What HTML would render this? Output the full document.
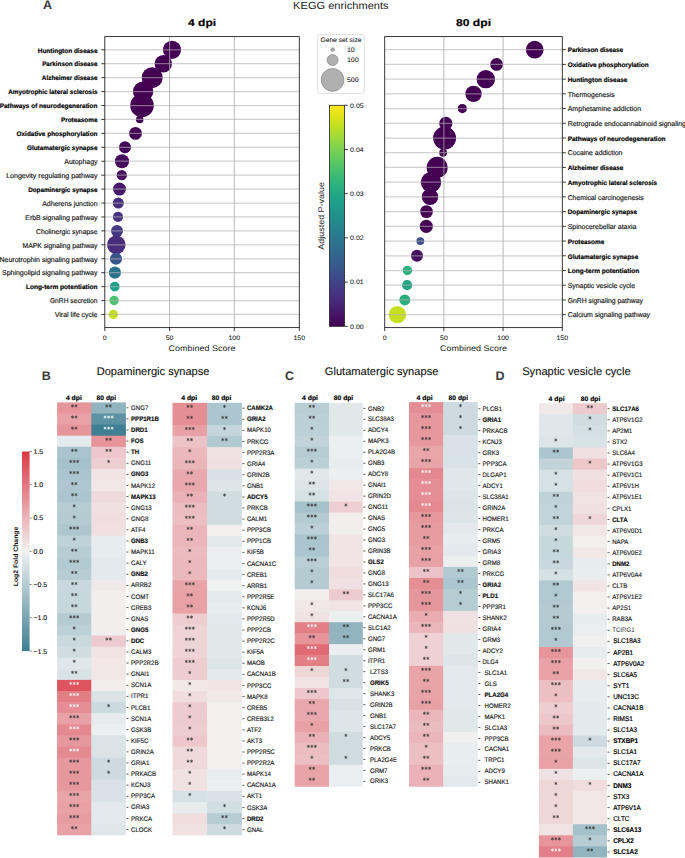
<!DOCTYPE html>
<html><head><meta charset="utf-8"><style>
html,body{margin:0;padding:0;background:#fff;}
svg{display:block;font-family:'Liberation Sans',sans-serif;}
text{font-family:'Liberation Sans',sans-serif;text-rendering:geometricPrecision;}
</style></head><body>
<svg width="685" height="858" viewBox="0 0 685 858">
<rect width="685" height="858" fill="#fff"/>
<text x="43.00" y="8.90" font-size="12.5" font-weight="bold" fill="#3a3a3a">A</text>
<text x="340.85" y="8.80" font-size="10.3" text-anchor="middle" textLength="95.50" lengthAdjust="spacingAndGlyphs" fill="#1a1a1a">KEGG enrichments</text>
<text x="202.05" y="25.50" font-size="10" text-anchor="middle" font-weight="bold" textLength="28.10" lengthAdjust="spacingAndGlyphs" fill="#000" stroke="#000" stroke-width="0.18">4 dpi</text>
<rect x="104.8" y="36.6" width="194.50" height="291.00" fill="#fff"/>
<circle cx="172.0" cy="49.80" r="9.1" fill="#440154"/>
<circle cx="163.3" cy="63.73" r="8.7" fill="#440154"/>
<circle cx="152.2" cy="77.66" r="10.5" fill="#440154"/>
<circle cx="143.1" cy="91.59" r="10.2" fill="#440154"/>
<circle cx="142.0" cy="105.52" r="11.8" fill="#440154"/>
<circle cx="139.7" cy="119.45" r="3.8" fill="#440154"/>
<circle cx="135.5" cy="133.38" r="6.4" fill="#440154"/>
<circle cx="125.0" cy="147.31" r="6.0" fill="#450559"/>
<circle cx="122.0" cy="161.24" r="7.1" fill="#46085c"/>
<circle cx="121.8" cy="175.17" r="5.2" fill="#470e61"/>
<circle cx="119.5" cy="189.10" r="6.5" fill="#48186a"/>
<circle cx="118.3" cy="203.03" r="5.5" fill="#472e7c"/>
<circle cx="118.0" cy="216.96" r="5.1" fill="#46327e"/>
<circle cx="117.0" cy="230.89" r="6.0" fill="#443983"/>
<circle cx="116.3" cy="244.82" r="9.3" fill="#472d7b"/>
<circle cx="116.0" cy="258.75" r="6.1" fill="#3a548c"/>
<circle cx="114.9" cy="272.68" r="6.1" fill="#2c738e"/>
<circle cx="114.8" cy="286.61" r="4.9" fill="#1fa088"/>
<circle cx="114.1" cy="300.54" r="4.7" fill="#4ac16d"/>
<circle cx="113.3" cy="314.47" r="4.6" fill="#c2df23"/>
<line x1="169.6" y1="36.6" x2="169.6" y2="327.6" stroke="#a8a8a8" stroke-opacity="0.85" stroke-width="0.95"/>
<line x1="234.3" y1="36.6" x2="234.3" y2="327.6" stroke="#a8a8a8" stroke-opacity="0.85" stroke-width="0.95"/>
<line x1="104.8" y1="49.80" x2="299.3" y2="49.80" stroke="#b0b0b0" stroke-opacity="0.6" stroke-width="1.25"/>
<line x1="104.8" y1="63.73" x2="299.3" y2="63.73" stroke="#b0b0b0" stroke-opacity="0.6" stroke-width="1.25"/>
<line x1="104.8" y1="77.66" x2="299.3" y2="77.66" stroke="#b0b0b0" stroke-opacity="0.6" stroke-width="1.25"/>
<line x1="104.8" y1="91.59" x2="299.3" y2="91.59" stroke="#b0b0b0" stroke-opacity="0.6" stroke-width="1.25"/>
<line x1="104.8" y1="105.52" x2="299.3" y2="105.52" stroke="#b0b0b0" stroke-opacity="0.6" stroke-width="1.25"/>
<line x1="104.8" y1="119.45" x2="299.3" y2="119.45" stroke="#b0b0b0" stroke-opacity="0.6" stroke-width="1.25"/>
<line x1="104.8" y1="133.38" x2="299.3" y2="133.38" stroke="#b0b0b0" stroke-opacity="0.6" stroke-width="1.25"/>
<line x1="104.8" y1="147.31" x2="299.3" y2="147.31" stroke="#b0b0b0" stroke-opacity="0.6" stroke-width="1.25"/>
<line x1="104.8" y1="161.24" x2="299.3" y2="161.24" stroke="#b0b0b0" stroke-opacity="0.6" stroke-width="1.25"/>
<line x1="104.8" y1="175.17" x2="299.3" y2="175.17" stroke="#b0b0b0" stroke-opacity="0.6" stroke-width="1.25"/>
<line x1="104.8" y1="189.10" x2="299.3" y2="189.10" stroke="#b0b0b0" stroke-opacity="0.6" stroke-width="1.25"/>
<line x1="104.8" y1="203.03" x2="299.3" y2="203.03" stroke="#b0b0b0" stroke-opacity="0.6" stroke-width="1.25"/>
<line x1="104.8" y1="216.96" x2="299.3" y2="216.96" stroke="#b0b0b0" stroke-opacity="0.6" stroke-width="1.25"/>
<line x1="104.8" y1="230.89" x2="299.3" y2="230.89" stroke="#b0b0b0" stroke-opacity="0.6" stroke-width="1.25"/>
<line x1="104.8" y1="244.82" x2="299.3" y2="244.82" stroke="#b0b0b0" stroke-opacity="0.6" stroke-width="1.25"/>
<line x1="104.8" y1="258.75" x2="299.3" y2="258.75" stroke="#b0b0b0" stroke-opacity="0.6" stroke-width="1.25"/>
<line x1="104.8" y1="272.68" x2="299.3" y2="272.68" stroke="#b0b0b0" stroke-opacity="0.6" stroke-width="1.25"/>
<line x1="104.8" y1="286.61" x2="299.3" y2="286.61" stroke="#b0b0b0" stroke-opacity="0.6" stroke-width="1.25"/>
<line x1="104.8" y1="300.54" x2="299.3" y2="300.54" stroke="#b0b0b0" stroke-opacity="0.6" stroke-width="1.25"/>
<line x1="104.8" y1="314.47" x2="299.3" y2="314.47" stroke="#b0b0b0" stroke-opacity="0.6" stroke-width="1.25"/>
<rect x="104.8" y="36.6" width="194.50" height="291.00" fill="none" stroke="#222" stroke-width="0.9"/>
<line x1="101.3" y1="49.80" x2="104.8" y2="49.80" stroke="#222" stroke-width="0.9"/>
<text x="97.50" y="52.55" font-size="6.6" text-anchor="end" font-weight="bold" textLength="59.70" lengthAdjust="spacingAndGlyphs" fill="#000" stroke="#000" stroke-width="0.18">Huntington disease</text>
<line x1="101.3" y1="63.73" x2="104.8" y2="63.73" stroke="#222" stroke-width="0.9"/>
<text x="97.50" y="66.48" font-size="6.6" text-anchor="end" font-weight="bold" textLength="55.37" lengthAdjust="spacingAndGlyphs" fill="#000" stroke="#000" stroke-width="0.18">Parkinson disease</text>
<line x1="101.3" y1="77.66" x2="104.8" y2="77.66" stroke="#222" stroke-width="0.9"/>
<text x="97.50" y="80.41" font-size="6.6" text-anchor="end" font-weight="bold" textLength="55.68" lengthAdjust="spacingAndGlyphs" fill="#000" stroke="#000" stroke-width="0.18">Alzheimer disease</text>
<line x1="101.3" y1="91.59" x2="104.8" y2="91.59" stroke="#222" stroke-width="0.9"/>
<text x="97.50" y="94.34" font-size="6.6" text-anchor="end" font-weight="bold" textLength="89.32" lengthAdjust="spacingAndGlyphs" fill="#000" stroke="#000" stroke-width="0.18">Amyotrophic lateral sclerosis</text>
<line x1="101.3" y1="105.52" x2="104.8" y2="105.52" stroke="#222" stroke-width="0.9"/>
<text x="97.50" y="108.27" font-size="6.6" text-anchor="end" font-weight="bold" textLength="97.84" lengthAdjust="spacingAndGlyphs" fill="#000" stroke="#000" stroke-width="0.18">Pathways of neurodegeneration</text>
<line x1="101.3" y1="119.45" x2="104.8" y2="119.45" stroke="#222" stroke-width="0.9"/>
<text x="97.50" y="122.20" font-size="6.6" text-anchor="end" font-weight="bold" textLength="36.57" lengthAdjust="spacingAndGlyphs" fill="#000" stroke="#000" stroke-width="0.18">Proteasome</text>
<line x1="101.3" y1="133.38" x2="104.8" y2="133.38" stroke="#222" stroke-width="0.9"/>
<text x="97.50" y="136.13" font-size="6.6" text-anchor="end" font-weight="bold" textLength="80.95" lengthAdjust="spacingAndGlyphs" fill="#000" stroke="#000" stroke-width="0.18">Oxidative phosphorylation</text>
<line x1="101.3" y1="147.31" x2="104.8" y2="147.31" stroke="#222" stroke-width="0.9"/>
<text x="97.50" y="150.06" font-size="6.6" text-anchor="end" font-weight="bold" textLength="70.55" lengthAdjust="spacingAndGlyphs" fill="#000" stroke="#000" stroke-width="0.18">Glutamatergic synapse</text>
<line x1="101.3" y1="161.24" x2="104.8" y2="161.24" stroke="#222" stroke-width="0.9"/>
<text x="97.50" y="163.99" font-size="7.0" text-anchor="end" textLength="33.23" lengthAdjust="spacingAndGlyphs" fill="#1a1a1a" stroke="#1a1a1a" stroke-width="0.18">Autophagy</text>
<line x1="101.3" y1="175.17" x2="104.8" y2="175.17" stroke="#222" stroke-width="0.9"/>
<text x="97.50" y="177.92" font-size="7.0" text-anchor="end" textLength="91.33" lengthAdjust="spacingAndGlyphs" fill="#1a1a1a" stroke="#1a1a1a" stroke-width="0.18">Longevity regulating pathway</text>
<line x1="101.3" y1="189.10" x2="104.8" y2="189.10" stroke="#222" stroke-width="0.9"/>
<text x="97.50" y="191.85" font-size="6.6" text-anchor="end" font-weight="bold" textLength="69.37" lengthAdjust="spacingAndGlyphs" fill="#000" stroke="#000" stroke-width="0.18">Dopaminergic synapse</text>
<line x1="101.3" y1="203.03" x2="104.8" y2="203.03" stroke="#222" stroke-width="0.9"/>
<text x="97.50" y="205.78" font-size="7.0" text-anchor="end" textLength="55.31" lengthAdjust="spacingAndGlyphs" fill="#1a1a1a" stroke="#1a1a1a" stroke-width="0.18">Adherens junction</text>
<line x1="101.3" y1="216.96" x2="104.8" y2="216.96" stroke="#222" stroke-width="0.9"/>
<text x="97.50" y="219.71" font-size="7.0" text-anchor="end" textLength="72.22" lengthAdjust="spacingAndGlyphs" fill="#1a1a1a" stroke="#1a1a1a" stroke-width="0.18">ErbB signaling pathway</text>
<line x1="101.3" y1="230.89" x2="104.8" y2="230.89" stroke="#222" stroke-width="0.9"/>
<text x="97.50" y="233.64" font-size="7.0" text-anchor="end" textLength="61.52" lengthAdjust="spacingAndGlyphs" fill="#1a1a1a" stroke="#1a1a1a" stroke-width="0.18">Cholinergic synapse</text>
<line x1="101.3" y1="244.82" x2="104.8" y2="244.82" stroke="#222" stroke-width="0.9"/>
<text x="97.50" y="247.57" font-size="7.0" text-anchor="end" textLength="74.92" lengthAdjust="spacingAndGlyphs" fill="#1a1a1a" stroke="#1a1a1a" stroke-width="0.18">MAPK signaling pathway</text>
<line x1="101.3" y1="258.75" x2="104.8" y2="258.75" stroke="#222" stroke-width="0.9"/>
<text x="97.50" y="261.50" font-size="7.0" text-anchor="end" textLength="97.96" lengthAdjust="spacingAndGlyphs" fill="#1a1a1a" stroke="#1a1a1a" stroke-width="0.18">Neurotrophin signaling pathway</text>
<line x1="101.3" y1="272.68" x2="104.8" y2="272.68" stroke="#222" stroke-width="0.9"/>
<text x="97.50" y="275.43" font-size="7.0" text-anchor="end" textLength="95.48" lengthAdjust="spacingAndGlyphs" fill="#1a1a1a" stroke="#1a1a1a" stroke-width="0.18">Sphingolipid signaling pathway</text>
<line x1="101.3" y1="286.61" x2="104.8" y2="286.61" stroke="#222" stroke-width="0.9"/>
<text x="97.50" y="289.36" font-size="6.6" text-anchor="end" font-weight="bold" textLength="71.50" lengthAdjust="spacingAndGlyphs" fill="#000" stroke="#000" stroke-width="0.18">Long-term potentiation</text>
<line x1="101.3" y1="300.54" x2="104.8" y2="300.54" stroke="#222" stroke-width="0.9"/>
<text x="97.50" y="303.29" font-size="7.0" text-anchor="end" textLength="47.61" lengthAdjust="spacingAndGlyphs" fill="#1a1a1a" stroke="#1a1a1a" stroke-width="0.18">GnRH secretion</text>
<line x1="101.3" y1="314.47" x2="104.8" y2="314.47" stroke="#222" stroke-width="0.9"/>
<text x="97.50" y="317.22" font-size="7.0" text-anchor="end" textLength="42.75" lengthAdjust="spacingAndGlyphs" fill="#1a1a1a" stroke="#1a1a1a" stroke-width="0.18">Viral life cycle</text>
<line x1="104.8" y1="327.6" x2="104.8" y2="331.1" stroke="#222" stroke-width="0.9"/>
<text x="104.80" y="340.00" font-size="6.4" text-anchor="middle" textLength="3.89" lengthAdjust="spacingAndGlyphs" fill="#222" stroke="#222" stroke-width="0.06">0</text>
<line x1="169.6" y1="327.6" x2="169.6" y2="331.1" stroke="#222" stroke-width="0.9"/>
<text x="169.60" y="340.00" font-size="6.4" text-anchor="middle" textLength="7.79" lengthAdjust="spacingAndGlyphs" fill="#222" stroke="#222" stroke-width="0.06">50</text>
<line x1="234.3" y1="327.6" x2="234.3" y2="331.1" stroke="#222" stroke-width="0.9"/>
<text x="234.30" y="340.00" font-size="6.4" text-anchor="middle" textLength="11.68" lengthAdjust="spacingAndGlyphs" fill="#222" stroke="#222" stroke-width="0.06">100</text>
<line x1="299.3" y1="327.6" x2="299.3" y2="331.1" stroke="#222" stroke-width="0.9"/>
<text x="299.30" y="340.00" font-size="6.4" text-anchor="middle" textLength="11.68" lengthAdjust="spacingAndGlyphs" fill="#222" stroke="#222" stroke-width="0.06">150</text>
<text x="202.05" y="350.80" font-size="8.2" text-anchor="middle" textLength="66.90" lengthAdjust="spacingAndGlyphs" fill="#1a1a1a">Combined Score</text>
<text x="473.50" y="25.50" font-size="10" text-anchor="middle" font-weight="bold" textLength="35.04" lengthAdjust="spacingAndGlyphs" fill="#000" stroke="#000" stroke-width="0.18">80 dpi</text>
<rect x="384.7" y="36.6" width="177.60" height="291.00" fill="#fff"/>
<circle cx="534.7" cy="49.70" r="8.9" fill="#440154"/>
<circle cx="496.6" cy="64.42" r="6.4" fill="#440154"/>
<circle cx="485.8" cy="79.14" r="9.2" fill="#440154"/>
<circle cx="473.5" cy="93.86" r="8.2" fill="#440154"/>
<circle cx="462.3" cy="108.58" r="4.6" fill="#440154"/>
<circle cx="445.8" cy="123.30" r="6.6" fill="#440154"/>
<circle cx="444.6" cy="138.02" r="11.5" fill="#440154"/>
<circle cx="443.1" cy="152.74" r="3.9" fill="#440154"/>
<circle cx="437.2" cy="167.46" r="10.6" fill="#440154"/>
<circle cx="431.0" cy="182.18" r="10.2" fill="#440154"/>
<circle cx="430.0" cy="196.90" r="8.2" fill="#440154"/>
<circle cx="426.5" cy="211.62" r="6.4" fill="#440154"/>
<circle cx="426.3" cy="226.34" r="6.6" fill="#440154"/>
<circle cx="420.3" cy="241.06" r="3.9" fill="#3e4c8a"/>
<circle cx="417.0" cy="255.78" r="6.0" fill="#460f5f"/>
<circle cx="407.4" cy="270.50" r="4.7" fill="#2db27d"/>
<circle cx="407.1" cy="285.22" r="5.1" fill="#25a585"/>
<circle cx="404.8" cy="299.94" r="5.5" fill="#2aae80"/>
<circle cx="397.4" cy="314.66" r="8.7" fill="#c6e021"/>
<line x1="443.9" y1="36.6" x2="443.9" y2="327.6" stroke="#a8a8a8" stroke-opacity="0.85" stroke-width="0.95"/>
<line x1="503.1" y1="36.6" x2="503.1" y2="327.6" stroke="#a8a8a8" stroke-opacity="0.85" stroke-width="0.95"/>
<line x1="384.7" y1="49.70" x2="562.3" y2="49.70" stroke="#b0b0b0" stroke-opacity="0.6" stroke-width="1.25"/>
<line x1="384.7" y1="64.42" x2="562.3" y2="64.42" stroke="#b0b0b0" stroke-opacity="0.6" stroke-width="1.25"/>
<line x1="384.7" y1="79.14" x2="562.3" y2="79.14" stroke="#b0b0b0" stroke-opacity="0.6" stroke-width="1.25"/>
<line x1="384.7" y1="93.86" x2="562.3" y2="93.86" stroke="#b0b0b0" stroke-opacity="0.6" stroke-width="1.25"/>
<line x1="384.7" y1="108.58" x2="562.3" y2="108.58" stroke="#b0b0b0" stroke-opacity="0.6" stroke-width="1.25"/>
<line x1="384.7" y1="123.30" x2="562.3" y2="123.30" stroke="#b0b0b0" stroke-opacity="0.6" stroke-width="1.25"/>
<line x1="384.7" y1="138.02" x2="562.3" y2="138.02" stroke="#b0b0b0" stroke-opacity="0.6" stroke-width="1.25"/>
<line x1="384.7" y1="152.74" x2="562.3" y2="152.74" stroke="#b0b0b0" stroke-opacity="0.6" stroke-width="1.25"/>
<line x1="384.7" y1="167.46" x2="562.3" y2="167.46" stroke="#b0b0b0" stroke-opacity="0.6" stroke-width="1.25"/>
<line x1="384.7" y1="182.18" x2="562.3" y2="182.18" stroke="#b0b0b0" stroke-opacity="0.6" stroke-width="1.25"/>
<line x1="384.7" y1="196.90" x2="562.3" y2="196.90" stroke="#b0b0b0" stroke-opacity="0.6" stroke-width="1.25"/>
<line x1="384.7" y1="211.62" x2="562.3" y2="211.62" stroke="#b0b0b0" stroke-opacity="0.6" stroke-width="1.25"/>
<line x1="384.7" y1="226.34" x2="562.3" y2="226.34" stroke="#b0b0b0" stroke-opacity="0.6" stroke-width="1.25"/>
<line x1="384.7" y1="241.06" x2="562.3" y2="241.06" stroke="#b0b0b0" stroke-opacity="0.6" stroke-width="1.25"/>
<line x1="384.7" y1="255.78" x2="562.3" y2="255.78" stroke="#b0b0b0" stroke-opacity="0.6" stroke-width="1.25"/>
<line x1="384.7" y1="270.50" x2="562.3" y2="270.50" stroke="#b0b0b0" stroke-opacity="0.6" stroke-width="1.25"/>
<line x1="384.7" y1="285.22" x2="562.3" y2="285.22" stroke="#b0b0b0" stroke-opacity="0.6" stroke-width="1.25"/>
<line x1="384.7" y1="299.94" x2="562.3" y2="299.94" stroke="#b0b0b0" stroke-opacity="0.6" stroke-width="1.25"/>
<line x1="384.7" y1="314.66" x2="562.3" y2="314.66" stroke="#b0b0b0" stroke-opacity="0.6" stroke-width="1.25"/>
<rect x="384.7" y="36.6" width="177.60" height="291.00" fill="none" stroke="#222" stroke-width="0.9"/>
<line x1="562.3" y1="49.70" x2="565.8" y2="49.70" stroke="#222" stroke-width="0.9"/>
<text x="567.70" y="52.45" font-size="6.6" font-weight="bold" textLength="55.37" lengthAdjust="spacingAndGlyphs" fill="#000" stroke="#000" stroke-width="0.18">Parkinson disease</text>
<line x1="562.3" y1="64.42" x2="565.8" y2="64.42" stroke="#222" stroke-width="0.9"/>
<text x="567.70" y="67.17" font-size="6.6" font-weight="bold" textLength="80.95" lengthAdjust="spacingAndGlyphs" fill="#000" stroke="#000" stroke-width="0.18">Oxidative phosphorylation</text>
<line x1="562.3" y1="79.14" x2="565.8" y2="79.14" stroke="#222" stroke-width="0.9"/>
<text x="567.70" y="81.89" font-size="6.6" font-weight="bold" textLength="59.70" lengthAdjust="spacingAndGlyphs" fill="#000" stroke="#000" stroke-width="0.18">Huntington disease</text>
<line x1="562.3" y1="93.86" x2="565.8" y2="93.86" stroke="#222" stroke-width="0.9"/>
<text x="567.70" y="96.61" font-size="7.0" textLength="46.87" lengthAdjust="spacingAndGlyphs" fill="#1a1a1a" stroke="#1a1a1a" stroke-width="0.18">Thermogenesis</text>
<line x1="562.3" y1="108.58" x2="565.8" y2="108.58" stroke="#222" stroke-width="0.9"/>
<text x="567.70" y="111.33" font-size="7.0" textLength="73.39" lengthAdjust="spacingAndGlyphs" fill="#1a1a1a" stroke="#1a1a1a" stroke-width="0.18">Amphetamine addiction</text>
<line x1="562.3" y1="123.30" x2="565.8" y2="123.30" stroke="#222" stroke-width="0.9"/>
<text x="567.70" y="126.05" font-size="7.0" textLength="118.22" lengthAdjust="spacingAndGlyphs" fill="#1a1a1a" stroke="#1a1a1a" stroke-width="0.18">Retrograde endocannabinoid signaling</text>
<line x1="562.3" y1="138.02" x2="565.8" y2="138.02" stroke="#222" stroke-width="0.9"/>
<text x="567.70" y="140.77" font-size="6.6" font-weight="bold" textLength="97.84" lengthAdjust="spacingAndGlyphs" fill="#000" stroke="#000" stroke-width="0.18">Pathways of neurodegeneration</text>
<line x1="562.3" y1="152.74" x2="565.8" y2="152.74" stroke="#222" stroke-width="0.9"/>
<text x="567.70" y="155.49" font-size="7.0" textLength="54.73" lengthAdjust="spacingAndGlyphs" fill="#1a1a1a" stroke="#1a1a1a" stroke-width="0.18">Cocaine addiction</text>
<line x1="562.3" y1="167.46" x2="565.8" y2="167.46" stroke="#222" stroke-width="0.9"/>
<text x="567.70" y="170.21" font-size="6.6" font-weight="bold" textLength="55.68" lengthAdjust="spacingAndGlyphs" fill="#000" stroke="#000" stroke-width="0.18">Alzheimer disease</text>
<line x1="562.3" y1="182.18" x2="565.8" y2="182.18" stroke="#222" stroke-width="0.9"/>
<text x="567.70" y="184.93" font-size="6.6" font-weight="bold" textLength="89.32" lengthAdjust="spacingAndGlyphs" fill="#000" stroke="#000" stroke-width="0.18">Amyotrophic lateral sclerosis</text>
<line x1="562.3" y1="196.90" x2="565.8" y2="196.90" stroke="#222" stroke-width="0.9"/>
<text x="567.70" y="199.65" font-size="7.0" textLength="75.90" lengthAdjust="spacingAndGlyphs" fill="#1a1a1a" stroke="#1a1a1a" stroke-width="0.18">Chemical carcinogenesis</text>
<line x1="562.3" y1="211.62" x2="565.8" y2="211.62" stroke="#222" stroke-width="0.9"/>
<text x="567.70" y="214.37" font-size="6.6" font-weight="bold" textLength="69.37" lengthAdjust="spacingAndGlyphs" fill="#000" stroke="#000" stroke-width="0.18">Dopaminergic synapse</text>
<line x1="562.3" y1="226.34" x2="565.8" y2="226.34" stroke="#222" stroke-width="0.9"/>
<text x="567.70" y="229.09" font-size="7.0" textLength="68.61" lengthAdjust="spacingAndGlyphs" fill="#1a1a1a" stroke="#1a1a1a" stroke-width="0.18">Spinocerebellar ataxia</text>
<line x1="562.3" y1="241.06" x2="565.8" y2="241.06" stroke="#222" stroke-width="0.9"/>
<text x="567.70" y="243.81" font-size="6.6" font-weight="bold" textLength="36.57" lengthAdjust="spacingAndGlyphs" fill="#000" stroke="#000" stroke-width="0.18">Proteasome</text>
<line x1="562.3" y1="255.78" x2="565.8" y2="255.78" stroke="#222" stroke-width="0.9"/>
<text x="567.70" y="258.53" font-size="6.6" font-weight="bold" textLength="70.55" lengthAdjust="spacingAndGlyphs" fill="#000" stroke="#000" stroke-width="0.18">Glutamatergic synapse</text>
<line x1="562.3" y1="270.50" x2="565.8" y2="270.50" stroke="#222" stroke-width="0.9"/>
<text x="567.70" y="273.25" font-size="6.6" font-weight="bold" textLength="71.50" lengthAdjust="spacingAndGlyphs" fill="#000" stroke="#000" stroke-width="0.18">Long-term potentiation</text>
<line x1="562.3" y1="285.22" x2="565.8" y2="285.22" stroke="#222" stroke-width="0.9"/>
<text x="567.70" y="287.97" font-size="7.0" textLength="67.30" lengthAdjust="spacingAndGlyphs" fill="#1a1a1a" stroke="#1a1a1a" stroke-width="0.18">Synaptic vesicle cycle</text>
<line x1="562.3" y1="299.94" x2="565.8" y2="299.94" stroke="#222" stroke-width="0.9"/>
<text x="567.70" y="302.69" font-size="7.0" textLength="75.22" lengthAdjust="spacingAndGlyphs" fill="#1a1a1a" stroke="#1a1a1a" stroke-width="0.18">GnRH signaling pathway</text>
<line x1="562.3" y1="314.66" x2="565.8" y2="314.66" stroke="#222" stroke-width="0.9"/>
<text x="567.70" y="317.41" font-size="7.0" textLength="82.38" lengthAdjust="spacingAndGlyphs" fill="#1a1a1a" stroke="#1a1a1a" stroke-width="0.18">Calcium signaling pathway</text>
<line x1="384.7" y1="327.6" x2="384.7" y2="331.1" stroke="#222" stroke-width="0.9"/>
<text x="384.70" y="340.00" font-size="6.4" text-anchor="middle" textLength="3.89" lengthAdjust="spacingAndGlyphs" fill="#222" stroke="#222" stroke-width="0.06">0</text>
<line x1="443.9" y1="327.6" x2="443.9" y2="331.1" stroke="#222" stroke-width="0.9"/>
<text x="443.90" y="340.00" font-size="6.4" text-anchor="middle" textLength="7.79" lengthAdjust="spacingAndGlyphs" fill="#222" stroke="#222" stroke-width="0.06">50</text>
<line x1="503.1" y1="327.6" x2="503.1" y2="331.1" stroke="#222" stroke-width="0.9"/>
<text x="503.10" y="340.00" font-size="6.4" text-anchor="middle" textLength="11.68" lengthAdjust="spacingAndGlyphs" fill="#222" stroke="#222" stroke-width="0.06">100</text>
<line x1="562.3" y1="327.6" x2="562.3" y2="331.1" stroke="#222" stroke-width="0.9"/>
<text x="562.30" y="340.00" font-size="6.4" text-anchor="middle" textLength="11.68" lengthAdjust="spacingAndGlyphs" fill="#222" stroke="#222" stroke-width="0.06">150</text>
<text x="473.50" y="350.80" font-size="8.2" text-anchor="middle" textLength="66.90" lengthAdjust="spacingAndGlyphs" fill="#1a1a1a">Combined Score</text>
<rect x="317.8" y="34.6" width="46.4" height="58.8" rx="1.5" fill="#fff" stroke="#d6d6d6" stroke-width="0.8"/>
<text x="341.00" y="42.30" font-size="6.6" text-anchor="middle" textLength="41.20" lengthAdjust="spacingAndGlyphs" fill="#222" stroke="#222" stroke-width="0.08">Gene set size</text>
<circle cx="332.6" cy="49.6" r="1.8" fill="#b0b0b0" stroke="#858585" stroke-width="0.7"/>
<text x="346.90" y="52.00" font-size="6.6" textLength="7.79" lengthAdjust="spacingAndGlyphs" fill="#222" stroke="#222" stroke-width="0.08">10</text>
<circle cx="332.6" cy="60.0" r="5.5" fill="#b0b0b0" stroke="#858585" stroke-width="0.7"/>
<text x="346.90" y="62.40" font-size="6.6" textLength="11.68" lengthAdjust="spacingAndGlyphs" fill="#222" stroke="#222" stroke-width="0.08">100</text>
<circle cx="332.6" cy="79.9" r="11.4" fill="#b0b0b0" stroke="#858585" stroke-width="0.7"/>
<text x="346.90" y="82.30" font-size="6.6" textLength="11.68" lengthAdjust="spacingAndGlyphs" fill="#222" stroke="#222" stroke-width="0.08">500</text>
<defs><linearGradient id="vir" x1="0" y1="0" x2="0" y2="1"><stop offset="0.000" stop-color="#fde725"/><stop offset="0.050" stop-color="#dfe318"/><stop offset="0.100" stop-color="#bddf26"/><stop offset="0.150" stop-color="#9bd93c"/><stop offset="0.200" stop-color="#7ad151"/><stop offset="0.250" stop-color="#5ec962"/><stop offset="0.300" stop-color="#44bf70"/><stop offset="0.350" stop-color="#2fb47c"/><stop offset="0.400" stop-color="#22a884"/><stop offset="0.450" stop-color="#1e9c89"/><stop offset="0.500" stop-color="#21918c"/><stop offset="0.550" stop-color="#25848e"/><stop offset="0.600" stop-color="#2a788e"/><stop offset="0.650" stop-color="#2f6c8e"/><stop offset="0.700" stop-color="#355f8d"/><stop offset="0.750" stop-color="#3b528b"/><stop offset="0.800" stop-color="#414487"/><stop offset="0.850" stop-color="#463480"/><stop offset="0.900" stop-color="#482475"/><stop offset="0.950" stop-color="#471365"/><stop offset="1.000" stop-color="#440154"/></linearGradient>
<linearGradient id="div" x1="0" y1="0" x2="0" y2="1"><stop offset="0.000" stop-color="#da3b46"/><stop offset="0.033" stop-color="#db4651"/><stop offset="0.067" stop-color="#dd535d"/><stop offset="0.100" stop-color="#df5e68"/><stop offset="0.133" stop-color="#e06b74"/><stop offset="0.167" stop-color="#e2777f"/><stop offset="0.200" stop-color="#e4838b"/><stop offset="0.233" stop-color="#e58f95"/><stop offset="0.267" stop-color="#e79ca2"/><stop offset="0.300" stop-color="#e9a8ad"/><stop offset="0.333" stop-color="#eab5b9"/><stop offset="0.367" stop-color="#ecc0c3"/><stop offset="0.400" stop-color="#eecdcf"/><stop offset="0.433" stop-color="#efd9da"/><stop offset="0.467" stop-color="#f1e5e6"/><stop offset="0.500" stop-color="#f2f1f1"/><stop offset="0.533" stop-color="#e4eaed"/><stop offset="0.567" stop-color="#d8e2e6"/><stop offset="0.600" stop-color="#cddbe0"/><stop offset="0.633" stop-color="#c0d3d9"/><stop offset="0.667" stop-color="#b5ccd3"/><stop offset="0.700" stop-color="#a9c4cc"/><stop offset="0.733" stop-color="#9ebdc6"/><stop offset="0.767" stop-color="#91b4bf"/><stop offset="0.800" stop-color="#85adb9"/><stop offset="0.833" stop-color="#79a5b3"/><stop offset="0.867" stop-color="#6e9ead"/><stop offset="0.900" stop-color="#6296a6"/><stop offset="0.933" stop-color="#578fa0"/><stop offset="0.967" stop-color="#4a8699"/><stop offset="1.000" stop-color="#3f7f93"/></linearGradient></defs>
<rect x="329.5" y="105.3" width="15" height="221" fill="url(#vir)" stroke="#222" stroke-width="0.8"/>
<line x1="344.5" y1="105.30" x2="347.8" y2="105.30" stroke="#222" stroke-width="0.9"/>
<text x="350.10" y="107.60" font-size="6.4" textLength="13.63" lengthAdjust="spacingAndGlyphs" fill="#222" stroke="#222" stroke-width="0.06">0.05</text>
<line x1="344.5" y1="149.50" x2="347.8" y2="149.50" stroke="#222" stroke-width="0.9"/>
<text x="350.10" y="151.80" font-size="6.4" textLength="13.63" lengthAdjust="spacingAndGlyphs" fill="#222" stroke="#222" stroke-width="0.06">0.04</text>
<line x1="344.5" y1="193.70" x2="347.8" y2="193.70" stroke="#222" stroke-width="0.9"/>
<text x="350.10" y="196.00" font-size="6.4" textLength="13.63" lengthAdjust="spacingAndGlyphs" fill="#222" stroke="#222" stroke-width="0.06">0.03</text>
<line x1="344.5" y1="237.90" x2="347.8" y2="237.90" stroke="#222" stroke-width="0.9"/>
<text x="350.10" y="240.20" font-size="6.4" textLength="13.63" lengthAdjust="spacingAndGlyphs" fill="#222" stroke="#222" stroke-width="0.06">0.02</text>
<line x1="344.5" y1="282.10" x2="347.8" y2="282.10" stroke="#222" stroke-width="0.9"/>
<text x="350.10" y="284.40" font-size="6.4" textLength="13.63" lengthAdjust="spacingAndGlyphs" fill="#222" stroke="#222" stroke-width="0.06">0.01</text>
<line x1="344.5" y1="326.30" x2="347.8" y2="326.30" stroke="#222" stroke-width="0.9"/>
<text x="350.10" y="328.60" font-size="6.4" textLength="13.63" lengthAdjust="spacingAndGlyphs" fill="#222" stroke="#222" stroke-width="0.06">0.00</text>
<text transform="translate(324.0,215.9) rotate(-90)" x="0" y="0" font-size="8.2" text-anchor="middle" fill="#1a1a1a" textLength="67.56" lengthAdjust="spacingAndGlyphs">Adjusted P-value</text>
<text x="41.80" y="379.90" font-size="12.5" font-weight="bold" fill="#3a3a3a">B</text>
<text x="284.90" y="380.30" font-size="12.5" font-weight="bold" fill="#3a3a3a">C</text>
<text x="495.60" y="380.30" font-size="12.5" font-weight="bold" fill="#3a3a3a">D</text>
<text x="96.70" y="374.70" font-size="11.1" textLength="112.80" lengthAdjust="spacingAndGlyphs" fill="#111" stroke="#111" stroke-width="0.1">Dopaminergic synapse</text>
<text x="324.80" y="374.70" font-size="11.1" textLength="113.60" lengthAdjust="spacingAndGlyphs" fill="#111" stroke="#111" stroke-width="0.1">Glutamatergic synapse</text>
<text x="522.20" y="374.70" font-size="11.1" textLength="108.40" lengthAdjust="spacingAndGlyphs" fill="#111" stroke="#111" stroke-width="0.1">Synaptic vesicle cycle</text>
<rect x="22.0" y="451.5" width="7.6" height="199.6" fill="url(#div)"/>
<line x1="29.6" y1="451.50" x2="31.6" y2="451.50" stroke="#444" stroke-width="0.7"/>
<text x="33.60" y="453.90" font-size="6.9" fill="#262626" stroke="#262626" stroke-width="0.18">1.5</text>
<line x1="29.6" y1="484.77" x2="31.6" y2="484.77" stroke="#444" stroke-width="0.7"/>
<text x="33.60" y="487.17" font-size="6.9" fill="#262626" stroke="#262626" stroke-width="0.18">1.0</text>
<line x1="29.6" y1="518.03" x2="31.6" y2="518.03" stroke="#444" stroke-width="0.7"/>
<text x="33.60" y="520.43" font-size="6.9" fill="#262626" stroke="#262626" stroke-width="0.18">0.5</text>
<line x1="29.6" y1="551.30" x2="31.6" y2="551.30" stroke="#444" stroke-width="0.7"/>
<text x="33.60" y="553.70" font-size="6.9" fill="#262626" stroke="#262626" stroke-width="0.18">0.0</text>
<line x1="29.6" y1="584.57" x2="31.6" y2="584.57" stroke="#444" stroke-width="0.7"/>
<text x="33.60" y="586.97" font-size="6.9" fill="#262626" stroke="#262626" stroke-width="0.18">−0.5</text>
<line x1="29.6" y1="617.83" x2="31.6" y2="617.83" stroke="#444" stroke-width="0.7"/>
<text x="33.60" y="620.23" font-size="6.9" fill="#262626" stroke="#262626" stroke-width="0.18">−1.0</text>
<line x1="29.6" y1="651.10" x2="31.6" y2="651.10" stroke="#444" stroke-width="0.7"/>
<text x="33.60" y="653.50" font-size="6.9" fill="#262626" stroke="#262626" stroke-width="0.18">−1.5</text>
<text transform="translate(18.0,556.5) rotate(-90)" x="0" y="0" font-size="6.6" font-weight="bold" text-anchor="middle" fill="#111" textLength="59.6" lengthAdjust="spacingAndGlyphs">Log2 Fold Change</text>
<text x="73.90" y="399.60" font-size="6.6" text-anchor="middle" font-weight="bold" textLength="16.00" lengthAdjust="spacingAndGlyphs" fill="#000" stroke="#000" stroke-width="0.18">4 dpi</text>
<text x="106.35" y="399.60" font-size="6.6" text-anchor="middle" font-weight="bold" textLength="19.50" lengthAdjust="spacingAndGlyphs" fill="#000" stroke="#000" stroke-width="0.18">80 dpi</text>
<rect x="57.10" y="402.40" width="34.80" height="11.70" fill="#e6959b"/>
<path d="M72.45,404.75L72.45,407.15M71.41,405.35L73.49,406.55M73.49,405.35L71.41,406.55M75.95,404.75L75.95,407.15M74.91,405.35L76.99,406.55M76.99,405.35L74.91,406.55" stroke="#333333" stroke-width="0.65" stroke-linecap="round"/>
<rect x="91.30" y="402.40" width="34.60" height="11.70" fill="#91b4bf"/>
<path d="M106.85,404.75L106.85,407.15M105.81,405.35L107.89,406.55M107.89,405.35L105.81,406.55M110.35,404.75L110.35,407.15M109.31,405.35L111.39,406.55M111.39,405.35L109.31,406.55" stroke="#333333" stroke-width="0.65" stroke-linecap="round"/>
<line x1="126.40" y1="407.75" x2="128.50" y2="407.75" stroke="#333" stroke-width="0.8"/>
<text x="131.00" y="409.85" font-size="6.6" textLength="17.29" lengthAdjust="spacingAndGlyphs" fill="#262626" stroke="#262626" stroke-width="0.18">GNG7</text>
<rect x="57.10" y="413.50" width="34.80" height="11.70" fill="#e8a2a7"/>
<path d="M72.45,415.85L72.45,418.25M71.41,416.45L73.49,417.65M73.49,416.45L71.41,417.65M75.95,415.85L75.95,418.25M74.91,416.45L76.99,417.65M76.99,416.45L74.91,417.65" stroke="#333333" stroke-width="0.65" stroke-linecap="round"/>
<rect x="91.30" y="413.50" width="34.60" height="11.70" fill="#5c92a3"/>
<path d="M105.10,415.85L105.10,418.25M104.06,416.45L106.14,417.65M106.14,416.45L104.06,417.65M108.60,415.85L108.60,418.25M107.56,416.45L109.64,417.65M109.64,416.45L107.56,417.65M112.10,415.85L112.10,418.25M111.06,416.45L113.14,417.65M113.14,416.45L111.06,417.65" stroke="#ffffff" stroke-width="0.65" stroke-linecap="round"/>
<line x1="126.40" y1="418.85" x2="128.50" y2="418.85" stroke="#333" stroke-width="0.8"/>
<text x="131.00" y="420.95" font-size="6.6" font-weight="bold" textLength="27.80" lengthAdjust="spacingAndGlyphs" fill="#111" stroke="#111" stroke-width="0.18">PPP1R1B</text>
<rect x="57.10" y="424.60" width="34.80" height="11.70" fill="#e6959b"/>
<path d="M72.45,426.95L72.45,429.35M71.41,427.55L73.49,428.75M73.49,427.55L71.41,428.75M75.95,426.95L75.95,429.35M74.91,427.55L76.99,428.75M76.99,427.55L74.91,428.75" stroke="#333333" stroke-width="0.65" stroke-linecap="round"/>
<rect x="91.30" y="424.60" width="34.60" height="11.70" fill="#3f7f93"/>
<path d="M105.10,426.95L105.10,429.35M104.06,427.55L106.14,428.75M106.14,427.55L104.06,428.75M108.60,426.95L108.60,429.35M107.56,427.55L109.64,428.75M109.64,427.55L107.56,428.75M112.10,426.95L112.10,429.35M111.06,427.55L113.14,428.75M113.14,427.55L111.06,428.75" stroke="#ffffff" stroke-width="0.65" stroke-linecap="round"/>
<line x1="126.40" y1="429.95" x2="128.50" y2="429.95" stroke="#333" stroke-width="0.8"/>
<text x="131.00" y="432.05" font-size="6.6" font-weight="bold" textLength="16.61" lengthAdjust="spacingAndGlyphs" fill="#111" stroke="#111" stroke-width="0.18">DRD1</text>
<rect x="57.10" y="435.70" width="34.80" height="11.70" fill="#e4eaed"/>
<rect x="91.30" y="435.70" width="34.60" height="11.70" fill="#e69399"/>
<path d="M106.85,438.05L106.85,440.45M105.81,438.65L107.89,439.85M107.89,438.65L105.81,439.85M110.35,438.05L110.35,440.45M109.31,438.65L111.39,439.85M111.39,438.65L109.31,439.85" stroke="#333333" stroke-width="0.65" stroke-linecap="round"/>
<line x1="126.40" y1="441.05" x2="128.50" y2="441.05" stroke="#333" stroke-width="0.8"/>
<text x="131.00" y="443.15" font-size="6.6" font-weight="bold" textLength="12.54" lengthAdjust="spacingAndGlyphs" fill="#111" stroke="#111" stroke-width="0.18">FOS</text>
<rect x="57.10" y="446.80" width="34.80" height="11.70" fill="#a9c4cc"/>
<path d="M72.45,449.15L72.45,451.55M71.41,449.75L73.49,450.95M73.49,449.75L71.41,450.95M75.95,449.15L75.95,451.55M74.91,449.75L76.99,450.95M76.99,449.75L74.91,450.95" stroke="#333333" stroke-width="0.65" stroke-linecap="round"/>
<rect x="91.30" y="446.80" width="34.60" height="11.70" fill="#edc7ca"/>
<path d="M106.85,449.15L106.85,451.55M105.81,449.75L107.89,450.95M107.89,449.75L105.81,450.95M110.35,449.15L110.35,451.55M109.31,449.75L111.39,450.95M111.39,449.75L109.31,450.95" stroke="#333333" stroke-width="0.65" stroke-linecap="round"/>
<line x1="126.40" y1="452.15" x2="128.50" y2="452.15" stroke="#333" stroke-width="0.8"/>
<text x="131.00" y="454.25" font-size="6.6" font-weight="bold" textLength="8.13" lengthAdjust="spacingAndGlyphs" fill="#111" stroke="#111" stroke-width="0.18">TH</text>
<rect x="57.10" y="457.90" width="34.80" height="11.70" fill="#a5c1ca"/>
<path d="M70.70,460.25L70.70,462.65M69.66,460.85L71.74,462.05M71.74,460.85L69.66,462.05M74.20,460.25L74.20,462.65M73.16,460.85L75.24,462.05M75.24,460.85L73.16,462.05M77.70,460.25L77.70,462.65M76.66,460.85L78.74,462.05M78.74,460.85L76.66,462.05" stroke="#333333" stroke-width="0.65" stroke-linecap="round"/>
<rect x="91.30" y="457.90" width="34.60" height="11.70" fill="#eecfd1"/>
<path d="M108.60,460.25L108.60,462.65M107.56,460.85L109.64,462.05M109.64,460.85L107.56,462.05" stroke="#333333" stroke-width="0.65" stroke-linecap="round"/>
<line x1="126.40" y1="463.25" x2="128.50" y2="463.25" stroke="#333" stroke-width="0.8"/>
<text x="131.00" y="465.35" font-size="6.6" textLength="20.23" lengthAdjust="spacingAndGlyphs" fill="#262626" stroke="#262626" stroke-width="0.18">GNG11</text>
<rect x="57.10" y="469.00" width="34.80" height="11.70" fill="#aac5cd"/>
<path d="M70.70,471.35L70.70,473.75M69.66,471.95L71.74,473.15M71.74,471.95L69.66,473.15M74.20,471.35L74.20,473.75M73.16,471.95L75.24,473.15M75.24,471.95L73.16,473.15M77.70,471.35L77.70,473.75M76.66,471.95L78.74,473.15M78.74,471.95L76.66,473.15" stroke="#333333" stroke-width="0.65" stroke-linecap="round"/>
<rect x="91.30" y="469.00" width="34.60" height="11.70" fill="#f1e4e5"/>
<line x1="126.40" y1="474.35" x2="128.50" y2="474.35" stroke="#333" stroke-width="0.8"/>
<text x="131.00" y="476.45" font-size="6.6" font-weight="bold" textLength="17.29" lengthAdjust="spacingAndGlyphs" fill="#111" stroke="#111" stroke-width="0.18">GNG3</text>
<rect x="57.10" y="480.10" width="34.80" height="11.70" fill="#adc6cf"/>
<path d="M72.45,482.45L72.45,484.85M71.41,483.05L73.49,484.25M73.49,483.05L71.41,484.25M75.95,482.45L75.95,484.85M74.91,483.05L76.99,484.25M76.99,483.05L74.91,484.25" stroke="#333333" stroke-width="0.65" stroke-linecap="round"/>
<rect x="91.30" y="480.10" width="34.60" height="11.70" fill="#f1e7e7"/>
<line x1="126.40" y1="485.45" x2="128.50" y2="485.45" stroke="#333" stroke-width="0.8"/>
<text x="131.00" y="487.55" font-size="6.6" textLength="24.07" lengthAdjust="spacingAndGlyphs" fill="#262626" stroke="#262626" stroke-width="0.18">MAPK12</text>
<rect x="57.10" y="491.20" width="34.80" height="11.70" fill="#aac5cd"/>
<path d="M72.45,493.55L72.45,495.95M71.41,494.15L73.49,495.35M73.49,494.15L71.41,495.35M75.95,493.55L75.95,495.95M74.91,494.15L76.99,495.35M76.99,494.15L74.91,495.35" stroke="#333333" stroke-width="0.65" stroke-linecap="round"/>
<rect x="91.30" y="491.20" width="34.60" height="11.70" fill="#efdadb"/>
<line x1="126.40" y1="496.55" x2="128.50" y2="496.55" stroke="#333" stroke-width="0.8"/>
<text x="131.00" y="498.65" font-size="6.6" font-weight="bold" textLength="24.75" lengthAdjust="spacingAndGlyphs" fill="#111" stroke="#111" stroke-width="0.18">MAPK13</text>
<rect x="57.10" y="502.30" width="34.80" height="11.70" fill="#b5ccd3"/>
<path d="M74.20,504.65L74.20,507.05M73.16,505.25L75.24,506.45M75.24,505.25L73.16,506.45" stroke="#333333" stroke-width="0.65" stroke-linecap="round"/>
<rect x="91.30" y="502.30" width="34.60" height="11.70" fill="#f0e0e1"/>
<line x1="126.40" y1="507.65" x2="128.50" y2="507.65" stroke="#333" stroke-width="0.8"/>
<text x="131.00" y="509.75" font-size="6.6" textLength="20.68" lengthAdjust="spacingAndGlyphs" fill="#262626" stroke="#262626" stroke-width="0.18">GNG13</text>
<rect x="57.10" y="513.40" width="34.80" height="11.70" fill="#b4cbd2"/>
<path d="M74.20,515.75L74.20,518.15M73.16,516.35L75.24,517.55M75.24,516.35L73.16,517.55" stroke="#333333" stroke-width="0.65" stroke-linecap="round"/>
<rect x="91.30" y="513.40" width="34.60" height="11.70" fill="#f0dedf"/>
<line x1="126.40" y1="518.75" x2="128.50" y2="518.75" stroke="#333" stroke-width="0.8"/>
<text x="131.00" y="520.85" font-size="6.6" textLength="17.29" lengthAdjust="spacingAndGlyphs" fill="#262626" stroke="#262626" stroke-width="0.18">GNG8</text>
<rect x="57.10" y="524.50" width="34.80" height="11.70" fill="#aec7cf"/>
<path d="M70.70,526.85L70.70,529.25M69.66,527.45L71.74,528.65M71.74,527.45L69.66,528.65M74.20,526.85L74.20,529.25M73.16,527.45L75.24,528.65M75.24,527.45L73.16,528.65M77.70,526.85L77.70,529.25M76.66,527.45L78.74,528.65M78.74,527.45L76.66,528.65" stroke="#333333" stroke-width="0.65" stroke-linecap="round"/>
<rect x="91.30" y="524.50" width="34.60" height="11.70" fill="#f0e0e1"/>
<line x1="126.40" y1="529.85" x2="128.50" y2="529.85" stroke="#333" stroke-width="0.8"/>
<text x="131.00" y="531.95" font-size="6.6" textLength="14.46" lengthAdjust="spacingAndGlyphs" fill="#262626" stroke="#262626" stroke-width="0.18">ATF4</text>
<rect x="57.10" y="535.60" width="34.80" height="11.70" fill="#bfd2d8"/>
<path d="M74.20,537.95L74.20,540.35M73.16,538.55L75.24,539.75M75.24,538.55L73.16,539.75" stroke="#333333" stroke-width="0.65" stroke-linecap="round"/>
<rect x="91.30" y="535.60" width="34.60" height="11.70" fill="#e7ecee"/>
<line x1="126.40" y1="540.95" x2="128.50" y2="540.95" stroke="#333" stroke-width="0.8"/>
<text x="131.00" y="543.05" font-size="6.6" font-weight="bold" textLength="16.95" lengthAdjust="spacingAndGlyphs" fill="#111" stroke="#111" stroke-width="0.18">GNB3</text>
<rect x="57.10" y="546.70" width="34.80" height="11.70" fill="#b7cdd4"/>
<path d="M72.45,549.05L72.45,551.45M71.41,549.65L73.49,550.85M73.49,549.65L71.41,550.85M75.95,549.05L75.95,551.45M74.91,549.65L76.99,550.85M76.99,549.65L74.91,550.85" stroke="#333333" stroke-width="0.65" stroke-linecap="round"/>
<rect x="91.30" y="546.70" width="34.60" height="11.70" fill="#e7ecee"/>
<line x1="126.40" y1="552.05" x2="128.50" y2="552.05" stroke="#333" stroke-width="0.8"/>
<text x="131.00" y="554.15" font-size="6.6" textLength="23.62" lengthAdjust="spacingAndGlyphs" fill="#262626" stroke="#262626" stroke-width="0.18">MAPK11</text>
<rect x="57.10" y="557.80" width="34.80" height="11.70" fill="#b2cad2"/>
<path d="M70.70,560.15L70.70,562.55M69.66,560.75L71.74,561.95M71.74,560.75L69.66,561.95M74.20,560.15L74.20,562.55M73.16,560.75L75.24,561.95M75.24,560.75L73.16,561.95M77.70,560.15L77.70,562.55M76.66,560.75L78.74,561.95M78.74,560.75L76.66,561.95" stroke="#333333" stroke-width="0.65" stroke-linecap="round"/>
<rect x="91.30" y="557.80" width="34.60" height="11.70" fill="#e3e9ec"/>
<line x1="126.40" y1="563.15" x2="128.50" y2="563.15" stroke="#333" stroke-width="0.8"/>
<text x="131.00" y="565.25" font-size="6.6" textLength="15.48" lengthAdjust="spacingAndGlyphs" fill="#262626" stroke="#262626" stroke-width="0.18">CALY</text>
<rect x="57.10" y="568.90" width="34.80" height="11.70" fill="#b7cdd4"/>
<path d="M72.45,571.25L72.45,573.65M71.41,571.85L73.49,573.05M73.49,571.85L71.41,573.05M75.95,571.25L75.95,573.65M74.91,571.85L76.99,573.05M76.99,571.85L74.91,573.05" stroke="#333333" stroke-width="0.65" stroke-linecap="round"/>
<rect x="91.30" y="568.90" width="34.60" height="11.70" fill="#e3e9ec"/>
<line x1="126.40" y1="574.25" x2="128.50" y2="574.25" stroke="#333" stroke-width="0.8"/>
<text x="131.00" y="576.35" font-size="6.6" font-weight="bold" textLength="16.95" lengthAdjust="spacingAndGlyphs" fill="#111" stroke="#111" stroke-width="0.18">GNB2</text>
<rect x="57.10" y="580.00" width="34.80" height="11.70" fill="#c8d8de"/>
<path d="M72.45,582.35L72.45,584.75M71.41,582.95L73.49,584.15M73.49,582.95L71.41,584.15M75.95,582.35L75.95,584.75M74.91,582.95L76.99,584.15M76.99,582.95L74.91,584.15" stroke="#333333" stroke-width="0.65" stroke-linecap="round"/>
<rect x="91.30" y="580.00" width="34.60" height="11.70" fill="#f1e8e9"/>
<line x1="126.40" y1="585.35" x2="128.50" y2="585.35" stroke="#333" stroke-width="0.8"/>
<text x="131.00" y="587.45" font-size="6.6" textLength="20.34" lengthAdjust="spacingAndGlyphs" fill="#262626" stroke="#262626" stroke-width="0.18">ARRB2</text>
<rect x="57.10" y="591.10" width="34.80" height="11.70" fill="#c7d8dd"/>
<path d="M72.45,593.45L72.45,595.85M71.41,594.05L73.49,595.25M73.49,594.05L71.41,595.25M75.95,593.45L75.95,595.85M74.91,594.05L76.99,595.25M76.99,594.05L74.91,595.25" stroke="#333333" stroke-width="0.65" stroke-linecap="round"/>
<rect x="91.30" y="591.10" width="34.60" height="11.70" fill="#f2eeee"/>
<line x1="126.40" y1="596.45" x2="128.50" y2="596.45" stroke="#333" stroke-width="0.8"/>
<text x="131.00" y="598.55" font-size="6.6" textLength="17.96" lengthAdjust="spacingAndGlyphs" fill="#262626" stroke="#262626" stroke-width="0.18">COMT</text>
<rect x="57.10" y="602.20" width="34.80" height="11.70" fill="#c7d8dd"/>
<path d="M72.45,604.55L72.45,606.95M71.41,605.15L73.49,606.35M73.49,605.15L71.41,606.35M75.95,604.55L75.95,606.95M74.91,605.15L76.99,606.35M76.99,605.15L74.91,606.35" stroke="#333333" stroke-width="0.65" stroke-linecap="round"/>
<rect x="91.30" y="602.20" width="34.60" height="11.70" fill="#f2eeee"/>
<line x1="126.40" y1="607.55" x2="128.50" y2="607.55" stroke="#333" stroke-width="0.8"/>
<text x="131.00" y="609.65" font-size="6.6" textLength="20.34" lengthAdjust="spacingAndGlyphs" fill="#262626" stroke="#262626" stroke-width="0.18">CREB3</text>
<rect x="57.10" y="613.30" width="34.80" height="11.70" fill="#b4cbd2"/>
<path d="M70.70,615.65L70.70,618.05M69.66,616.25L71.74,617.45M71.74,616.25L69.66,617.45M74.20,615.65L74.20,618.05M73.16,616.25L75.24,617.45M75.24,616.25L73.16,617.45M77.70,615.65L77.70,618.05M76.66,616.25L78.74,617.45M78.74,616.25L76.66,617.45" stroke="#333333" stroke-width="0.65" stroke-linecap="round"/>
<rect x="91.30" y="613.30" width="34.60" height="11.70" fill="#f2eeee"/>
<line x1="126.40" y1="618.65" x2="128.50" y2="618.65" stroke="#333" stroke-width="0.8"/>
<text x="131.00" y="620.75" font-size="6.6" textLength="17.29" lengthAdjust="spacingAndGlyphs" fill="#262626" stroke="#262626" stroke-width="0.18">GNAS</text>
<rect x="57.10" y="624.40" width="34.80" height="11.70" fill="#bcd0d7"/>
<path d="M74.20,626.75L74.20,629.15M73.16,627.35L75.24,628.55M75.24,627.35L73.16,628.55" stroke="#333333" stroke-width="0.65" stroke-linecap="round"/>
<rect x="91.30" y="624.40" width="34.60" height="11.70" fill="#f2eeee"/>
<line x1="126.40" y1="629.75" x2="128.50" y2="629.75" stroke="#333" stroke-width="0.8"/>
<text x="131.00" y="631.85" font-size="6.6" font-weight="bold" textLength="17.29" lengthAdjust="spacingAndGlyphs" fill="#111" stroke="#111" stroke-width="0.18">GNG5</text>
<rect x="57.10" y="635.50" width="34.80" height="11.70" fill="#cad9de"/>
<path d="M74.20,637.85L74.20,640.25M73.16,638.45L75.24,639.65M75.24,638.45L73.16,639.65" stroke="#333333" stroke-width="0.65" stroke-linecap="round"/>
<rect x="91.30" y="635.50" width="34.60" height="11.70" fill="#edcacd"/>
<path d="M106.85,637.85L106.85,640.25M105.81,638.45L107.89,639.65M107.89,638.45L105.81,639.65M110.35,637.85L110.35,640.25M109.31,638.45L111.39,639.65M111.39,638.45L109.31,639.65" stroke="#333333" stroke-width="0.65" stroke-linecap="round"/>
<line x1="126.40" y1="640.85" x2="128.50" y2="640.85" stroke="#333" stroke-width="0.8"/>
<text x="131.00" y="642.95" font-size="6.6" font-weight="bold" textLength="13.22" lengthAdjust="spacingAndGlyphs" fill="#111" stroke="#111" stroke-width="0.18">DDC</text>
<rect x="57.10" y="646.60" width="34.80" height="11.70" fill="#cfdde1"/>
<path d="M74.20,648.95L74.20,651.35M73.16,649.55L75.24,650.75M75.24,649.55L73.16,650.75" stroke="#333333" stroke-width="0.65" stroke-linecap="round"/>
<rect x="91.30" y="646.60" width="34.60" height="11.70" fill="#f0e3e3"/>
<line x1="126.40" y1="651.95" x2="128.50" y2="651.95" stroke="#333" stroke-width="0.8"/>
<text x="131.00" y="654.05" font-size="6.6" textLength="20.34" lengthAdjust="spacingAndGlyphs" fill="#262626" stroke="#262626" stroke-width="0.18">CALM3</text>
<rect x="57.10" y="657.70" width="34.80" height="11.70" fill="#dfe7ea"/>
<path d="M74.20,660.05L74.20,662.45M73.16,660.65L75.24,661.85M75.24,660.65L73.16,661.85" stroke="#333333" stroke-width="0.65" stroke-linecap="round"/>
<rect x="91.30" y="657.70" width="34.60" height="11.70" fill="#f1e7e7"/>
<line x1="126.40" y1="663.05" x2="128.50" y2="663.05" stroke="#333" stroke-width="0.8"/>
<text x="131.00" y="665.15" font-size="6.6" textLength="27.47" lengthAdjust="spacingAndGlyphs" fill="#262626" stroke="#262626" stroke-width="0.18">PPP2R2B</text>
<rect x="57.10" y="668.80" width="34.80" height="11.70" fill="#d9e3e7"/>
<path d="M72.45,671.15L72.45,673.55M71.41,671.75L73.49,672.95M73.49,671.75L71.41,672.95M75.95,671.15L75.95,673.55M74.91,671.75L76.99,672.95M76.99,671.75L74.91,672.95" stroke="#333333" stroke-width="0.65" stroke-linecap="round"/>
<rect x="91.30" y="668.80" width="34.60" height="11.70" fill="#f1e7e7"/>
<line x1="126.40" y1="674.15" x2="128.50" y2="674.15" stroke="#333" stroke-width="0.8"/>
<text x="131.00" y="676.25" font-size="6.6" textLength="18.31" lengthAdjust="spacingAndGlyphs" fill="#262626" stroke="#262626" stroke-width="0.18">GNAI1</text>
<rect x="57.10" y="679.90" width="34.80" height="11.70" fill="#dd545e"/>
<path d="M70.70,682.25L70.70,684.65M69.66,682.85L71.74,684.05M71.74,682.85L69.66,684.05M74.20,682.25L74.20,684.65M73.16,682.85L75.24,684.05M75.24,682.85L73.16,684.05M77.70,682.25L77.70,684.65M76.66,682.85L78.74,684.05M78.74,682.85L76.66,684.05" stroke="#ffffff" stroke-width="0.65" stroke-linecap="round"/>
<rect x="91.30" y="679.90" width="34.60" height="11.70" fill="#f2eeee"/>
<line x1="126.40" y1="685.25" x2="128.50" y2="685.25" stroke="#333" stroke-width="0.8"/>
<text x="131.00" y="687.35" font-size="6.6" textLength="20.34" lengthAdjust="spacingAndGlyphs" fill="#262626" stroke="#262626" stroke-width="0.18">SCN1A</text>
<rect x="57.10" y="691.00" width="34.80" height="11.70" fill="#e37e85"/>
<path d="M70.70,693.35L70.70,695.75M69.66,693.95L71.74,695.15M71.74,693.95L69.66,695.15M74.20,693.35L74.20,695.75M73.16,693.95L75.24,695.15M75.24,693.95L73.16,695.15M77.70,693.35L77.70,695.75M76.66,693.95L78.74,695.15M78.74,693.95L76.66,695.15" stroke="#ffffff" stroke-width="0.65" stroke-linecap="round"/>
<rect x="91.30" y="691.00" width="34.60" height="11.70" fill="#dae4e7"/>
<line x1="126.40" y1="696.35" x2="128.50" y2="696.35" stroke="#333" stroke-width="0.8"/>
<text x="131.00" y="698.45" font-size="6.6" textLength="17.29" lengthAdjust="spacingAndGlyphs" fill="#262626" stroke="#262626" stroke-width="0.18">ITPR1</text>
<rect x="57.10" y="702.10" width="34.80" height="11.70" fill="#e58d94"/>
<path d="M70.70,704.45L70.70,706.85M69.66,705.05L71.74,706.25M71.74,705.05L69.66,706.25M74.20,704.45L74.20,706.85M73.16,705.05L75.24,706.25M75.24,705.05L73.16,706.25M77.70,704.45L77.70,706.85M76.66,705.05L78.74,706.25M78.74,705.05L76.66,706.25" stroke="#ffffff" stroke-width="0.65" stroke-linecap="round"/>
<rect x="91.30" y="702.10" width="34.60" height="11.70" fill="#cbdadf"/>
<path d="M108.60,704.45L108.60,706.85M107.56,705.05L109.64,706.25M109.64,705.05L107.56,706.25" stroke="#333333" stroke-width="0.65" stroke-linecap="round"/>
<line x1="126.40" y1="707.45" x2="128.50" y2="707.45" stroke="#333" stroke-width="0.8"/>
<text x="131.00" y="709.55" font-size="6.6" textLength="19.33" lengthAdjust="spacingAndGlyphs" fill="#262626" stroke="#262626" stroke-width="0.18">PLCB1</text>
<rect x="57.10" y="713.20" width="34.80" height="11.70" fill="#e8a1a6"/>
<path d="M70.70,715.55L70.70,717.95M69.66,716.15L71.74,717.35M71.74,716.15L69.66,717.35M74.20,715.55L74.20,717.95M73.16,716.15L75.24,717.35M75.24,716.15L73.16,717.35M77.70,715.55L77.70,717.95M76.66,716.15L78.74,717.35M78.74,716.15L76.66,717.35" stroke="#333333" stroke-width="0.65" stroke-linecap="round"/>
<rect x="91.30" y="713.20" width="34.60" height="11.70" fill="#e6ebed"/>
<line x1="126.40" y1="718.55" x2="128.50" y2="718.55" stroke="#333" stroke-width="0.8"/>
<text x="131.00" y="720.65" font-size="6.6" textLength="20.34" lengthAdjust="spacingAndGlyphs" fill="#262626" stroke="#262626" stroke-width="0.18">SCN1A</text>
<rect x="57.10" y="724.30" width="34.80" height="11.70" fill="#e48990"/>
<path d="M70.70,726.65L70.70,729.05M69.66,727.25L71.74,728.45M71.74,727.25L69.66,728.45M74.20,726.65L74.20,729.05M73.16,727.25L75.24,728.45M75.24,727.25L73.16,728.45M77.70,726.65L77.70,729.05M76.66,727.25L78.74,728.45M78.74,727.25L76.66,728.45" stroke="#ffffff" stroke-width="0.65" stroke-linecap="round"/>
<rect x="91.30" y="724.30" width="34.60" height="11.70" fill="#ebeff0"/>
<line x1="126.40" y1="729.65" x2="128.50" y2="729.65" stroke="#333" stroke-width="0.8"/>
<text x="131.00" y="731.75" font-size="6.6" textLength="20.34" lengthAdjust="spacingAndGlyphs" fill="#262626" stroke="#262626" stroke-width="0.18">GSK3B</text>
<rect x="57.10" y="735.40" width="34.80" height="11.70" fill="#e6989e"/>
<path d="M70.70,737.75L70.70,740.15M69.66,738.35L71.74,739.55M71.74,738.35L69.66,739.55M74.20,737.75L74.20,740.15M73.16,738.35L75.24,739.55M75.24,738.35L73.16,739.55M77.70,737.75L77.70,740.15M76.66,738.35L78.74,739.55M78.74,738.35L76.66,739.55" stroke="#333333" stroke-width="0.65" stroke-linecap="round"/>
<rect x="91.30" y="735.40" width="34.60" height="11.70" fill="#dae4e7"/>
<line x1="126.40" y1="740.75" x2="128.50" y2="740.75" stroke="#333" stroke-width="0.8"/>
<text x="131.00" y="742.85" font-size="6.6" textLength="17.29" lengthAdjust="spacingAndGlyphs" fill="#262626" stroke="#262626" stroke-width="0.18">KIF5C</text>
<rect x="57.10" y="746.50" width="34.80" height="11.70" fill="#e48990"/>
<path d="M70.70,748.85L70.70,751.25M69.66,749.45L71.74,750.65M71.74,749.45L69.66,750.65M74.20,748.85L74.20,751.25M73.16,749.45L75.24,750.65M75.24,749.45L73.16,750.65M77.70,748.85L77.70,751.25M76.66,749.45L78.74,750.65M78.74,749.45L76.66,750.65" stroke="#ffffff" stroke-width="0.65" stroke-linecap="round"/>
<rect x="91.30" y="746.50" width="34.60" height="11.70" fill="#dae4e7"/>
<line x1="126.40" y1="751.85" x2="128.50" y2="751.85" stroke="#333" stroke-width="0.8"/>
<text x="131.00" y="753.95" font-size="6.6" textLength="22.71" lengthAdjust="spacingAndGlyphs" fill="#262626" stroke="#262626" stroke-width="0.18">GRIN2A</text>
<rect x="57.10" y="757.60" width="34.80" height="11.70" fill="#e6989e"/>
<path d="M70.70,759.95L70.70,762.35M69.66,760.55L71.74,761.75M71.74,760.55L69.66,761.75M74.20,759.95L74.20,762.35M73.16,760.55L75.24,761.75M75.24,760.55L73.16,761.75M77.70,759.95L77.70,762.35M76.66,760.55L78.74,761.75M78.74,760.55L76.66,761.75" stroke="#333333" stroke-width="0.65" stroke-linecap="round"/>
<rect x="91.30" y="757.60" width="34.60" height="11.70" fill="#cddbe0"/>
<path d="M108.60,759.95L108.60,762.35M107.56,760.55L109.64,761.75M109.64,760.55L107.56,761.75" stroke="#333333" stroke-width="0.65" stroke-linecap="round"/>
<line x1="126.40" y1="762.95" x2="128.50" y2="762.95" stroke="#333" stroke-width="0.8"/>
<text x="131.00" y="765.05" font-size="6.6" textLength="18.31" lengthAdjust="spacingAndGlyphs" fill="#262626" stroke="#262626" stroke-width="0.18">GRIA1</text>
<rect x="57.10" y="768.70" width="34.80" height="11.70" fill="#e6989e"/>
<path d="M70.70,771.05L70.70,773.45M69.66,771.65L71.74,772.85M71.74,771.65L69.66,772.85M74.20,771.05L74.20,773.45M73.16,771.65L75.24,772.85M75.24,771.65L73.16,772.85M77.70,771.05L77.70,773.45M76.66,771.65L78.74,772.85M78.74,771.65L76.66,772.85" stroke="#333333" stroke-width="0.65" stroke-linecap="round"/>
<rect x="91.30" y="768.70" width="34.60" height="11.70" fill="#cddbe0"/>
<path d="M108.60,771.05L108.60,773.45M107.56,771.65L109.64,772.85M109.64,771.65L107.56,772.85" stroke="#333333" stroke-width="0.65" stroke-linecap="round"/>
<line x1="126.40" y1="774.05" x2="128.50" y2="774.05" stroke="#333" stroke-width="0.8"/>
<text x="131.00" y="776.15" font-size="6.6" textLength="25.09" lengthAdjust="spacingAndGlyphs" fill="#262626" stroke="#262626" stroke-width="0.18">PRKACB</text>
<rect x="57.10" y="779.80" width="34.80" height="11.70" fill="#e6989e"/>
<path d="M70.70,782.15L70.70,784.55M69.66,782.75L71.74,783.95M71.74,782.75L69.66,783.95M74.20,782.15L74.20,784.55M73.16,782.75L75.24,783.95M75.24,782.75L73.16,783.95M77.70,782.15L77.70,784.55M76.66,782.75L78.74,783.95M78.74,782.75L76.66,783.95" stroke="#333333" stroke-width="0.65" stroke-linecap="round"/>
<rect x="91.30" y="779.80" width="34.60" height="11.70" fill="#d9e3e7"/>
<line x1="126.40" y1="785.15" x2="128.50" y2="785.15" stroke="#333" stroke-width="0.8"/>
<text x="131.00" y="787.25" font-size="6.6" textLength="19.32" lengthAdjust="spacingAndGlyphs" fill="#262626" stroke="#262626" stroke-width="0.18">KCNJ3</text>
<rect x="57.10" y="790.90" width="34.80" height="11.70" fill="#e8a4a9"/>
<path d="M70.70,793.25L70.70,795.65M69.66,793.85L71.74,795.05M71.74,793.85L69.66,795.05M74.20,793.25L74.20,795.65M73.16,793.85L75.24,795.05M75.24,793.85L73.16,795.05M77.70,793.25L77.70,795.65M76.66,793.85L78.74,795.05M78.74,793.85L76.66,795.05" stroke="#333333" stroke-width="0.65" stroke-linecap="round"/>
<rect x="91.30" y="790.90" width="34.60" height="11.70" fill="#d9e3e7"/>
<line x1="126.40" y1="796.25" x2="128.50" y2="796.25" stroke="#333" stroke-width="0.8"/>
<text x="131.00" y="798.35" font-size="6.6" textLength="24.07" lengthAdjust="spacingAndGlyphs" fill="#262626" stroke="#262626" stroke-width="0.18">PPP3CA</text>
<rect x="57.10" y="802.00" width="34.80" height="11.70" fill="#e8a1a6"/>
<path d="M70.70,804.35L70.70,806.75M69.66,804.95L71.74,806.15M71.74,804.95L69.66,806.15M74.20,804.35L74.20,806.75M73.16,804.95L75.24,806.15M75.24,804.95L73.16,806.15M77.70,804.35L77.70,806.75M76.66,804.95L78.74,806.15M78.74,804.95L76.66,806.15" stroke="#333333" stroke-width="0.65" stroke-linecap="round"/>
<rect x="91.30" y="802.00" width="34.60" height="11.70" fill="#e3e9ec"/>
<line x1="126.40" y1="807.35" x2="128.50" y2="807.35" stroke="#333" stroke-width="0.8"/>
<text x="131.00" y="809.45" font-size="6.6" textLength="18.31" lengthAdjust="spacingAndGlyphs" fill="#262626" stroke="#262626" stroke-width="0.18">GRIA3</text>
<rect x="57.10" y="813.10" width="34.80" height="11.70" fill="#e79ca2"/>
<path d="M70.70,815.45L70.70,817.85M69.66,816.05L71.74,817.25M71.74,816.05L69.66,817.25M74.20,815.45L74.20,817.85M73.16,816.05L75.24,817.25M75.24,816.05L73.16,817.25M77.70,815.45L77.70,817.85M76.66,816.05L78.74,817.25M78.74,816.05L76.66,817.25" stroke="#333333" stroke-width="0.65" stroke-linecap="round"/>
<rect x="91.30" y="813.10" width="34.60" height="11.70" fill="#e3e9ec"/>
<line x1="126.40" y1="818.45" x2="128.50" y2="818.45" stroke="#333" stroke-width="0.8"/>
<text x="131.00" y="820.55" font-size="6.6" textLength="21.02" lengthAdjust="spacingAndGlyphs" fill="#262626" stroke="#262626" stroke-width="0.18">PRKCA</text>
<rect x="57.10" y="824.20" width="34.80" height="11.10" fill="#e8a1a6"/>
<path d="M72.45,826.55L72.45,828.95M71.41,827.15L73.49,828.35M73.49,827.15L71.41,828.35M75.95,826.55L75.95,828.95M74.91,827.15L76.99,828.35M76.99,827.15L74.91,828.35" stroke="#333333" stroke-width="0.65" stroke-linecap="round"/>
<rect x="91.30" y="824.20" width="34.60" height="11.10" fill="#dde6e9"/>
<line x1="126.40" y1="829.55" x2="128.50" y2="829.55" stroke="#333" stroke-width="0.8"/>
<text x="131.00" y="831.65" font-size="6.6" textLength="21.02" lengthAdjust="spacingAndGlyphs" fill="#262626" stroke="#262626" stroke-width="0.18">CLOCK</text>
<text x="189.20" y="400.20" font-size="6.6" text-anchor="middle" font-weight="bold" textLength="16.00" lengthAdjust="spacingAndGlyphs" fill="#000" stroke="#000" stroke-width="0.18">4 dpi</text>
<text x="221.60" y="400.20" font-size="6.6" text-anchor="middle" font-weight="bold" textLength="19.50" lengthAdjust="spacingAndGlyphs" fill="#000" stroke="#000" stroke-width="0.18">80 dpi</text>
<rect x="172.50" y="402.80" width="35.20" height="11.69" fill="#e58f95"/>
<path d="M188.05,405.15L188.05,407.55M187.01,405.75L189.09,406.95M189.09,405.75L187.01,406.95M191.55,405.15L191.55,407.55M190.51,405.75L192.59,406.95M192.59,405.75L190.51,406.95" stroke="#333333" stroke-width="0.65" stroke-linecap="round"/>
<rect x="207.10" y="402.80" width="34.80" height="11.69" fill="#abc6ce"/>
<path d="M224.50,405.15L224.50,407.55M223.46,405.75L225.54,406.95M225.54,405.75L223.46,406.95" stroke="#333333" stroke-width="0.65" stroke-linecap="round"/>
<line x1="242.40" y1="408.20" x2="244.50" y2="408.20" stroke="#333" stroke-width="0.8"/>
<text x="246.90" y="410.30" font-size="6.6" font-weight="bold" textLength="26.09" lengthAdjust="spacingAndGlyphs" fill="#111" stroke="#111" stroke-width="0.18">CAMK2A</text>
<rect x="172.50" y="413.89" width="35.20" height="11.69" fill="#e58f95"/>
<path d="M188.05,416.24L188.05,418.63M187.01,416.83L189.09,418.04M189.09,416.83L187.01,418.04M191.55,416.24L191.55,418.63M190.51,416.83L192.59,418.04M192.59,416.83L190.51,418.04" stroke="#333333" stroke-width="0.65" stroke-linecap="round"/>
<rect x="207.10" y="413.89" width="34.80" height="11.69" fill="#abc6ce"/>
<path d="M222.75,416.24L222.75,418.63M221.71,416.83L223.79,418.04M223.79,416.83L221.71,418.04M226.25,416.24L226.25,418.63M225.21,416.83L227.29,418.04M227.29,416.83L225.21,418.04" stroke="#333333" stroke-width="0.65" stroke-linecap="round"/>
<line x1="242.40" y1="419.29" x2="244.50" y2="419.29" stroke="#333" stroke-width="0.8"/>
<text x="246.90" y="421.39" font-size="6.6" font-weight="bold" textLength="18.64" lengthAdjust="spacingAndGlyphs" fill="#111" stroke="#111" stroke-width="0.18">GRIA2</text>
<rect x="172.50" y="424.98" width="35.20" height="11.69" fill="#e8a1a6"/>
<path d="M186.30,427.33L186.30,429.73M185.26,427.93L187.34,429.13M187.34,427.93L185.26,429.13M189.80,427.33L189.80,429.73M188.76,427.93L190.84,429.13M190.84,427.93L188.76,429.13M193.30,427.33L193.30,429.73M192.26,427.93L194.34,429.13M194.34,427.93L192.26,429.13" stroke="#333333" stroke-width="0.65" stroke-linecap="round"/>
<rect x="207.10" y="424.98" width="34.80" height="11.69" fill="#c4d6db"/>
<path d="M224.50,427.33L224.50,429.73M223.46,427.93L225.54,429.13M225.54,427.93L223.46,429.13" stroke="#333333" stroke-width="0.65" stroke-linecap="round"/>
<line x1="242.40" y1="430.38" x2="244.50" y2="430.38" stroke="#333" stroke-width="0.8"/>
<text x="246.90" y="432.48" font-size="6.6" textLength="24.07" lengthAdjust="spacingAndGlyphs" fill="#262626" stroke="#262626" stroke-width="0.18">MAPK10</text>
<rect x="172.50" y="436.07" width="35.20" height="11.69" fill="#ecc3c6"/>
<path d="M188.05,438.42L188.05,440.81M187.01,439.01L189.09,440.22M189.09,439.01L187.01,440.22M191.55,438.42L191.55,440.81M190.51,439.01L192.59,440.22M192.59,439.01L190.51,440.22" stroke="#333333" stroke-width="0.65" stroke-linecap="round"/>
<rect x="207.10" y="436.07" width="34.80" height="11.69" fill="#b1c9d1"/>
<path d="M222.75,438.42L222.75,440.81M221.71,439.01L223.79,440.22M223.79,439.01L221.71,440.22M226.25,438.42L226.25,440.81M225.21,439.01L227.29,440.22M227.29,439.01L225.21,440.22" stroke="#333333" stroke-width="0.65" stroke-linecap="round"/>
<line x1="242.40" y1="441.47" x2="244.50" y2="441.47" stroke="#333" stroke-width="0.8"/>
<text x="246.90" y="443.57" font-size="6.6" textLength="21.69" lengthAdjust="spacingAndGlyphs" fill="#262626" stroke="#262626" stroke-width="0.18">PRKCG</text>
<rect x="172.50" y="447.16" width="35.20" height="11.69" fill="#ebb8bb"/>
<path d="M189.80,449.51L189.80,451.91M188.76,450.11L190.84,451.31M190.84,450.11L188.76,451.31" stroke="#333333" stroke-width="0.65" stroke-linecap="round"/>
<rect x="207.10" y="447.16" width="34.80" height="11.69" fill="#f0e1e2"/>
<line x1="242.40" y1="452.56" x2="244.50" y2="452.56" stroke="#333" stroke-width="0.8"/>
<text x="246.90" y="454.66" font-size="6.6" textLength="27.47" lengthAdjust="spacingAndGlyphs" fill="#262626" stroke="#262626" stroke-width="0.18">PPP2R3A</text>
<rect x="172.50" y="458.25" width="35.20" height="11.69" fill="#eab6ba"/>
<path d="M186.30,460.60L186.30,463.00M185.26,461.19L187.34,462.40M187.34,461.19L185.26,462.40M189.80,460.60L189.80,463.00M188.76,461.19L190.84,462.40M190.84,461.19L188.76,462.40M193.30,460.60L193.30,463.00M192.26,461.19L194.34,462.40M194.34,461.19L192.26,462.40" stroke="#333333" stroke-width="0.65" stroke-linecap="round"/>
<rect x="207.10" y="458.25" width="34.80" height="11.69" fill="#f0e0e1"/>
<line x1="242.40" y1="463.65" x2="244.50" y2="463.65" stroke="#333" stroke-width="0.8"/>
<text x="246.90" y="465.75" font-size="6.6" textLength="18.31" lengthAdjust="spacingAndGlyphs" fill="#262626" stroke="#262626" stroke-width="0.18">GRIA4</text>
<rect x="172.50" y="469.34" width="35.20" height="11.69" fill="#e9a8ad"/>
<path d="M188.05,471.69L188.05,474.09M187.01,472.29L189.09,473.49M189.09,472.29L187.01,473.49M191.55,471.69L191.55,474.09M190.51,472.29L192.59,473.49M192.59,472.29L190.51,473.49" stroke="#333333" stroke-width="0.65" stroke-linecap="round"/>
<rect x="207.10" y="469.34" width="34.80" height="11.69" fill="#d8e2e6"/>
<line x1="242.40" y1="474.74" x2="244.50" y2="474.74" stroke="#333" stroke-width="0.8"/>
<text x="246.90" y="476.84" font-size="6.6" textLength="22.71" lengthAdjust="spacingAndGlyphs" fill="#262626" stroke="#262626" stroke-width="0.18">GRIN2B</text>
<rect x="172.50" y="480.43" width="35.20" height="11.69" fill="#e9a8ad"/>
<path d="M186.30,482.78L186.30,485.18M185.26,483.38L187.34,484.58M187.34,483.38L185.26,484.58M189.80,482.78L189.80,485.18M188.76,483.38L190.84,484.58M190.84,483.38L188.76,484.58M193.30,482.78L193.30,485.18M192.26,483.38L194.34,484.58M194.34,483.38L192.26,484.58" stroke="#333333" stroke-width="0.65" stroke-linecap="round"/>
<rect x="207.10" y="480.43" width="34.80" height="11.69" fill="#dce5e8"/>
<line x1="242.40" y1="485.83" x2="244.50" y2="485.83" stroke="#333" stroke-width="0.8"/>
<text x="246.90" y="487.93" font-size="6.6" textLength="16.61" lengthAdjust="spacingAndGlyphs" fill="#262626" stroke="#262626" stroke-width="0.18">GNB1</text>
<rect x="172.50" y="491.52" width="35.20" height="11.69" fill="#eab2b6"/>
<path d="M188.05,493.87L188.05,496.26M187.01,494.46L189.09,495.67M189.09,494.46L187.01,495.67M191.55,493.87L191.55,496.26M190.51,494.46L192.59,495.67M192.59,494.46L190.51,495.67" stroke="#333333" stroke-width="0.65" stroke-linecap="round"/>
<rect x="207.10" y="491.52" width="34.80" height="11.69" fill="#cfdde1"/>
<path d="M224.50,493.87L224.50,496.26M223.46,494.46L225.54,495.67M225.54,494.46L223.46,495.67" stroke="#333333" stroke-width="0.65" stroke-linecap="round"/>
<line x1="242.40" y1="496.92" x2="244.50" y2="496.92" stroke="#333" stroke-width="0.8"/>
<text x="246.90" y="499.02" font-size="6.6" font-weight="bold" textLength="20.68" lengthAdjust="spacingAndGlyphs" fill="#111" stroke="#111" stroke-width="0.18">ADCY5</text>
<rect x="172.50" y="502.61" width="35.20" height="11.69" fill="#ebbdc1"/>
<path d="M186.30,504.96L186.30,507.36M185.26,505.56L187.34,506.76M187.34,505.56L185.26,506.76M189.80,504.96L189.80,507.36M188.76,505.56L190.84,506.76M190.84,505.56L188.76,506.76M193.30,504.96L193.30,507.36M192.26,505.56L194.34,506.76M194.34,505.56L192.26,506.76" stroke="#333333" stroke-width="0.65" stroke-linecap="round"/>
<rect x="207.10" y="502.61" width="34.80" height="11.69" fill="#cfdde1"/>
<line x1="242.40" y1="508.01" x2="244.50" y2="508.01" stroke="#333" stroke-width="0.8"/>
<text x="246.90" y="510.11" font-size="6.6" textLength="21.02" lengthAdjust="spacingAndGlyphs" fill="#262626" stroke="#262626" stroke-width="0.18">PRKCB</text>
<rect x="172.50" y="513.70" width="35.20" height="11.69" fill="#ecc0c3"/>
<path d="M186.30,516.04L186.30,518.45M185.26,516.64L187.34,517.85M187.34,516.64L185.26,517.85M189.80,516.04L189.80,518.45M188.76,516.64L190.84,517.85M190.84,516.64L188.76,517.85M193.30,516.04L193.30,518.45M192.26,516.64L194.34,517.85M194.34,516.64L192.26,517.85" stroke="#333333" stroke-width="0.65" stroke-linecap="round"/>
<rect x="207.10" y="513.70" width="34.80" height="11.69" fill="#cfdde1"/>
<line x1="242.40" y1="519.10" x2="244.50" y2="519.10" stroke="#333" stroke-width="0.8"/>
<text x="246.90" y="521.20" font-size="6.6" textLength="20.34" lengthAdjust="spacingAndGlyphs" fill="#262626" stroke="#262626" stroke-width="0.18">CALM1</text>
<rect x="172.50" y="524.79" width="35.20" height="11.69" fill="#eab6ba"/>
<path d="M188.05,527.13L188.05,529.53M187.01,527.73L189.09,528.93M189.09,527.73L187.01,528.93M191.55,527.13L191.55,529.53M190.51,527.73L192.59,528.93M192.59,527.73L190.51,528.93" stroke="#333333" stroke-width="0.65" stroke-linecap="round"/>
<rect x="207.10" y="524.79" width="34.80" height="11.69" fill="#f2efef"/>
<line x1="242.40" y1="530.19" x2="244.50" y2="530.19" stroke="#333" stroke-width="0.8"/>
<text x="246.90" y="532.29" font-size="6.6" textLength="24.07" lengthAdjust="spacingAndGlyphs" fill="#262626" stroke="#262626" stroke-width="0.18">PPP3CB</text>
<rect x="172.50" y="535.88" width="35.20" height="11.69" fill="#eab6ba"/>
<path d="M188.05,538.22L188.05,540.62M187.01,538.82L189.09,540.02M189.09,538.82L187.01,540.02M191.55,538.22L191.55,540.62M190.51,538.82L192.59,540.02M192.59,538.82L190.51,540.02" stroke="#333333" stroke-width="0.65" stroke-linecap="round"/>
<rect x="207.10" y="535.88" width="34.80" height="11.69" fill="#e1e9eb"/>
<line x1="242.40" y1="541.28" x2="244.50" y2="541.28" stroke="#333" stroke-width="0.8"/>
<text x="246.90" y="543.38" font-size="6.6" textLength="24.07" lengthAdjust="spacingAndGlyphs" fill="#262626" stroke="#262626" stroke-width="0.18">PPP1CB</text>
<rect x="172.50" y="546.97" width="35.20" height="11.69" fill="#ebbbbe"/>
<path d="M189.80,549.31L189.80,551.72M188.76,549.91L190.84,551.12M190.84,549.91L188.76,551.12" stroke="#333333" stroke-width="0.65" stroke-linecap="round"/>
<rect x="207.10" y="546.97" width="34.80" height="11.69" fill="#eaeef0"/>
<line x1="242.40" y1="552.37" x2="244.50" y2="552.37" stroke="#333" stroke-width="0.8"/>
<text x="246.90" y="554.47" font-size="6.6" textLength="16.95" lengthAdjust="spacingAndGlyphs" fill="#262626" stroke="#262626" stroke-width="0.18">KIF5B</text>
<rect x="172.50" y="558.06" width="35.20" height="11.69" fill="#ebb8bb"/>
<path d="M189.80,560.40L189.80,562.80M188.76,561.00L190.84,562.20M190.84,561.00L188.76,562.20" stroke="#333333" stroke-width="0.65" stroke-linecap="round"/>
<rect x="207.10" y="558.06" width="34.80" height="11.69" fill="#eaeef0"/>
<line x1="242.40" y1="563.46" x2="244.50" y2="563.46" stroke="#333" stroke-width="0.8"/>
<text x="246.90" y="565.56" font-size="6.6" textLength="29.15" lengthAdjust="spacingAndGlyphs" fill="#262626" stroke="#262626" stroke-width="0.18">CACNA1C</text>
<rect x="172.50" y="569.15" width="35.20" height="11.69" fill="#ebb8bb"/>
<path d="M189.80,571.49L189.80,573.89M188.76,572.09L190.84,573.29M190.84,572.09L188.76,573.29" stroke="#333333" stroke-width="0.65" stroke-linecap="round"/>
<rect x="207.10" y="569.15" width="34.80" height="11.69" fill="#e4eaed"/>
<line x1="242.40" y1="574.55" x2="244.50" y2="574.55" stroke="#333" stroke-width="0.8"/>
<text x="246.90" y="576.65" font-size="6.6" textLength="20.34" lengthAdjust="spacingAndGlyphs" fill="#262626" stroke="#262626" stroke-width="0.18">CREB1</text>
<rect x="172.50" y="580.24" width="35.20" height="11.69" fill="#e8a4a9"/>
<path d="M186.30,582.58L186.30,584.99M185.26,583.18L187.34,584.38M187.34,583.18L185.26,584.38M189.80,582.58L189.80,584.99M188.76,583.18L190.84,584.38M190.84,583.18L188.76,584.38M193.30,582.58L193.30,584.99M192.26,583.18L194.34,584.38M194.34,583.18L192.26,584.38" stroke="#333333" stroke-width="0.65" stroke-linecap="round"/>
<rect x="207.10" y="580.24" width="34.80" height="11.69" fill="#f0f2f2"/>
<line x1="242.40" y1="585.64" x2="244.50" y2="585.64" stroke="#333" stroke-width="0.8"/>
<text x="246.90" y="587.74" font-size="6.6" textLength="20.34" lengthAdjust="spacingAndGlyphs" fill="#262626" stroke="#262626" stroke-width="0.18">ARRB1</text>
<rect x="172.50" y="591.33" width="35.20" height="11.69" fill="#e8a1a6"/>
<path d="M188.05,593.67L188.05,596.08M187.01,594.27L189.09,595.48M189.09,594.27L187.01,595.48M191.55,593.67L191.55,596.08M190.51,594.27L192.59,595.48M192.59,594.27L190.51,595.48" stroke="#333333" stroke-width="0.65" stroke-linecap="round"/>
<rect x="207.10" y="591.33" width="34.80" height="11.69" fill="#e4eaed"/>
<line x1="242.40" y1="596.73" x2="244.50" y2="596.73" stroke="#333" stroke-width="0.8"/>
<text x="246.90" y="598.83" font-size="6.6" textLength="27.47" lengthAdjust="spacingAndGlyphs" fill="#262626" stroke="#262626" stroke-width="0.18">PPP2R5E</text>
<rect x="172.50" y="602.42" width="35.20" height="11.69" fill="#e8a1a6"/>
<path d="M188.05,604.76L188.05,607.17M187.01,605.37L189.09,606.57M189.09,605.37L187.01,606.57M191.55,604.76L191.55,607.17M190.51,605.37L192.59,606.57M192.59,605.37L190.51,606.57" stroke="#333333" stroke-width="0.65" stroke-linecap="round"/>
<rect x="207.10" y="602.42" width="34.80" height="11.69" fill="#e8edef"/>
<line x1="242.40" y1="607.82" x2="244.50" y2="607.82" stroke="#333" stroke-width="0.8"/>
<text x="246.90" y="609.92" font-size="6.6" textLength="19.32" lengthAdjust="spacingAndGlyphs" fill="#262626" stroke="#262626" stroke-width="0.18">KCNJ6</text>
<rect x="172.50" y="613.51" width="35.20" height="11.69" fill="#eecdcf"/>
<path d="M188.05,615.85L188.05,618.25M187.01,616.45L189.09,617.65M189.09,616.45L187.01,617.65M191.55,615.85L191.55,618.25M190.51,616.45L192.59,617.65M192.59,616.45L190.51,617.65" stroke="#333333" stroke-width="0.65" stroke-linecap="round"/>
<rect x="207.10" y="613.51" width="34.80" height="11.69" fill="#e3e9ec"/>
<line x1="242.40" y1="618.91" x2="244.50" y2="618.91" stroke="#333" stroke-width="0.8"/>
<text x="246.90" y="621.01" font-size="6.6" textLength="27.80" lengthAdjust="spacingAndGlyphs" fill="#262626" stroke="#262626" stroke-width="0.18">PPP2R5D</text>
<rect x="172.50" y="624.60" width="35.20" height="11.69" fill="#efd4d6"/>
<path d="M186.30,626.94L186.30,629.35M185.26,627.54L187.34,628.75M187.34,627.54L185.26,628.75M189.80,626.94L189.80,629.35M188.76,627.54L190.84,628.75M190.84,627.54L188.76,628.75M193.30,626.94L193.30,629.35M192.26,627.54L194.34,628.75M194.34,627.54L192.26,628.75" stroke="#333333" stroke-width="0.65" stroke-linecap="round"/>
<rect x="207.10" y="624.60" width="34.80" height="11.69" fill="#e0e8ea"/>
<line x1="242.40" y1="630.00" x2="244.50" y2="630.00" stroke="#333" stroke-width="0.8"/>
<text x="246.90" y="632.10" font-size="6.6" textLength="24.07" lengthAdjust="spacingAndGlyphs" fill="#262626" stroke="#262626" stroke-width="0.18">PPP2CB</text>
<rect x="172.50" y="635.69" width="35.20" height="11.69" fill="#efd4d6"/>
<path d="M186.30,638.03L186.30,640.44M185.26,638.63L187.34,639.84M187.34,638.63L185.26,639.84M189.80,638.03L189.80,640.44M188.76,638.63L190.84,639.84M190.84,638.63L188.76,639.84M193.30,638.03L193.30,640.44M192.26,638.63L194.34,639.84M194.34,638.63L192.26,639.84" stroke="#333333" stroke-width="0.65" stroke-linecap="round"/>
<rect x="207.10" y="635.69" width="34.80" height="11.69" fill="#e0e8ea"/>
<line x1="242.40" y1="641.09" x2="244.50" y2="641.09" stroke="#333" stroke-width="0.8"/>
<text x="246.90" y="643.19" font-size="6.6" textLength="27.80" lengthAdjust="spacingAndGlyphs" fill="#262626" stroke="#262626" stroke-width="0.18">PPP2R2C</text>
<rect x="172.50" y="646.78" width="35.20" height="11.69" fill="#efd4d6"/>
<path d="M186.30,649.12L186.30,651.52M185.26,649.72L187.34,650.92M187.34,649.72L185.26,650.92M189.80,649.12L189.80,651.52M188.76,649.72L190.84,650.92M190.84,649.72L188.76,650.92M193.30,649.12L193.30,651.52M192.26,649.72L194.34,650.92M194.34,649.72L192.26,650.92" stroke="#333333" stroke-width="0.65" stroke-linecap="round"/>
<rect x="207.10" y="646.78" width="34.80" height="11.69" fill="#e0e8ea"/>
<line x1="242.40" y1="652.18" x2="244.50" y2="652.18" stroke="#333" stroke-width="0.8"/>
<text x="246.90" y="654.28" font-size="6.6" textLength="16.95" lengthAdjust="spacingAndGlyphs" fill="#262626" stroke="#262626" stroke-width="0.18">KIF5A</text>
<rect x="172.50" y="657.87" width="35.20" height="11.69" fill="#eecdcf"/>
<path d="M186.30,660.21L186.30,662.62M185.26,660.81L187.34,662.01M187.34,660.81L185.26,662.01M189.80,660.21L189.80,662.62M188.76,660.81L190.84,662.01M190.84,660.81L188.76,662.01M193.30,660.21L193.30,662.62M192.26,660.81L194.34,662.01M194.34,660.81L192.26,662.01" stroke="#333333" stroke-width="0.65" stroke-linecap="round"/>
<rect x="207.10" y="657.87" width="34.80" height="11.69" fill="#dce5e8"/>
<line x1="242.40" y1="663.27" x2="244.50" y2="663.27" stroke="#333" stroke-width="0.8"/>
<text x="246.90" y="665.37" font-size="6.6" textLength="17.96" lengthAdjust="spacingAndGlyphs" fill="#262626" stroke="#262626" stroke-width="0.18">MAOB</text>
<rect x="172.50" y="668.96" width="35.20" height="11.69" fill="#eecdcf"/>
<path d="M189.80,671.30L189.80,673.71M188.76,671.90L190.84,673.11M190.84,671.90L188.76,673.11" stroke="#333333" stroke-width="0.65" stroke-linecap="round"/>
<rect x="207.10" y="668.96" width="34.80" height="11.69" fill="#e3e9ec"/>
<line x1="242.40" y1="674.36" x2="244.50" y2="674.36" stroke="#333" stroke-width="0.8"/>
<text x="246.90" y="676.46" font-size="6.6" textLength="28.81" lengthAdjust="spacingAndGlyphs" fill="#262626" stroke="#262626" stroke-width="0.18">CACNA1B</text>
<rect x="172.50" y="680.05" width="35.20" height="11.69" fill="#f1e7e7"/>
<path d="M189.80,682.39L189.80,684.79M188.76,682.99L190.84,684.19M190.84,682.99L188.76,684.19" stroke="#333333" stroke-width="0.65" stroke-linecap="round"/>
<rect x="207.10" y="680.05" width="34.80" height="11.69" fill="#f1e4e5"/>
<line x1="242.40" y1="685.45" x2="244.50" y2="685.45" stroke="#333" stroke-width="0.8"/>
<text x="246.90" y="687.55" font-size="6.6" textLength="24.41" lengthAdjust="spacingAndGlyphs" fill="#262626" stroke="#262626" stroke-width="0.18">PPP3CC</text>
<rect x="172.50" y="691.14" width="35.20" height="11.69" fill="#f0ddde"/>
<path d="M189.80,693.48L189.80,695.88M188.76,694.08L190.84,695.28M190.84,694.08L188.76,695.28" stroke="#333333" stroke-width="0.65" stroke-linecap="round"/>
<rect x="207.10" y="691.14" width="34.80" height="11.69" fill="#f1e8e9"/>
<line x1="242.40" y1="696.54" x2="244.50" y2="696.54" stroke="#333" stroke-width="0.8"/>
<text x="246.90" y="698.64" font-size="6.6" textLength="20.68" lengthAdjust="spacingAndGlyphs" fill="#262626" stroke="#262626" stroke-width="0.18">MAPK8</text>
<rect x="172.50" y="702.23" width="35.20" height="11.69" fill="#edcacd"/>
<path d="M189.80,704.57L189.80,706.98M188.76,705.17L190.84,706.38M190.84,705.17L188.76,706.38" stroke="#333333" stroke-width="0.65" stroke-linecap="round"/>
<rect x="207.10" y="702.23" width="34.80" height="11.69" fill="#f2efef"/>
<line x1="242.40" y1="707.63" x2="244.50" y2="707.63" stroke="#333" stroke-width="0.8"/>
<text x="246.90" y="709.73" font-size="6.6" textLength="20.34" lengthAdjust="spacingAndGlyphs" fill="#262626" stroke="#262626" stroke-width="0.18">CREB5</text>
<rect x="172.50" y="713.32" width="35.20" height="11.69" fill="#edcacd"/>
<path d="M189.80,715.66L189.80,718.06M188.76,716.26L190.84,717.46M190.84,716.26L188.76,717.46" stroke="#333333" stroke-width="0.65" stroke-linecap="round"/>
<rect x="207.10" y="713.32" width="34.80" height="11.69" fill="#f2efef"/>
<line x1="242.40" y1="718.72" x2="244.50" y2="718.72" stroke="#333" stroke-width="0.8"/>
<text x="246.90" y="720.82" font-size="6.6" textLength="27.12" lengthAdjust="spacingAndGlyphs" fill="#262626" stroke="#262626" stroke-width="0.18">CREB3L2</text>
<rect x="172.50" y="724.41" width="35.20" height="11.69" fill="#eecdcf"/>
<path d="M189.80,726.75L189.80,729.16M188.76,727.36L190.84,728.56M190.84,727.36L188.76,728.56" stroke="#333333" stroke-width="0.65" stroke-linecap="round"/>
<rect x="207.10" y="724.41" width="34.80" height="11.69" fill="#f2efef"/>
<line x1="242.40" y1="729.81" x2="244.50" y2="729.81" stroke="#333" stroke-width="0.8"/>
<text x="246.90" y="731.91" font-size="6.6" textLength="14.46" lengthAdjust="spacingAndGlyphs" fill="#262626" stroke="#262626" stroke-width="0.18">ATF2</text>
<rect x="172.50" y="735.50" width="35.20" height="11.69" fill="#edc7ca"/>
<path d="M188.05,737.84L188.05,740.25M187.01,738.44L189.09,739.64M189.09,738.44L187.01,739.64M191.55,737.84L191.55,740.25M190.51,738.44L192.59,739.64M192.59,738.44L190.51,739.64" stroke="#333333" stroke-width="0.65" stroke-linecap="round"/>
<rect x="207.10" y="735.50" width="34.80" height="11.69" fill="#f2efef"/>
<line x1="242.40" y1="740.90" x2="244.50" y2="740.90" stroke="#333" stroke-width="0.8"/>
<text x="246.90" y="743.00" font-size="6.6" textLength="15.26" lengthAdjust="spacingAndGlyphs" fill="#262626" stroke="#262626" stroke-width="0.18">AKT3</text>
<rect x="172.50" y="746.59" width="35.20" height="11.69" fill="#efd9da"/>
<path d="M188.05,748.93L188.05,751.34M187.01,749.53L189.09,750.74M189.09,749.53L187.01,750.74M191.55,748.93L191.55,751.34M190.51,749.53L192.59,750.74M192.59,749.53L190.51,750.74" stroke="#333333" stroke-width="0.65" stroke-linecap="round"/>
<rect x="207.10" y="746.59" width="34.80" height="11.69" fill="#f2efef"/>
<line x1="242.40" y1="751.99" x2="244.50" y2="751.99" stroke="#333" stroke-width="0.8"/>
<text x="246.90" y="754.09" font-size="6.6" textLength="27.80" lengthAdjust="spacingAndGlyphs" fill="#262626" stroke="#262626" stroke-width="0.18">PPP2R5C</text>
<rect x="172.50" y="757.68" width="35.20" height="11.69" fill="#efd9da"/>
<path d="M188.05,760.02L188.05,762.43M187.01,760.62L189.09,761.83M189.09,760.62L187.01,761.83M191.55,760.02L191.55,762.43M190.51,760.62L192.59,761.83M192.59,760.62L190.51,761.83" stroke="#333333" stroke-width="0.65" stroke-linecap="round"/>
<rect x="207.10" y="757.68" width="34.80" height="11.69" fill="#f2efef"/>
<line x1="242.40" y1="763.08" x2="244.50" y2="763.08" stroke="#333" stroke-width="0.8"/>
<text x="246.90" y="765.18" font-size="6.6" textLength="27.47" lengthAdjust="spacingAndGlyphs" fill="#262626" stroke="#262626" stroke-width="0.18">PPP2R2A</text>
<rect x="172.50" y="768.77" width="35.20" height="11.69" fill="#f0e1e2"/>
<path d="M189.80,771.11L189.80,773.51M188.76,771.71L190.84,772.91M190.84,771.71L188.76,772.91" stroke="#333333" stroke-width="0.65" stroke-linecap="round"/>
<rect x="207.10" y="768.77" width="34.80" height="11.69" fill="#e7ecee"/>
<line x1="242.40" y1="774.17" x2="244.50" y2="774.17" stroke="#333" stroke-width="0.8"/>
<text x="246.90" y="776.27" font-size="6.6" textLength="24.07" lengthAdjust="spacingAndGlyphs" fill="#262626" stroke="#262626" stroke-width="0.18">MAPK14</text>
<rect x="172.50" y="779.86" width="35.20" height="11.69" fill="#f0e1e2"/>
<path d="M189.80,782.20L189.80,784.61M188.76,782.80L190.84,784.00M190.84,782.80L188.76,784.00" stroke="#333333" stroke-width="0.65" stroke-linecap="round"/>
<rect x="207.10" y="779.86" width="34.80" height="11.69" fill="#ebeff0"/>
<line x1="242.40" y1="785.26" x2="244.50" y2="785.26" stroke="#333" stroke-width="0.8"/>
<text x="246.90" y="787.36" font-size="6.6" textLength="28.81" lengthAdjust="spacingAndGlyphs" fill="#262626" stroke="#262626" stroke-width="0.18">CACNA1A</text>
<rect x="172.50" y="790.95" width="35.20" height="11.69" fill="#d6e1e5"/>
<path d="M189.80,793.29L189.80,795.70M188.76,793.89L190.84,795.10M190.84,793.89L188.76,795.10" stroke="#333333" stroke-width="0.65" stroke-linecap="round"/>
<rect x="207.10" y="790.95" width="34.80" height="11.69" fill="#d9e3e7"/>
<line x1="242.40" y1="796.35" x2="244.50" y2="796.35" stroke="#333" stroke-width="0.8"/>
<text x="246.90" y="798.45" font-size="6.6" textLength="15.26" lengthAdjust="spacingAndGlyphs" fill="#262626" stroke="#262626" stroke-width="0.18">AKT1</text>
<rect x="172.50" y="802.04" width="35.20" height="11.69" fill="#e7ecee"/>
<rect x="207.10" y="802.04" width="34.80" height="11.69" fill="#d1dee2"/>
<path d="M224.50,804.38L224.50,806.78M223.46,804.98L225.54,806.18M225.54,804.98L223.46,806.18" stroke="#333333" stroke-width="0.65" stroke-linecap="round"/>
<line x1="242.40" y1="807.44" x2="244.50" y2="807.44" stroke="#333" stroke-width="0.8"/>
<text x="246.90" y="809.54" font-size="6.6" textLength="20.34" lengthAdjust="spacingAndGlyphs" fill="#262626" stroke="#262626" stroke-width="0.18">GSK3A</text>
<rect x="172.50" y="813.13" width="35.20" height="11.69" fill="#f0ddde"/>
<rect x="207.10" y="813.13" width="34.80" height="11.69" fill="#b7cdd4"/>
<path d="M222.75,815.47L222.75,817.88M221.71,816.07L223.79,817.27M223.79,816.07L221.71,817.27M226.25,815.47L226.25,817.88M225.21,816.07L227.29,817.27M227.29,816.07L225.21,817.27" stroke="#333333" stroke-width="0.65" stroke-linecap="round"/>
<line x1="242.40" y1="818.53" x2="244.50" y2="818.53" stroke="#333" stroke-width="0.8"/>
<text x="246.90" y="820.63" font-size="6.6" font-weight="bold" textLength="16.61" lengthAdjust="spacingAndGlyphs" fill="#111" stroke="#111" stroke-width="0.18">DRD2</text>
<rect x="172.50" y="824.22" width="35.20" height="11.09" fill="#f0e1e2"/>
<rect x="207.10" y="824.22" width="34.80" height="11.09" fill="#cddbe0"/>
<path d="M224.50,826.56L224.50,828.97M223.46,827.16L225.54,828.37M225.54,827.16L223.46,828.37" stroke="#333333" stroke-width="0.65" stroke-linecap="round"/>
<line x1="242.40" y1="829.62" x2="244.50" y2="829.62" stroke="#333" stroke-width="0.8"/>
<text x="246.90" y="831.72" font-size="6.6" textLength="16.61" lengthAdjust="spacingAndGlyphs" fill="#262626" stroke="#262626" stroke-width="0.18">GNAL</text>
<text x="310.00" y="400.00" font-size="6.6" text-anchor="middle" font-weight="bold" textLength="16.00" lengthAdjust="spacingAndGlyphs" fill="#000" stroke="#000" stroke-width="0.18">4 dpi</text>
<text x="343.50" y="400.00" font-size="6.6" text-anchor="middle" font-weight="bold" textLength="19.50" lengthAdjust="spacingAndGlyphs" fill="#000" stroke="#000" stroke-width="0.18">80 dpi</text>
<rect x="294.70" y="402.80" width="34.90" height="11.57" fill="#b8ced5"/>
<path d="M310.10,405.09L310.10,407.49M309.06,405.69L311.14,406.89M311.14,405.69L309.06,406.89M313.60,405.09L313.60,407.49M312.56,405.69L314.64,406.89M314.64,405.69L312.56,406.89" stroke="#333333" stroke-width="0.65" stroke-linecap="round"/>
<rect x="329.00" y="402.80" width="33.80" height="11.57" fill="#e0e8ea"/>
<line x1="363.30" y1="408.40" x2="365.40" y2="408.40" stroke="#333" stroke-width="0.8"/>
<text x="367.90" y="410.50" font-size="6.6" textLength="16.61" lengthAdjust="spacingAndGlyphs" fill="#262626" stroke="#262626" stroke-width="0.18">GNB2</text>
<rect x="294.70" y="413.77" width="34.90" height="11.57" fill="#bbcfd6"/>
<path d="M310.10,416.06L310.10,418.46M309.06,416.66L311.14,417.86M311.14,416.66L309.06,417.86M313.60,416.06L313.60,418.46M312.56,416.66L314.64,417.86M314.64,416.66L312.56,417.86" stroke="#333333" stroke-width="0.65" stroke-linecap="round"/>
<rect x="329.00" y="413.77" width="33.80" height="11.57" fill="#e0e8ea"/>
<line x1="363.30" y1="419.37" x2="365.40" y2="419.37" stroke="#333" stroke-width="0.8"/>
<text x="367.90" y="421.47" font-size="6.6" textLength="26.11" lengthAdjust="spacingAndGlyphs" fill="#262626" stroke="#262626" stroke-width="0.18">SLC38A3</text>
<rect x="294.70" y="424.74" width="34.90" height="11.57" fill="#bcd0d7"/>
<path d="M311.85,427.03L311.85,429.43M310.81,427.62L312.89,428.83M312.89,427.62L310.81,428.83" stroke="#333333" stroke-width="0.65" stroke-linecap="round"/>
<rect x="329.00" y="424.74" width="33.80" height="11.57" fill="#e0e8ea"/>
<line x1="363.30" y1="430.34" x2="365.40" y2="430.34" stroke="#333" stroke-width="0.8"/>
<text x="367.90" y="432.44" font-size="6.6" textLength="20.34" lengthAdjust="spacingAndGlyphs" fill="#262626" stroke="#262626" stroke-width="0.18">ADCY4</text>
<rect x="294.70" y="435.71" width="34.90" height="11.57" fill="#c2d4da"/>
<path d="M311.85,438.00L311.85,440.40M310.81,438.60L312.89,439.80M312.89,438.60L310.81,439.80" stroke="#333333" stroke-width="0.65" stroke-linecap="round"/>
<rect x="329.00" y="435.71" width="33.80" height="11.57" fill="#ebeff0"/>
<line x1="363.30" y1="441.31" x2="365.40" y2="441.31" stroke="#333" stroke-width="0.8"/>
<text x="367.90" y="443.41" font-size="6.6" textLength="20.68" lengthAdjust="spacingAndGlyphs" fill="#262626" stroke="#262626" stroke-width="0.18">MAPK3</text>
<rect x="294.70" y="446.68" width="34.90" height="11.57" fill="#b5ccd3"/>
<path d="M308.35,448.97L308.35,451.37M307.31,449.56L309.39,450.77M309.39,449.56L307.31,450.77M311.85,448.97L311.85,451.37M310.81,449.56L312.89,450.77M312.89,449.56L310.81,450.77M315.35,448.97L315.35,451.37M314.31,449.56L316.39,450.77M316.39,449.56L314.31,450.77" stroke="#333333" stroke-width="0.65" stroke-linecap="round"/>
<rect x="329.00" y="446.68" width="33.80" height="11.57" fill="#ebeff0"/>
<line x1="363.30" y1="452.28" x2="365.40" y2="452.28" stroke="#333" stroke-width="0.8"/>
<text x="367.90" y="454.38" font-size="6.6" textLength="27.13" lengthAdjust="spacingAndGlyphs" fill="#262626" stroke="#262626" stroke-width="0.18">PLA2G4B</text>
<rect x="294.70" y="457.65" width="34.90" height="11.57" fill="#bcd0d7"/>
<path d="M311.85,459.94L311.85,462.34M310.81,460.54L312.89,461.74M312.89,460.54L310.81,461.74" stroke="#333333" stroke-width="0.65" stroke-linecap="round"/>
<rect x="329.00" y="457.65" width="33.80" height="11.57" fill="#e7ecee"/>
<line x1="363.30" y1="463.25" x2="365.40" y2="463.25" stroke="#333" stroke-width="0.8"/>
<text x="367.90" y="465.35" font-size="6.6" textLength="16.61" lengthAdjust="spacingAndGlyphs" fill="#262626" stroke="#262626" stroke-width="0.18">GNB3</text>
<rect x="294.70" y="468.62" width="34.90" height="11.57" fill="#e0e8ea"/>
<path d="M311.85,470.91L311.85,473.31M310.81,471.50L312.89,472.71M312.89,471.50L310.81,472.71" stroke="#333333" stroke-width="0.65" stroke-linecap="round"/>
<rect x="329.00" y="468.62" width="33.80" height="11.57" fill="#ebeff0"/>
<line x1="363.30" y1="474.22" x2="365.40" y2="474.22" stroke="#333" stroke-width="0.8"/>
<text x="367.90" y="476.32" font-size="6.6" textLength="20.34" lengthAdjust="spacingAndGlyphs" fill="#262626" stroke="#262626" stroke-width="0.18">ADCY8</text>
<rect x="294.70" y="479.59" width="34.90" height="11.57" fill="#dce5e8"/>
<path d="M310.10,481.88L310.10,484.28M309.06,482.48L311.14,483.68M311.14,482.48L309.06,483.68M313.60,481.88L313.60,484.28M312.56,482.48L314.64,483.68M314.64,482.48L312.56,483.68" stroke="#333333" stroke-width="0.65" stroke-linecap="round"/>
<rect x="329.00" y="479.59" width="33.80" height="11.57" fill="#f1e7e7"/>
<line x1="363.30" y1="485.19" x2="365.40" y2="485.19" stroke="#333" stroke-width="0.8"/>
<text x="367.90" y="487.29" font-size="6.6" textLength="18.31" lengthAdjust="spacingAndGlyphs" fill="#262626" stroke="#262626" stroke-width="0.18">GNAI1</text>
<rect x="294.70" y="490.56" width="34.90" height="11.57" fill="#d6e1e5"/>
<path d="M310.10,492.85L310.10,495.25M309.06,493.44L311.14,494.65M311.14,493.44L309.06,494.65M313.60,492.85L313.60,495.25M312.56,493.44L314.64,494.65M314.64,493.44L312.56,494.65" stroke="#333333" stroke-width="0.65" stroke-linecap="round"/>
<rect x="329.00" y="490.56" width="33.80" height="11.57" fill="#f1e4e5"/>
<line x1="363.30" y1="496.16" x2="365.40" y2="496.16" stroke="#333" stroke-width="0.8"/>
<text x="367.90" y="498.26" font-size="6.6" textLength="23.05" lengthAdjust="spacingAndGlyphs" fill="#262626" stroke="#262626" stroke-width="0.18">GRIN2D</text>
<rect x="294.70" y="501.53" width="34.90" height="11.57" fill="#a5c1ca"/>
<path d="M308.35,503.82L308.35,506.22M307.31,504.42L309.39,505.62M309.39,504.42L307.31,505.62M311.85,503.82L311.85,506.22M310.81,504.42L312.89,505.62M312.89,504.42L310.81,505.62M315.35,503.82L315.35,506.22M314.31,504.42L316.39,505.62M316.39,504.42L314.31,505.62" stroke="#333333" stroke-width="0.65" stroke-linecap="round"/>
<rect x="329.00" y="501.53" width="33.80" height="11.57" fill="#eecfd1"/>
<path d="M345.90,503.82L345.90,506.22M344.86,504.42L346.94,505.62M346.94,504.42L344.86,505.62" stroke="#333333" stroke-width="0.65" stroke-linecap="round"/>
<line x1="363.30" y1="507.13" x2="365.40" y2="507.13" stroke="#333" stroke-width="0.8"/>
<text x="367.90" y="509.23" font-size="6.6" textLength="20.23" lengthAdjust="spacingAndGlyphs" fill="#262626" stroke="#262626" stroke-width="0.18">GNG11</text>
<rect x="294.70" y="512.50" width="34.90" height="11.57" fill="#b4cbd2"/>
<path d="M308.35,514.78L308.35,517.19M307.31,515.38L309.39,516.59M309.39,515.38L307.31,516.59M311.85,514.78L311.85,517.19M310.81,515.38L312.89,516.59M312.89,515.38L310.81,516.59M315.35,514.78L315.35,517.19M314.31,515.38L316.39,516.59M316.39,515.38L314.31,516.59" stroke="#333333" stroke-width="0.65" stroke-linecap="round"/>
<rect x="329.00" y="512.50" width="33.80" height="11.57" fill="#f2eeee"/>
<line x1="363.30" y1="518.10" x2="365.40" y2="518.10" stroke="#333" stroke-width="0.8"/>
<text x="367.90" y="520.20" font-size="6.6" textLength="17.29" lengthAdjust="spacingAndGlyphs" fill="#262626" stroke="#262626" stroke-width="0.18">GNAS</text>
<rect x="294.70" y="523.47" width="34.90" height="11.57" fill="#bcd0d7"/>
<path d="M311.85,525.75L311.85,528.16M310.81,526.36L312.89,527.56M312.89,526.36L310.81,527.56" stroke="#333333" stroke-width="0.65" stroke-linecap="round"/>
<rect x="329.00" y="523.47" width="33.80" height="11.57" fill="#f2eeee"/>
<line x1="363.30" y1="529.07" x2="365.40" y2="529.07" stroke="#333" stroke-width="0.8"/>
<text x="367.90" y="531.17" font-size="6.6" textLength="17.29" lengthAdjust="spacingAndGlyphs" fill="#262626" stroke="#262626" stroke-width="0.18">GNG5</text>
<rect x="294.70" y="534.44" width="34.90" height="11.57" fill="#aac5cd"/>
<path d="M308.35,536.73L308.35,539.13M307.31,537.33L309.39,538.53M309.39,537.33L307.31,538.53M311.85,536.73L311.85,539.13M310.81,537.33L312.89,538.53M312.89,537.33L310.81,538.53M315.35,536.73L315.35,539.13M314.31,537.33L316.39,538.53M316.39,537.33L314.31,538.53" stroke="#333333" stroke-width="0.65" stroke-linecap="round"/>
<rect x="329.00" y="534.44" width="33.80" height="11.57" fill="#f1e4e5"/>
<line x1="363.30" y1="540.04" x2="365.40" y2="540.04" stroke="#333" stroke-width="0.8"/>
<text x="367.90" y="542.14" font-size="6.6" textLength="17.29" lengthAdjust="spacingAndGlyphs" fill="#262626" stroke="#262626" stroke-width="0.18">GNG3</text>
<rect x="294.70" y="545.41" width="34.90" height="11.57" fill="#abc6ce"/>
<path d="M310.10,547.70L310.10,550.10M309.06,548.30L311.14,549.50M311.14,548.30L309.06,549.50M313.60,547.70L313.60,550.10M312.56,548.30L314.64,549.50M314.64,548.30L312.56,549.50" stroke="#333333" stroke-width="0.65" stroke-linecap="round"/>
<rect x="329.00" y="545.41" width="33.80" height="11.57" fill="#f1e4e5"/>
<line x1="363.30" y1="551.01" x2="365.40" y2="551.01" stroke="#333" stroke-width="0.8"/>
<text x="367.90" y="553.11" font-size="6.6" textLength="22.71" lengthAdjust="spacingAndGlyphs" fill="#262626" stroke="#262626" stroke-width="0.18">GRIN3B</text>
<rect x="294.70" y="556.38" width="34.90" height="11.57" fill="#b9cfd5"/>
<path d="M308.35,558.66L308.35,561.07M307.31,559.26L309.39,560.47M309.39,559.26L307.31,560.47M311.85,558.66L311.85,561.07M310.81,559.26L312.89,560.47M312.89,559.26L310.81,560.47M315.35,558.66L315.35,561.07M314.31,559.26L316.39,560.47M316.39,559.26L314.31,560.47" stroke="#333333" stroke-width="0.65" stroke-linecap="round"/>
<rect x="329.00" y="556.38" width="33.80" height="11.57" fill="#f1e4e5"/>
<line x1="363.30" y1="561.98" x2="365.40" y2="561.98" stroke="#333" stroke-width="0.8"/>
<text x="367.90" y="564.08" font-size="6.6" font-weight="bold" textLength="15.93" lengthAdjust="spacingAndGlyphs" fill="#111" stroke="#111" stroke-width="0.18">GLS2</text>
<rect x="294.70" y="567.35" width="34.90" height="11.57" fill="#b4cbd2"/>
<path d="M311.85,569.63L311.85,572.04M310.81,570.24L312.89,571.44M312.89,570.24L310.81,571.44" stroke="#333333" stroke-width="0.65" stroke-linecap="round"/>
<rect x="329.00" y="567.35" width="33.80" height="11.57" fill="#f0dedf"/>
<line x1="363.30" y1="572.95" x2="365.40" y2="572.95" stroke="#333" stroke-width="0.8"/>
<text x="367.90" y="575.05" font-size="6.6" textLength="17.29" lengthAdjust="spacingAndGlyphs" fill="#262626" stroke="#262626" stroke-width="0.18">GNG8</text>
<rect x="294.70" y="578.32" width="34.90" height="11.57" fill="#b4cbd2"/>
<path d="M311.85,580.61L311.85,583.01M310.81,581.21L312.89,582.41M312.89,581.21L310.81,582.41" stroke="#333333" stroke-width="0.65" stroke-linecap="round"/>
<rect x="329.00" y="578.32" width="33.80" height="11.57" fill="#f0e0e1"/>
<line x1="363.30" y1="583.92" x2="365.40" y2="583.92" stroke="#333" stroke-width="0.8"/>
<text x="367.90" y="586.02" font-size="6.6" textLength="20.68" lengthAdjust="spacingAndGlyphs" fill="#262626" stroke="#262626" stroke-width="0.18">GNG13</text>
<rect x="294.70" y="589.29" width="34.90" height="11.57" fill="#f2eeee"/>
<rect x="329.00" y="589.29" width="33.80" height="11.57" fill="#edcacd"/>
<path d="M344.15,591.57L344.15,593.98M343.11,592.17L345.19,593.38M345.19,592.17L343.11,593.38M347.65,591.57L347.65,593.98M346.61,592.17L348.69,593.38M348.69,592.17L346.61,593.38" stroke="#333333" stroke-width="0.65" stroke-linecap="round"/>
<line x1="363.30" y1="594.89" x2="365.40" y2="594.89" stroke="#333" stroke-width="0.8"/>
<text x="367.90" y="596.99" font-size="6.6" textLength="26.11" lengthAdjust="spacingAndGlyphs" fill="#262626" stroke="#262626" stroke-width="0.18">SLC17A6</text>
<rect x="294.70" y="600.26" width="34.90" height="11.57" fill="#f1e7e7"/>
<path d="M311.85,602.54L311.85,604.95M310.81,603.14L312.89,604.35M312.89,603.14L310.81,604.35" stroke="#333333" stroke-width="0.65" stroke-linecap="round"/>
<rect x="329.00" y="600.26" width="33.80" height="11.57" fill="#f1e4e5"/>
<line x1="363.30" y1="605.86" x2="365.40" y2="605.86" stroke="#333" stroke-width="0.8"/>
<text x="367.90" y="607.96" font-size="6.6" textLength="24.41" lengthAdjust="spacingAndGlyphs" fill="#262626" stroke="#262626" stroke-width="0.18">PPP3CC</text>
<rect x="294.70" y="611.23" width="34.90" height="11.57" fill="#f0e1e2"/>
<path d="M311.85,613.51L311.85,615.92M310.81,614.12L312.89,615.32M312.89,614.12L310.81,615.32" stroke="#333333" stroke-width="0.65" stroke-linecap="round"/>
<rect x="329.00" y="611.23" width="33.80" height="11.57" fill="#ebeff0"/>
<line x1="363.30" y1="616.83" x2="365.40" y2="616.83" stroke="#333" stroke-width="0.8"/>
<text x="367.90" y="618.93" font-size="6.6" textLength="28.81" lengthAdjust="spacingAndGlyphs" fill="#262626" stroke="#262626" stroke-width="0.18">CACNA1A</text>
<rect x="294.70" y="622.20" width="34.90" height="11.57" fill="#e37f87"/>
<path d="M308.35,624.49L308.35,626.89M307.31,625.09L309.39,626.29M309.39,625.09L307.31,626.29M311.85,624.49L311.85,626.89M310.81,625.09L312.89,626.29M312.89,625.09L310.81,626.29M315.35,624.49L315.35,626.89M314.31,625.09L316.39,626.29M316.39,625.09L314.31,626.29" stroke="#ffffff" stroke-width="0.65" stroke-linecap="round"/>
<rect x="329.00" y="622.20" width="33.80" height="11.57" fill="#91b4bf"/>
<path d="M344.15,624.49L344.15,626.89M343.11,625.09L345.19,626.29M345.19,625.09L343.11,626.29M347.65,624.49L347.65,626.89M346.61,625.09L348.69,626.29M348.69,625.09L346.61,626.29" stroke="#333333" stroke-width="0.65" stroke-linecap="round"/>
<line x1="363.30" y1="627.80" x2="365.40" y2="627.80" stroke="#333" stroke-width="0.8"/>
<text x="367.90" y="629.90" font-size="6.6" textLength="22.72" lengthAdjust="spacingAndGlyphs" fill="#262626" stroke="#262626" stroke-width="0.18">SLC1A2</text>
<rect x="294.70" y="633.17" width="34.90" height="11.57" fill="#e6959b"/>
<path d="M310.10,635.46L310.10,637.86M309.06,636.06L311.14,637.26M311.14,636.06L309.06,637.26M313.60,635.46L313.60,637.86M312.56,636.06L314.64,637.26M314.64,636.06L312.56,637.26" stroke="#333333" stroke-width="0.65" stroke-linecap="round"/>
<rect x="329.00" y="633.17" width="33.80" height="11.57" fill="#91b4bf"/>
<path d="M344.15,635.46L344.15,637.86M343.11,636.06L345.19,637.26M345.19,636.06L343.11,637.26M347.65,635.46L347.65,637.86M346.61,636.06L348.69,637.26M348.69,636.06L346.61,637.26" stroke="#333333" stroke-width="0.65" stroke-linecap="round"/>
<line x1="363.30" y1="638.77" x2="365.40" y2="638.77" stroke="#333" stroke-width="0.8"/>
<text x="367.90" y="640.87" font-size="6.6" textLength="17.29" lengthAdjust="spacingAndGlyphs" fill="#262626" stroke="#262626" stroke-width="0.18">GNG7</text>
<rect x="294.70" y="644.14" width="34.90" height="11.57" fill="#e06b74"/>
<path d="M308.35,646.42L308.35,648.83M307.31,647.02L309.39,648.23M309.39,647.02L307.31,648.23M311.85,646.42L311.85,648.83M310.81,647.02L312.89,648.23M312.89,647.02L310.81,648.23M315.35,646.42L315.35,648.83M314.31,647.02L316.39,648.23M316.39,647.02L314.31,648.23" stroke="#ffffff" stroke-width="0.65" stroke-linecap="round"/>
<rect x="329.00" y="644.14" width="33.80" height="11.57" fill="#eaeef0"/>
<line x1="363.30" y1="649.74" x2="365.40" y2="649.74" stroke="#333" stroke-width="0.8"/>
<text x="367.90" y="651.84" font-size="6.6" textLength="17.62" lengthAdjust="spacingAndGlyphs" fill="#262626" stroke="#262626" stroke-width="0.18">GRM1</text>
<rect x="294.70" y="655.11" width="34.90" height="11.57" fill="#e37e85"/>
<path d="M308.35,657.39L308.35,659.80M307.31,658.00L309.39,659.20M309.39,658.00L307.31,659.20M311.85,657.39L311.85,659.80M310.81,658.00L312.89,659.20M312.89,658.00L310.81,659.20M315.35,657.39L315.35,659.80M314.31,658.00L316.39,659.20M316.39,658.00L314.31,659.20" stroke="#ffffff" stroke-width="0.65" stroke-linecap="round"/>
<rect x="329.00" y="655.11" width="33.80" height="11.57" fill="#cfdde1"/>
<line x1="363.30" y1="660.71" x2="365.40" y2="660.71" stroke="#333" stroke-width="0.8"/>
<text x="367.90" y="662.81" font-size="6.6" textLength="17.29" lengthAdjust="spacingAndGlyphs" fill="#262626" stroke="#262626" stroke-width="0.18">ITPR1</text>
<rect x="294.70" y="666.08" width="34.90" height="11.57" fill="#efd6d7"/>
<path d="M311.85,668.37L311.85,670.77M310.81,668.97L312.89,670.17M312.89,668.97L310.81,670.17" stroke="#333333" stroke-width="0.65" stroke-linecap="round"/>
<rect x="329.00" y="666.08" width="33.80" height="11.57" fill="#cfdde1"/>
<path d="M345.90,668.37L345.90,670.77M344.86,668.97L346.94,670.17M346.94,668.97L344.86,670.17" stroke="#333333" stroke-width="0.65" stroke-linecap="round"/>
<line x1="363.30" y1="671.68" x2="365.40" y2="671.68" stroke="#333" stroke-width="0.8"/>
<text x="369.90" y="673.78" font-size="6.6" textLength="18.30" lengthAdjust="spacingAndGlyphs" fill="#262626" stroke="#262626" stroke-width="0.18">LZTS3</text>
<rect x="294.70" y="677.05" width="34.90" height="11.57" fill="#f0e3e3"/>
<rect x="329.00" y="677.05" width="33.80" height="11.57" fill="#cfdde1"/>
<path d="M344.15,679.33L344.15,681.74M343.11,679.93L345.19,681.13M345.19,679.93L343.11,681.13M347.65,679.33L347.65,681.74M346.61,679.93L348.69,681.13M348.69,679.93L346.61,681.13" stroke="#333333" stroke-width="0.65" stroke-linecap="round"/>
<line x1="363.30" y1="682.65" x2="365.40" y2="682.65" stroke="#333" stroke-width="0.8"/>
<text x="369.90" y="684.75" font-size="6.6" font-weight="bold" textLength="18.64" lengthAdjust="spacingAndGlyphs" fill="#111" stroke="#111" stroke-width="0.18">GRIK5</text>
<rect x="294.70" y="688.02" width="34.90" height="11.57" fill="#edc7ca"/>
<path d="M308.35,690.30L308.35,692.71M307.31,690.90L309.39,692.11M309.39,690.90L307.31,692.11M311.85,690.30L311.85,692.71M310.81,690.90L312.89,692.11M312.89,690.90L310.81,692.11M315.35,690.30L315.35,692.71M314.31,690.90L316.39,692.11M316.39,690.90L314.31,692.11" stroke="#333333" stroke-width="0.65" stroke-linecap="round"/>
<rect x="329.00" y="688.02" width="33.80" height="11.57" fill="#dde6e9"/>
<line x1="363.30" y1="693.62" x2="365.40" y2="693.62" stroke="#333" stroke-width="0.8"/>
<text x="369.90" y="695.72" font-size="6.6" textLength="24.41" lengthAdjust="spacingAndGlyphs" fill="#262626" stroke="#262626" stroke-width="0.18">SHANK3</text>
<rect x="294.70" y="698.99" width="34.90" height="11.57" fill="#e9a8ad"/>
<path d="M310.10,701.27L310.10,703.68M309.06,701.88L311.14,703.08M311.14,701.88L309.06,703.08M313.60,701.27L313.60,703.68M312.56,701.88L314.64,703.08M314.64,701.88L312.56,703.08" stroke="#333333" stroke-width="0.65" stroke-linecap="round"/>
<rect x="329.00" y="698.99" width="33.80" height="11.57" fill="#d8e2e6"/>
<line x1="363.30" y1="704.59" x2="365.40" y2="704.59" stroke="#333" stroke-width="0.8"/>
<text x="369.90" y="706.69" font-size="6.6" textLength="22.71" lengthAdjust="spacingAndGlyphs" fill="#262626" stroke="#262626" stroke-width="0.18">GRIN2B</text>
<rect x="294.70" y="709.96" width="34.90" height="11.57" fill="#e9a8ad"/>
<path d="M308.35,712.25L308.35,714.65M307.31,712.85L309.39,714.05M309.39,712.85L307.31,714.05M311.85,712.25L311.85,714.65M310.81,712.85L312.89,714.05M312.89,712.85L310.81,714.05M315.35,712.25L315.35,714.65M314.31,712.85L316.39,714.05M316.39,712.85L314.31,714.05" stroke="#333333" stroke-width="0.65" stroke-linecap="round"/>
<rect x="329.00" y="709.96" width="33.80" height="11.57" fill="#dce5e8"/>
<line x1="363.30" y1="715.56" x2="365.40" y2="715.56" stroke="#333" stroke-width="0.8"/>
<text x="369.90" y="717.66" font-size="6.6" textLength="16.61" lengthAdjust="spacingAndGlyphs" fill="#262626" stroke="#262626" stroke-width="0.18">GNB1</text>
<rect x="294.70" y="720.93" width="34.90" height="11.57" fill="#e8a2a7"/>
<path d="M311.85,723.22L311.85,725.62M310.81,723.82L312.89,725.02M312.89,723.82L310.81,725.02" stroke="#333333" stroke-width="0.65" stroke-linecap="round"/>
<rect x="329.00" y="720.93" width="33.80" height="11.57" fill="#dce5e8"/>
<line x1="363.30" y1="726.53" x2="365.40" y2="726.53" stroke="#333" stroke-width="0.8"/>
<text x="369.90" y="728.63" font-size="6.6" textLength="26.11" lengthAdjust="spacingAndGlyphs" fill="#262626" stroke="#262626" stroke-width="0.18">SLC17A7</text>
<rect x="294.70" y="731.90" width="34.90" height="11.57" fill="#eab2b6"/>
<path d="M310.10,734.19L310.10,736.59M309.06,734.79L311.14,735.99M311.14,734.79L309.06,735.99M313.60,734.19L313.60,736.59M312.56,734.79L314.64,735.99M314.64,734.79L312.56,735.99" stroke="#333333" stroke-width="0.65" stroke-linecap="round"/>
<rect x="329.00" y="731.90" width="33.80" height="11.57" fill="#cfdde1"/>
<path d="M345.90,734.19L345.90,736.59M344.86,734.79L346.94,735.99M346.94,734.79L344.86,735.99" stroke="#333333" stroke-width="0.65" stroke-linecap="round"/>
<line x1="363.30" y1="737.50" x2="365.40" y2="737.50" stroke="#333" stroke-width="0.8"/>
<text x="369.90" y="739.60" font-size="6.6" textLength="20.34" lengthAdjust="spacingAndGlyphs" fill="#262626" stroke="#262626" stroke-width="0.18">ADCY5</text>
<rect x="294.70" y="742.87" width="34.90" height="11.57" fill="#ebbdc1"/>
<path d="M308.35,745.15L308.35,747.56M307.31,745.75L309.39,746.96M309.39,745.75L307.31,746.96M311.85,745.15L311.85,747.56M310.81,745.75L312.89,746.96M312.89,745.75L310.81,746.96M315.35,745.15L315.35,747.56M314.31,745.75L316.39,746.96M316.39,745.75L314.31,746.96" stroke="#333333" stroke-width="0.65" stroke-linecap="round"/>
<rect x="329.00" y="742.87" width="33.80" height="11.57" fill="#cfdde1"/>
<line x1="363.30" y1="748.47" x2="365.40" y2="748.47" stroke="#333" stroke-width="0.8"/>
<text x="369.90" y="750.57" font-size="6.6" textLength="21.02" lengthAdjust="spacingAndGlyphs" fill="#262626" stroke="#262626" stroke-width="0.18">PRKCB</text>
<rect x="294.70" y="753.84" width="34.90" height="11.57" fill="#ecc0c3"/>
<path d="M311.85,756.12L311.85,758.53M310.81,756.73L312.89,757.93M312.89,756.73L310.81,757.93" stroke="#333333" stroke-width="0.65" stroke-linecap="round"/>
<rect x="329.00" y="753.84" width="33.80" height="11.57" fill="#cfdde1"/>
<path d="M345.90,756.12L345.90,758.53M344.86,756.73L346.94,757.93M346.94,756.73L344.86,757.93" stroke="#333333" stroke-width="0.65" stroke-linecap="round"/>
<line x1="363.30" y1="759.44" x2="365.40" y2="759.44" stroke="#333" stroke-width="0.8"/>
<text x="369.90" y="761.54" font-size="6.6" textLength="27.13" lengthAdjust="spacingAndGlyphs" fill="#262626" stroke="#262626" stroke-width="0.18">PLA2G4E</text>
<rect x="294.70" y="764.81" width="34.90" height="11.57" fill="#e8a4a9"/>
<path d="M310.10,767.10L310.10,769.50M309.06,767.70L311.14,768.90M311.14,767.70L309.06,768.90M313.60,767.10L313.60,769.50M312.56,767.70L314.64,768.90M314.64,767.70L312.56,768.90" stroke="#333333" stroke-width="0.65" stroke-linecap="round"/>
<rect x="329.00" y="764.81" width="33.80" height="11.57" fill="#eaeef0"/>
<line x1="363.30" y1="770.41" x2="365.40" y2="770.41" stroke="#333" stroke-width="0.8"/>
<text x="369.90" y="772.51" font-size="6.6" textLength="17.62" lengthAdjust="spacingAndGlyphs" fill="#262626" stroke="#262626" stroke-width="0.18">GRM7</text>
<rect x="294.70" y="775.78" width="34.90" height="10.97" fill="#e8a4a9"/>
<path d="M310.10,778.06L310.10,780.47M309.06,778.66L311.14,779.87M311.14,778.66L309.06,779.87M313.60,778.06L313.60,780.47M312.56,778.66L314.64,779.87M314.64,778.66L312.56,779.87" stroke="#333333" stroke-width="0.65" stroke-linecap="round"/>
<rect x="329.00" y="775.78" width="33.80" height="10.97" fill="#eaeef0"/>
<line x1="363.30" y1="781.38" x2="365.40" y2="781.38" stroke="#333" stroke-width="0.8"/>
<text x="369.90" y="783.48" font-size="6.6" textLength="18.31" lengthAdjust="spacingAndGlyphs" fill="#262626" stroke="#262626" stroke-width="0.18">GRIK3</text>
<text x="424.60" y="400.30" font-size="6.6" text-anchor="middle" font-weight="bold" textLength="16.00" lengthAdjust="spacingAndGlyphs" fill="#000" stroke="#000" stroke-width="0.18">4 dpi</text>
<text x="458.30" y="400.30" font-size="6.6" text-anchor="middle" font-weight="bold" textLength="19.50" lengthAdjust="spacingAndGlyphs" fill="#000" stroke="#000" stroke-width="0.18">80 dpi</text>
<rect x="409.00" y="402.10" width="34.80" height="11.59" fill="#e58d94"/>
<path d="M422.60,404.40L422.60,406.80M421.56,405.00L423.64,406.20M423.64,405.00L421.56,406.20M426.10,404.40L426.10,406.80M425.06,405.00L427.14,406.20M427.14,405.00L425.06,406.20M429.60,404.40L429.60,406.80M428.56,405.00L430.64,406.20M430.64,405.00L428.56,406.20" stroke="#ffffff" stroke-width="0.65" stroke-linecap="round"/>
<rect x="443.20" y="402.10" width="34.60" height="11.59" fill="#cddbe0"/>
<path d="M460.50,404.40L460.50,406.80M459.46,405.00L461.54,406.20M461.54,405.00L459.46,406.20" stroke="#333333" stroke-width="0.65" stroke-linecap="round"/>
<line x1="478.30" y1="408.70" x2="480.40" y2="408.70" stroke="#333" stroke-width="0.8"/>
<text x="482.50" y="410.80" font-size="6.6" textLength="19.33" lengthAdjust="spacingAndGlyphs" fill="#262626" stroke="#262626" stroke-width="0.18">PLCB1</text>
<rect x="409.00" y="413.09" width="34.80" height="11.59" fill="#e6989e"/>
<path d="M422.60,415.39L422.60,417.79M421.56,415.99L423.64,417.19M423.64,415.99L421.56,417.19M426.10,415.39L426.10,417.79M425.06,415.99L427.14,417.19M427.14,415.99L425.06,417.19M429.60,415.39L429.60,417.79M428.56,415.99L430.64,417.19M430.64,415.99L428.56,417.19" stroke="#333333" stroke-width="0.65" stroke-linecap="round"/>
<rect x="443.20" y="413.09" width="34.60" height="11.59" fill="#cddbe0"/>
<path d="M460.50,415.39L460.50,417.79M459.46,415.99L461.54,417.19M461.54,415.99L459.46,417.19" stroke="#333333" stroke-width="0.65" stroke-linecap="round"/>
<line x1="478.30" y1="419.69" x2="480.40" y2="419.69" stroke="#333" stroke-width="0.8"/>
<text x="482.50" y="421.79" font-size="6.6" font-weight="bold" textLength="18.64" lengthAdjust="spacingAndGlyphs" fill="#111" stroke="#111" stroke-width="0.18">GRIA1</text>
<rect x="409.00" y="424.08" width="34.80" height="11.59" fill="#e6989e"/>
<path d="M422.60,426.38L422.60,428.78M421.56,426.98L423.64,428.18M423.64,426.98L421.56,428.18M426.10,426.38L426.10,428.78M425.06,426.98L427.14,428.18M427.14,426.98L425.06,428.18M429.60,426.38L429.60,428.78M428.56,426.98L430.64,428.18M430.64,426.98L428.56,428.18" stroke="#333333" stroke-width="0.65" stroke-linecap="round"/>
<rect x="443.20" y="424.08" width="34.60" height="11.59" fill="#cddbe0"/>
<path d="M460.50,426.38L460.50,428.78M459.46,426.98L461.54,428.18M461.54,426.98L459.46,428.18" stroke="#333333" stroke-width="0.65" stroke-linecap="round"/>
<line x1="478.30" y1="430.68" x2="480.40" y2="430.68" stroke="#333" stroke-width="0.8"/>
<text x="482.50" y="432.78" font-size="6.6" textLength="25.09" lengthAdjust="spacingAndGlyphs" fill="#262626" stroke="#262626" stroke-width="0.18">PRKACB</text>
<rect x="409.00" y="435.07" width="34.80" height="11.59" fill="#e6989e"/>
<path d="M422.60,437.37L422.60,439.77M421.56,437.97L423.64,439.17M423.64,437.97L421.56,439.17M426.10,437.37L426.10,439.77M425.06,437.97L427.14,439.17M427.14,437.97L425.06,439.17M429.60,437.37L429.60,439.77M428.56,437.97L430.64,439.17M430.64,437.97L428.56,439.17" stroke="#333333" stroke-width="0.65" stroke-linecap="round"/>
<rect x="443.20" y="435.07" width="34.60" height="11.59" fill="#d9e3e7"/>
<line x1="478.30" y1="441.67" x2="480.40" y2="441.67" stroke="#333" stroke-width="0.8"/>
<text x="482.50" y="443.77" font-size="6.6" textLength="19.32" lengthAdjust="spacingAndGlyphs" fill="#262626" stroke="#262626" stroke-width="0.18">KCNJ3</text>
<rect x="409.00" y="446.06" width="34.80" height="11.59" fill="#e8a6ab"/>
<path d="M424.35,448.36L424.35,450.75M423.31,448.95L425.39,450.16M425.39,448.95L423.31,450.16M427.85,448.36L427.85,450.75M426.81,448.95L428.89,450.16M428.89,448.95L426.81,450.16" stroke="#333333" stroke-width="0.65" stroke-linecap="round"/>
<rect x="443.20" y="446.06" width="34.60" height="11.59" fill="#d9e3e7"/>
<line x1="478.30" y1="452.66" x2="480.40" y2="452.66" stroke="#333" stroke-width="0.8"/>
<text x="482.50" y="454.76" font-size="6.6" textLength="16.61" lengthAdjust="spacingAndGlyphs" fill="#262626" stroke="#262626" stroke-width="0.18">GRK3</text>
<rect x="409.00" y="457.05" width="34.80" height="11.59" fill="#e8a4a9"/>
<path d="M422.60,459.35L422.60,461.75M421.56,459.94L423.64,461.15M423.64,459.94L421.56,461.15M426.10,459.35L426.10,461.75M425.06,459.94L427.14,461.15M427.14,459.94L425.06,461.15M429.60,459.35L429.60,461.75M428.56,459.94L430.64,461.15M430.64,459.94L428.56,461.15" stroke="#333333" stroke-width="0.65" stroke-linecap="round"/>
<rect x="443.20" y="457.05" width="34.60" height="11.59" fill="#d9e3e7"/>
<line x1="478.30" y1="463.65" x2="480.40" y2="463.65" stroke="#333" stroke-width="0.8"/>
<text x="482.50" y="465.75" font-size="6.6" textLength="24.07" lengthAdjust="spacingAndGlyphs" fill="#262626" stroke="#262626" stroke-width="0.18">PPP3CA</text>
<rect x="409.00" y="468.04" width="34.80" height="11.59" fill="#e4888f"/>
<path d="M422.60,470.34L422.60,472.74M421.56,470.94L423.64,472.14M423.64,470.94L421.56,472.14M426.10,470.34L426.10,472.74M425.06,470.94L427.14,472.14M427.14,470.94L425.06,472.14M429.60,470.34L429.60,472.74M428.56,470.94L430.64,472.14M430.64,470.94L428.56,472.14" stroke="#ffffff" stroke-width="0.65" stroke-linecap="round"/>
<rect x="443.20" y="468.04" width="34.60" height="11.59" fill="#dfe7ea"/>
<line x1="478.30" y1="474.64" x2="480.40" y2="474.64" stroke="#333" stroke-width="0.8"/>
<text x="482.50" y="476.74" font-size="6.6" textLength="24.07" lengthAdjust="spacingAndGlyphs" fill="#262626" stroke="#262626" stroke-width="0.18">DLGAP1</text>
<rect x="409.00" y="479.03" width="34.80" height="11.59" fill="#e58d94"/>
<path d="M422.60,481.33L422.60,483.73M421.56,481.93L423.64,483.13M423.64,481.93L421.56,483.13M426.10,481.33L426.10,483.73M425.06,481.93L427.14,483.13M427.14,481.93L425.06,483.13M429.60,481.33L429.60,483.73M428.56,481.93L430.64,483.13M430.64,481.93L428.56,483.13" stroke="#ffffff" stroke-width="0.65" stroke-linecap="round"/>
<rect x="443.20" y="479.03" width="34.60" height="11.59" fill="#dfe7ea"/>
<line x1="478.30" y1="485.63" x2="480.40" y2="485.63" stroke="#333" stroke-width="0.8"/>
<text x="482.50" y="487.73" font-size="6.6" textLength="20.34" lengthAdjust="spacingAndGlyphs" fill="#262626" stroke="#262626" stroke-width="0.18">ADCY1</text>
<rect x="409.00" y="490.02" width="34.80" height="11.59" fill="#e58d94"/>
<path d="M422.60,492.32L422.60,494.72M421.56,492.92L423.64,494.12M423.64,492.92L421.56,494.12M426.10,492.32L426.10,494.72M425.06,492.92L427.14,494.12M427.14,492.92L425.06,494.12M429.60,492.32L429.60,494.72M428.56,492.92L430.64,494.12M430.64,492.92L428.56,494.12" stroke="#ffffff" stroke-width="0.65" stroke-linecap="round"/>
<rect x="443.20" y="490.02" width="34.60" height="11.59" fill="#dce5e8"/>
<line x1="478.30" y1="496.62" x2="480.40" y2="496.62" stroke="#333" stroke-width="0.8"/>
<text x="482.50" y="498.72" font-size="6.6" textLength="26.11" lengthAdjust="spacingAndGlyphs" fill="#262626" stroke="#262626" stroke-width="0.18">SLC38A1</text>
<rect x="409.00" y="501.01" width="34.80" height="11.59" fill="#e48990"/>
<path d="M422.60,503.31L422.60,505.70M421.56,503.90L423.64,505.11M423.64,503.90L421.56,505.11M426.10,503.31L426.10,505.70M425.06,503.90L427.14,505.11M427.14,503.90L425.06,505.11M429.60,503.31L429.60,505.70M428.56,503.90L430.64,505.11M430.64,503.90L428.56,505.11" stroke="#ffffff" stroke-width="0.65" stroke-linecap="round"/>
<rect x="443.20" y="501.01" width="34.60" height="11.59" fill="#dae4e7"/>
<line x1="478.30" y1="507.61" x2="480.40" y2="507.61" stroke="#333" stroke-width="0.8"/>
<text x="482.50" y="509.71" font-size="6.6" textLength="22.71" lengthAdjust="spacingAndGlyphs" fill="#262626" stroke="#262626" stroke-width="0.18">GRIN2A</text>
<rect x="409.00" y="512.00" width="34.80" height="11.59" fill="#e6989e"/>
<path d="M422.60,514.29L422.60,516.70M421.56,514.89L423.64,516.10M423.64,514.89L421.56,516.10M426.10,514.29L426.10,516.70M425.06,514.89L427.14,516.10M427.14,514.89L425.06,516.10M429.60,514.29L429.60,516.70M428.56,514.89L430.64,516.10M430.64,514.89L428.56,516.10" stroke="#333333" stroke-width="0.65" stroke-linecap="round"/>
<rect x="443.20" y="512.00" width="34.60" height="11.59" fill="#dce5e8"/>
<line x1="478.30" y1="518.60" x2="480.40" y2="518.60" stroke="#333" stroke-width="0.8"/>
<text x="482.50" y="520.70" font-size="6.6" textLength="26.10" lengthAdjust="spacingAndGlyphs" fill="#262626" stroke="#262626" stroke-width="0.18">HOMER1</text>
<rect x="409.00" y="522.99" width="34.80" height="11.59" fill="#e79ca2"/>
<path d="M422.60,525.28L422.60,527.69M421.56,525.88L423.64,527.09M423.64,525.88L421.56,527.09M426.10,525.28L426.10,527.69M425.06,525.88L427.14,527.09M427.14,525.88L425.06,527.09M429.60,525.28L429.60,527.69M428.56,525.88L430.64,527.09M430.64,525.88L428.56,527.09" stroke="#333333" stroke-width="0.65" stroke-linecap="round"/>
<rect x="443.20" y="522.99" width="34.60" height="11.59" fill="#e3e9ec"/>
<line x1="478.30" y1="529.59" x2="480.40" y2="529.59" stroke="#333" stroke-width="0.8"/>
<text x="482.50" y="531.69" font-size="6.6" textLength="21.02" lengthAdjust="spacingAndGlyphs" fill="#262626" stroke="#262626" stroke-width="0.18">PRKCA</text>
<rect x="409.00" y="533.98" width="34.80" height="11.59" fill="#e79ca2"/>
<path d="M424.35,536.27L424.35,538.68M423.31,536.88L425.39,538.08M425.39,536.88L423.31,538.08M427.85,536.27L427.85,538.68M426.81,536.88L428.89,538.08M428.89,536.88L426.81,538.08" stroke="#333333" stroke-width="0.65" stroke-linecap="round"/>
<rect x="443.20" y="533.98" width="34.60" height="11.59" fill="#e7ecee"/>
<line x1="478.30" y1="540.58" x2="480.40" y2="540.58" stroke="#333" stroke-width="0.8"/>
<text x="482.50" y="542.68" font-size="6.6" textLength="17.62" lengthAdjust="spacingAndGlyphs" fill="#262626" stroke="#262626" stroke-width="0.18">GRM5</text>
<rect x="409.00" y="544.97" width="34.80" height="11.59" fill="#e8a1a6"/>
<path d="M422.60,547.26L422.60,549.67M421.56,547.87L423.64,549.07M423.64,547.87L421.56,549.07M426.10,547.26L426.10,549.67M425.06,547.87L427.14,549.07M427.14,547.87L425.06,549.07M429.60,547.26L429.60,549.67M428.56,547.87L430.64,549.07M430.64,547.87L428.56,549.07" stroke="#333333" stroke-width="0.65" stroke-linecap="round"/>
<rect x="443.20" y="544.97" width="34.60" height="11.59" fill="#e3e9ec"/>
<line x1="478.30" y1="551.57" x2="480.40" y2="551.57" stroke="#333" stroke-width="0.8"/>
<text x="482.50" y="553.67" font-size="6.6" textLength="18.31" lengthAdjust="spacingAndGlyphs" fill="#262626" stroke="#262626" stroke-width="0.18">GRIA3</text>
<rect x="409.00" y="555.96" width="34.80" height="11.59" fill="#e8a1a6"/>
<path d="M422.60,558.25L422.60,560.66M421.56,558.86L423.64,560.06M423.64,558.86L421.56,560.06M426.10,558.25L426.10,560.66M425.06,558.86L427.14,560.06M427.14,558.86L425.06,560.06M429.60,558.25L429.60,560.66M428.56,558.86L430.64,560.06M430.64,558.86L428.56,560.06" stroke="#333333" stroke-width="0.65" stroke-linecap="round"/>
<rect x="443.20" y="555.96" width="34.60" height="11.59" fill="#ebeff0"/>
<line x1="478.30" y1="562.56" x2="480.40" y2="562.56" stroke="#333" stroke-width="0.8"/>
<text x="482.50" y="564.66" font-size="6.6" textLength="17.62" lengthAdjust="spacingAndGlyphs" fill="#262626" stroke="#262626" stroke-width="0.18">GRM8</text>
<rect x="409.00" y="566.95" width="34.80" height="11.59" fill="#ecc3c6"/>
<path d="M424.35,569.25L424.35,571.65M423.31,569.85L425.39,571.05M425.39,569.85L423.31,571.05M427.85,569.25L427.85,571.65M426.81,569.85L428.89,571.05M428.89,569.85L426.81,571.05" stroke="#333333" stroke-width="0.65" stroke-linecap="round"/>
<rect x="443.20" y="566.95" width="34.60" height="11.59" fill="#b1c9d1"/>
<path d="M458.75,569.25L458.75,571.65M457.71,569.85L459.79,571.05M459.79,569.85L457.71,571.05M462.25,569.25L462.25,571.65M461.21,569.85L463.29,571.05M463.29,569.85L461.21,571.05" stroke="#333333" stroke-width="0.65" stroke-linecap="round"/>
<line x1="478.30" y1="573.55" x2="480.40" y2="573.55" stroke="#333" stroke-width="0.8"/>
<text x="482.50" y="575.65" font-size="6.6" textLength="21.69" lengthAdjust="spacingAndGlyphs" fill="#262626" stroke="#262626" stroke-width="0.18">PRKCG</text>
<rect x="409.00" y="577.94" width="34.80" height="11.59" fill="#e58f95"/>
<path d="M424.35,580.24L424.35,582.64M423.31,580.84L425.39,582.04M425.39,580.84L423.31,582.04M427.85,580.24L427.85,582.64M426.81,580.84L428.89,582.04M428.89,580.84L426.81,582.04" stroke="#333333" stroke-width="0.65" stroke-linecap="round"/>
<rect x="443.20" y="577.94" width="34.60" height="11.59" fill="#abc6ce"/>
<path d="M458.75,580.24L458.75,582.64M457.71,580.84L459.79,582.04M459.79,580.84L457.71,582.04M462.25,580.24L462.25,582.64M461.21,580.84L463.29,582.04M463.29,580.84L461.21,582.04" stroke="#333333" stroke-width="0.65" stroke-linecap="round"/>
<line x1="478.30" y1="584.54" x2="480.40" y2="584.54" stroke="#333" stroke-width="0.8"/>
<text x="482.50" y="586.64" font-size="6.6" font-weight="bold" textLength="18.64" lengthAdjust="spacingAndGlyphs" fill="#111" stroke="#111" stroke-width="0.18">GRIA2</text>
<rect x="409.00" y="588.93" width="34.80" height="11.59" fill="#e6979d"/>
<path d="M422.60,591.23L422.60,593.63M421.56,591.83L423.64,593.03M423.64,591.83L421.56,593.03M426.10,591.23L426.10,593.63M425.06,591.83L427.14,593.03M427.14,591.83L425.06,593.03M429.60,591.23L429.60,593.63M428.56,591.83L430.64,593.03M430.64,591.83L428.56,593.03" stroke="#333333" stroke-width="0.65" stroke-linecap="round"/>
<rect x="443.20" y="588.93" width="34.60" height="11.59" fill="#b5ccd3"/>
<path d="M460.50,591.23L460.50,593.63M459.46,591.83L461.54,593.03M461.54,591.83L459.46,593.03" stroke="#333333" stroke-width="0.65" stroke-linecap="round"/>
<line x1="478.30" y1="595.53" x2="480.40" y2="595.53" stroke="#333" stroke-width="0.8"/>
<text x="482.50" y="597.63" font-size="6.6" font-weight="bold" textLength="15.59" lengthAdjust="spacingAndGlyphs" fill="#111" stroke="#111" stroke-width="0.18">PLD1</text>
<rect x="409.00" y="599.92" width="34.80" height="11.59" fill="#e6979d"/>
<path d="M422.60,602.22L422.60,604.62M421.56,602.82L423.64,604.02M423.64,602.82L421.56,604.02M426.10,602.22L426.10,604.62M425.06,602.82L427.14,604.02M427.14,602.82L425.06,604.02M429.60,602.22L429.60,604.62M428.56,602.82L430.64,604.02M430.64,602.82L428.56,604.02" stroke="#333333" stroke-width="0.65" stroke-linecap="round"/>
<rect x="443.20" y="599.92" width="34.60" height="11.59" fill="#b5ccd3"/>
<path d="M460.50,602.22L460.50,604.62M459.46,602.82L461.54,604.02M461.54,602.82L459.46,604.02" stroke="#333333" stroke-width="0.65" stroke-linecap="round"/>
<line x1="478.30" y1="606.52" x2="480.40" y2="606.52" stroke="#333" stroke-width="0.8"/>
<text x="482.50" y="608.62" font-size="6.6" textLength="23.40" lengthAdjust="spacingAndGlyphs" fill="#262626" stroke="#262626" stroke-width="0.18">PPP3R1</text>
<rect x="409.00" y="610.91" width="34.80" height="11.59" fill="#e9acb1"/>
<path d="M426.10,613.21L426.10,615.61M425.06,613.81L427.14,615.01M427.14,613.81L425.06,615.01" stroke="#333333" stroke-width="0.65" stroke-linecap="round"/>
<rect x="443.20" y="610.91" width="34.60" height="11.59" fill="#f0e1e2"/>
<line x1="478.30" y1="617.51" x2="480.40" y2="617.51" stroke="#333" stroke-width="0.8"/>
<text x="482.50" y="619.61" font-size="6.6" textLength="24.41" lengthAdjust="spacingAndGlyphs" fill="#262626" stroke="#262626" stroke-width="0.18">SHANK2</text>
<rect x="409.00" y="621.90" width="34.80" height="11.59" fill="#eab6ba"/>
<path d="M422.60,624.20L422.60,626.60M421.56,624.80L423.64,626.00M423.64,624.80L421.56,626.00M426.10,624.20L426.10,626.60M425.06,624.80L427.14,626.00M427.14,624.80L425.06,626.00M429.60,624.20L429.60,626.60M428.56,624.80L430.64,626.00M430.64,624.80L428.56,626.00" stroke="#333333" stroke-width="0.65" stroke-linecap="round"/>
<rect x="443.20" y="621.90" width="34.60" height="11.59" fill="#f0e0e1"/>
<line x1="478.30" y1="628.50" x2="480.40" y2="628.50" stroke="#333" stroke-width="0.8"/>
<text x="482.50" y="630.60" font-size="6.6" textLength="18.31" lengthAdjust="spacingAndGlyphs" fill="#262626" stroke="#262626" stroke-width="0.18">GRIA4</text>
<rect x="409.00" y="632.89" width="34.80" height="11.59" fill="#eed1d3"/>
<path d="M426.10,635.18L426.10,637.59M425.06,635.78L427.14,636.99M427.14,635.78L425.06,636.99" stroke="#333333" stroke-width="0.65" stroke-linecap="round"/>
<rect x="443.20" y="632.89" width="34.60" height="11.59" fill="#e0e8ea"/>
<line x1="478.30" y1="639.49" x2="480.40" y2="639.49" stroke="#333" stroke-width="0.8"/>
<text x="482.50" y="641.59" font-size="6.6" textLength="17.62" lengthAdjust="spacingAndGlyphs" fill="#262626" stroke="#262626" stroke-width="0.18">GRM3</text>
<rect x="409.00" y="643.88" width="34.80" height="11.59" fill="#eed1d3"/>
<path d="M426.10,646.17L426.10,648.58M425.06,646.77L427.14,647.98M427.14,646.77L425.06,647.98" stroke="#333333" stroke-width="0.65" stroke-linecap="round"/>
<rect x="443.20" y="643.88" width="34.60" height="11.59" fill="#e0e8ea"/>
<line x1="478.30" y1="650.48" x2="480.40" y2="650.48" stroke="#333" stroke-width="0.8"/>
<text x="482.50" y="652.58" font-size="6.6" textLength="20.34" lengthAdjust="spacingAndGlyphs" fill="#262626" stroke="#262626" stroke-width="0.18">ADCY2</text>
<rect x="409.00" y="654.87" width="34.80" height="11.59" fill="#eed1d3"/>
<path d="M424.35,657.16L424.35,659.57M423.31,657.76L425.39,658.97M425.39,657.76L423.31,658.97M427.85,657.16L427.85,659.57M426.81,657.76L428.89,658.97M428.89,657.76L426.81,658.97" stroke="#333333" stroke-width="0.65" stroke-linecap="round"/>
<rect x="443.20" y="654.87" width="34.60" height="11.59" fill="#dce5e8"/>
<line x1="478.30" y1="661.47" x2="480.40" y2="661.47" stroke="#333" stroke-width="0.8"/>
<text x="482.50" y="663.57" font-size="6.6" textLength="15.93" lengthAdjust="spacingAndGlyphs" fill="#262626" stroke="#262626" stroke-width="0.18">DLG4</text>
<rect x="409.00" y="665.86" width="34.80" height="11.59" fill="#e8a4a9"/>
<path d="M422.60,668.15L422.60,670.56M421.56,668.75L423.64,669.96M423.64,668.75L421.56,669.96M426.10,668.15L426.10,670.56M425.06,668.75L427.14,669.96M427.14,668.75L425.06,669.96M429.60,668.15L429.60,670.56M428.56,668.75L430.64,669.96M430.64,668.75L428.56,669.96" stroke="#333333" stroke-width="0.65" stroke-linecap="round"/>
<rect x="443.20" y="665.86" width="34.60" height="11.59" fill="#e3e9ec"/>
<line x1="478.30" y1="672.46" x2="480.40" y2="672.46" stroke="#333" stroke-width="0.8"/>
<text x="484.50" y="674.56" font-size="6.6" textLength="22.72" lengthAdjust="spacingAndGlyphs" fill="#262626" stroke="#262626" stroke-width="0.18">SLC1A1</text>
<rect x="409.00" y="676.85" width="34.80" height="11.59" fill="#e8a4a9"/>
<path d="M424.35,679.14L424.35,681.55M423.31,679.75L425.39,680.95M425.39,679.75L423.31,680.95M427.85,679.14L427.85,681.55M426.81,679.75L428.89,680.95M428.89,679.75L426.81,680.95" stroke="#333333" stroke-width="0.65" stroke-linecap="round"/>
<rect x="443.20" y="676.85" width="34.60" height="11.59" fill="#e3e9ec"/>
<line x1="478.30" y1="683.45" x2="480.40" y2="683.45" stroke="#333" stroke-width="0.8"/>
<text x="484.50" y="685.55" font-size="6.6" textLength="12.21" lengthAdjust="spacingAndGlyphs" fill="#262626" stroke="#262626" stroke-width="0.18">GLS</text>
<rect x="409.00" y="687.84" width="34.80" height="11.59" fill="#e8a4a9"/>
<path d="M422.60,690.13L422.60,692.54M421.56,690.74L423.64,691.94M423.64,690.74L421.56,691.94M426.10,690.13L426.10,692.54M425.06,690.74L427.14,691.94M427.14,690.74L425.06,691.94M429.60,690.13L429.60,692.54M428.56,690.74L430.64,691.94M430.64,690.74L428.56,691.94" stroke="#333333" stroke-width="0.65" stroke-linecap="round"/>
<rect x="443.20" y="687.84" width="34.60" height="11.59" fill="#e3e9ec"/>
<line x1="478.30" y1="694.44" x2="480.40" y2="694.44" stroke="#333" stroke-width="0.8"/>
<text x="484.50" y="696.54" font-size="6.6" font-weight="bold" textLength="23.73" lengthAdjust="spacingAndGlyphs" fill="#111" stroke="#111" stroke-width="0.18">PLA2G4</text>
<rect x="409.00" y="698.83" width="34.80" height="11.59" fill="#e8a1a6"/>
<path d="M422.60,701.12L422.60,703.53M421.56,701.73L423.64,702.93M423.64,701.73L421.56,702.93M426.10,701.12L426.10,703.53M425.06,701.73L427.14,702.93M427.14,701.73L425.06,702.93M429.60,701.12L429.60,703.53M428.56,701.73L430.64,702.93M430.64,701.73L428.56,702.93" stroke="#333333" stroke-width="0.65" stroke-linecap="round"/>
<rect x="443.20" y="698.83" width="34.60" height="11.59" fill="#e3e9ec"/>
<line x1="478.30" y1="705.43" x2="480.40" y2="705.43" stroke="#333" stroke-width="0.8"/>
<text x="484.50" y="707.53" font-size="6.6" textLength="26.10" lengthAdjust="spacingAndGlyphs" fill="#262626" stroke="#262626" stroke-width="0.18">HOMER2</text>
<rect x="409.00" y="709.82" width="34.80" height="11.59" fill="#eab6ba"/>
<path d="M424.35,712.12L424.35,714.52M423.31,712.72L425.39,713.92M425.39,712.72L423.31,713.92M427.85,712.12L427.85,714.52M426.81,712.72L428.89,713.92M428.89,712.72L426.81,713.92" stroke="#333333" stroke-width="0.65" stroke-linecap="round"/>
<rect x="443.20" y="709.82" width="34.60" height="11.59" fill="#e0e8ea"/>
<line x1="478.30" y1="716.42" x2="480.40" y2="716.42" stroke="#333" stroke-width="0.8"/>
<text x="484.50" y="718.52" font-size="6.6" textLength="20.68" lengthAdjust="spacingAndGlyphs" fill="#262626" stroke="#262626" stroke-width="0.18">MAPK1</text>
<rect x="409.00" y="720.81" width="34.80" height="11.59" fill="#ebbcbf"/>
<path d="M424.35,723.10L424.35,725.50M423.31,723.70L425.39,724.90M425.39,723.70L423.31,724.90M427.85,723.10L427.85,725.50M426.81,723.70L428.89,724.90M428.89,723.70L426.81,724.90" stroke="#333333" stroke-width="0.65" stroke-linecap="round"/>
<rect x="443.20" y="720.81" width="34.60" height="11.59" fill="#e0e8ea"/>
<line x1="478.30" y1="727.41" x2="480.40" y2="727.41" stroke="#333" stroke-width="0.8"/>
<text x="484.50" y="729.51" font-size="6.6" textLength="22.72" lengthAdjust="spacingAndGlyphs" fill="#262626" stroke="#262626" stroke-width="0.18">SLC1A3</text>
<rect x="409.00" y="731.80" width="34.80" height="11.59" fill="#eab6ba"/>
<path d="M424.35,734.09L424.35,736.50M423.31,734.69L425.39,735.89M425.39,734.69L423.31,735.89M427.85,734.09L427.85,736.50M426.81,734.69L428.89,735.89M428.89,734.69L426.81,735.89" stroke="#333333" stroke-width="0.65" stroke-linecap="round"/>
<rect x="443.20" y="731.80" width="34.60" height="11.59" fill="#f2efef"/>
<line x1="478.30" y1="738.40" x2="480.40" y2="738.40" stroke="#333" stroke-width="0.8"/>
<text x="484.50" y="740.50" font-size="6.6" textLength="24.07" lengthAdjust="spacingAndGlyphs" fill="#262626" stroke="#262626" stroke-width="0.18">PPP3CB</text>
<rect x="409.00" y="742.79" width="34.80" height="11.59" fill="#ecbfc2"/>
<path d="M426.10,745.08L426.10,747.49M425.06,745.68L427.14,746.88M427.14,745.68L425.06,746.88" stroke="#333333" stroke-width="0.65" stroke-linecap="round"/>
<rect x="443.20" y="742.79" width="34.60" height="11.59" fill="#e8edef"/>
<line x1="478.30" y1="749.39" x2="480.40" y2="749.39" stroke="#333" stroke-width="0.8"/>
<text x="484.50" y="751.49" font-size="6.6" textLength="24.75" lengthAdjust="spacingAndGlyphs" fill="#262626" stroke="#262626" stroke-width="0.18">CACNA1</text>
<rect x="409.00" y="753.78" width="34.80" height="11.59" fill="#ecbfc2"/>
<path d="M424.35,756.07L424.35,758.48M423.31,756.67L425.39,757.88M425.39,756.67L423.31,757.88M427.85,756.07L427.85,758.48M426.81,756.67L428.89,757.88M428.89,756.67L426.81,757.88" stroke="#333333" stroke-width="0.65" stroke-linecap="round"/>
<rect x="443.20" y="753.78" width="34.60" height="11.59" fill="#e8edef"/>
<line x1="478.30" y1="760.38" x2="480.40" y2="760.38" stroke="#333" stroke-width="0.8"/>
<text x="484.50" y="762.48" font-size="6.6" textLength="20.00" lengthAdjust="spacingAndGlyphs" fill="#262626" stroke="#262626" stroke-width="0.18">TRPC1</text>
<rect x="409.00" y="764.77" width="34.80" height="11.59" fill="#eab2b6"/>
<path d="M422.60,767.06L422.60,769.47M421.56,767.66L423.64,768.87M423.64,767.66L421.56,768.87M426.10,767.06L426.10,769.47M425.06,767.66L427.14,768.87M427.14,767.66L425.06,768.87M429.60,767.06L429.60,769.47M428.56,767.66L430.64,768.87M430.64,767.66L428.56,768.87" stroke="#333333" stroke-width="0.65" stroke-linecap="round"/>
<rect x="443.20" y="764.77" width="34.60" height="11.59" fill="#e7ecee"/>
<line x1="478.30" y1="771.37" x2="480.40" y2="771.37" stroke="#333" stroke-width="0.8"/>
<text x="484.50" y="773.47" font-size="6.6" textLength="20.34" lengthAdjust="spacingAndGlyphs" fill="#262626" stroke="#262626" stroke-width="0.18">ADCY9</text>
<rect x="409.00" y="775.76" width="34.80" height="10.99" fill="#eab2b6"/>
<path d="M424.35,778.05L424.35,780.46M423.31,778.65L425.39,779.86M425.39,778.65L423.31,779.86M427.85,778.05L427.85,780.46M426.81,778.65L428.89,779.86M428.89,778.65L426.81,779.86" stroke="#333333" stroke-width="0.65" stroke-linecap="round"/>
<rect x="443.20" y="775.76" width="34.60" height="10.99" fill="#e3e9ec"/>
<line x1="478.30" y1="782.36" x2="480.40" y2="782.36" stroke="#333" stroke-width="0.8"/>
<text x="484.50" y="784.46" font-size="6.6" textLength="24.41" lengthAdjust="spacingAndGlyphs" fill="#262626" stroke="#262626" stroke-width="0.18">SHANK1</text>
<text x="556.60" y="401.20" font-size="6.6" text-anchor="middle" font-weight="bold" textLength="16.00" lengthAdjust="spacingAndGlyphs" fill="#000" stroke="#000" stroke-width="0.18">4 dpi</text>
<text x="590.60" y="401.20" font-size="6.6" text-anchor="middle" font-weight="bold" textLength="19.50" lengthAdjust="spacingAndGlyphs" fill="#000" stroke="#000" stroke-width="0.18">80 dpi</text>
<rect x="538.90" y="403.20" width="34.60" height="11.68" fill="#f1e8e9"/>
<rect x="572.90" y="403.20" width="34.10" height="11.68" fill="#edcacd"/>
<path d="M588.20,405.54L588.20,407.94M587.16,406.14L589.24,407.34M589.24,406.14L587.16,407.34M591.70,405.54L591.70,407.94M590.66,406.14L592.74,407.34M592.74,406.14L590.66,407.34" stroke="#333333" stroke-width="0.65" stroke-linecap="round"/>
<line x1="607.50" y1="408.70" x2="609.60" y2="408.70" stroke="#333" stroke-width="0.8"/>
<text x="612.20" y="410.80" font-size="6.6" font-weight="bold" textLength="26.78" lengthAdjust="spacingAndGlyphs" fill="#111" stroke="#111" stroke-width="0.18">SLC17A6</text>
<rect x="538.90" y="414.28" width="34.60" height="11.68" fill="#dfe7ea"/>
<rect x="572.90" y="414.28" width="34.10" height="11.68" fill="#cfdde1"/>
<path d="M589.95,416.62L589.95,419.02M588.91,417.22L590.99,418.42M590.99,417.22L588.91,418.42" stroke="#333333" stroke-width="0.65" stroke-linecap="round"/>
<line x1="607.50" y1="419.78" x2="609.60" y2="419.78" stroke="#333" stroke-width="0.8"/>
<text x="612.20" y="421.88" font-size="6.6" textLength="30.40" lengthAdjust="spacingAndGlyphs" fill="#262626" stroke="#262626" stroke-width="0.18">ATP6V1G2</text>
<rect x="538.90" y="425.36" width="34.60" height="11.68" fill="#dfe7ea"/>
<rect x="572.90" y="425.36" width="34.10" height="11.68" fill="#d4e0e4"/>
<path d="M589.95,427.70L589.95,430.10M588.91,428.30L590.99,429.50M590.99,428.30L588.91,429.50" stroke="#333333" stroke-width="0.65" stroke-linecap="round"/>
<line x1="607.50" y1="430.86" x2="609.60" y2="430.86" stroke="#333" stroke-width="0.8"/>
<text x="612.20" y="432.96" font-size="6.6" textLength="20.00" lengthAdjust="spacingAndGlyphs" fill="#262626" stroke="#262626" stroke-width="0.18">AP2M1</text>
<rect x="538.90" y="436.44" width="34.60" height="11.68" fill="#dce5e8"/>
<path d="M555.90,438.78L555.90,441.18M554.86,439.38L556.94,440.58M556.94,439.38L554.86,440.58" stroke="#333333" stroke-width="0.65" stroke-linecap="round"/>
<rect x="572.90" y="436.44" width="34.10" height="11.68" fill="#d9e3e7"/>
<line x1="607.50" y1="441.94" x2="609.60" y2="441.94" stroke="#333" stroke-width="0.8"/>
<text x="612.20" y="444.04" font-size="6.6" textLength="15.26" lengthAdjust="spacingAndGlyphs" fill="#262626" stroke="#262626" stroke-width="0.18">STX2</text>
<rect x="538.90" y="447.52" width="34.60" height="11.68" fill="#abc6ce"/>
<path d="M554.15,449.86L554.15,452.26M553.11,450.46L555.19,451.66M555.19,450.46L553.11,451.66M557.65,449.86L557.65,452.26M556.61,450.46L558.69,451.66M558.69,450.46L556.61,451.66" stroke="#333333" stroke-width="0.65" stroke-linecap="round"/>
<rect x="572.90" y="447.52" width="34.10" height="11.68" fill="#f0e0e1"/>
<line x1="607.50" y1="453.02" x2="609.60" y2="453.02" stroke="#333" stroke-width="0.8"/>
<text x="612.20" y="455.12" font-size="6.6" textLength="22.72" lengthAdjust="spacingAndGlyphs" fill="#262626" stroke="#262626" stroke-width="0.18">SLC6A4</text>
<rect x="538.90" y="458.60" width="34.60" height="11.68" fill="#c2d4da"/>
<rect x="572.90" y="458.60" width="34.10" height="11.68" fill="#edc7ca"/>
<path d="M589.95,460.94L589.95,463.34M588.91,461.54L590.99,462.74M590.99,461.54L588.91,462.74" stroke="#333333" stroke-width="0.65" stroke-linecap="round"/>
<line x1="607.50" y1="464.10" x2="609.60" y2="464.10" stroke="#333" stroke-width="0.8"/>
<text x="612.20" y="466.20" font-size="6.6" textLength="30.40" lengthAdjust="spacingAndGlyphs" fill="#262626" stroke="#262626" stroke-width="0.18">ATP6V1G3</text>
<rect x="538.90" y="469.68" width="34.60" height="11.68" fill="#d6e1e5"/>
<path d="M555.90,472.02L555.90,474.42M554.86,472.62L556.94,473.82M556.94,472.62L554.86,473.82" stroke="#333333" stroke-width="0.65" stroke-linecap="round"/>
<rect x="572.90" y="469.68" width="34.10" height="11.68" fill="#f0e0e1"/>
<line x1="607.50" y1="475.18" x2="609.60" y2="475.18" stroke="#333" stroke-width="0.8"/>
<text x="612.20" y="477.28" font-size="6.6" textLength="30.06" lengthAdjust="spacingAndGlyphs" fill="#262626" stroke="#262626" stroke-width="0.18">ATP6V1C1</text>
<rect x="538.90" y="480.76" width="34.60" height="11.68" fill="#d6e1e5"/>
<path d="M555.90,483.10L555.90,485.50M554.86,483.70L556.94,484.90M556.94,483.70L554.86,484.90" stroke="#333333" stroke-width="0.65" stroke-linecap="round"/>
<rect x="572.90" y="480.76" width="34.10" height="11.68" fill="#f0ddde"/>
<line x1="607.50" y1="486.26" x2="609.60" y2="486.26" stroke="#333" stroke-width="0.8"/>
<text x="612.20" y="488.36" font-size="6.6" textLength="26.67" lengthAdjust="spacingAndGlyphs" fill="#262626" stroke="#262626" stroke-width="0.18">ATP6V1H</text>
<rect x="538.90" y="491.84" width="34.60" height="11.68" fill="#bfd2d8"/>
<path d="M554.15,494.18L554.15,496.58M553.11,494.78L555.19,495.98M555.19,494.78L553.11,495.98M557.65,494.18L557.65,496.58M556.61,494.78L558.69,495.98M558.69,494.78L556.61,495.98" stroke="#333333" stroke-width="0.65" stroke-linecap="round"/>
<rect x="572.90" y="491.84" width="34.10" height="11.68" fill="#f0e3e3"/>
<line x1="607.50" y1="497.34" x2="609.60" y2="497.34" stroke="#333" stroke-width="0.8"/>
<text x="612.20" y="499.44" font-size="6.6" textLength="29.73" lengthAdjust="spacingAndGlyphs" fill="#262626" stroke="#262626" stroke-width="0.18">ATP6V1E1</text>
<rect x="538.90" y="502.92" width="34.60" height="11.68" fill="#c2d4da"/>
<path d="M555.90,505.26L555.90,507.66M554.86,505.86L556.94,507.06M556.94,505.86L554.86,507.06" stroke="#333333" stroke-width="0.65" stroke-linecap="round"/>
<rect x="572.90" y="502.92" width="34.10" height="11.68" fill="#f0e0e1"/>
<line x1="607.50" y1="508.42" x2="609.60" y2="508.42" stroke="#333" stroke-width="0.8"/>
<text x="612.20" y="510.52" font-size="6.6" textLength="19.33" lengthAdjust="spacingAndGlyphs" fill="#262626" stroke="#262626" stroke-width="0.18">CPLX1</text>
<rect x="538.90" y="514.00" width="34.60" height="11.68" fill="#c2d4da"/>
<path d="M554.15,516.34L554.15,518.74M553.11,516.94L555.19,518.14M555.19,516.94L553.11,518.14M557.65,516.34L557.65,518.74M556.61,516.94L558.69,518.14M558.69,516.94L556.61,518.14" stroke="#333333" stroke-width="0.65" stroke-linecap="round"/>
<rect x="572.90" y="514.00" width="34.10" height="11.68" fill="#efd7d9"/>
<path d="M589.95,516.34L589.95,518.74M588.91,516.94L590.99,518.14M590.99,516.94L588.91,518.14" stroke="#333333" stroke-width="0.65" stroke-linecap="round"/>
<line x1="607.50" y1="519.50" x2="609.60" y2="519.50" stroke="#333" stroke-width="0.8"/>
<text x="612.20" y="521.60" font-size="6.6" font-weight="bold" textLength="15.36" lengthAdjust="spacingAndGlyphs" fill="#111" stroke="#111" stroke-width="0.18">CLTA</text>
<rect x="538.90" y="525.08" width="34.60" height="11.68" fill="#cfdde1"/>
<path d="M555.90,527.42L555.90,529.82M554.86,528.02L556.94,529.22M556.94,528.02L554.86,529.22" stroke="#333333" stroke-width="0.65" stroke-linecap="round"/>
<rect x="572.90" y="525.08" width="34.10" height="11.68" fill="#f1e7e7"/>
<line x1="607.50" y1="530.58" x2="609.60" y2="530.58" stroke="#333" stroke-width="0.8"/>
<text x="612.20" y="532.68" font-size="6.6" textLength="30.06" lengthAdjust="spacingAndGlyphs" fill="#262626" stroke="#262626" stroke-width="0.18">ATP6V0D1</text>
<rect x="538.90" y="536.16" width="34.60" height="11.68" fill="#c7d8dd"/>
<path d="M555.90,538.50L555.90,540.90M554.86,539.10L556.94,540.30M556.94,539.10L554.86,540.30" stroke="#333333" stroke-width="0.65" stroke-linecap="round"/>
<rect x="572.90" y="536.16" width="34.10" height="11.68" fill="#f2efef"/>
<line x1="607.50" y1="541.66" x2="609.60" y2="541.66" stroke="#333" stroke-width="0.8"/>
<text x="612.20" y="543.76" font-size="6.6" textLength="16.16" lengthAdjust="spacingAndGlyphs" fill="#262626" stroke="#262626" stroke-width="0.18">NAPA</text>
<rect x="538.90" y="547.24" width="34.60" height="11.68" fill="#c7d8dd"/>
<path d="M554.15,549.58L554.15,551.98M553.11,550.18L555.19,551.38M555.19,550.18L553.11,551.38M557.65,549.58L557.65,551.98M556.61,550.18L558.69,551.38M558.69,550.18L556.61,551.38" stroke="#333333" stroke-width="0.65" stroke-linecap="round"/>
<rect x="572.90" y="547.24" width="34.10" height="11.68" fill="#f1e7e7"/>
<line x1="607.50" y1="552.74" x2="609.60" y2="552.74" stroke="#333" stroke-width="0.8"/>
<text x="612.20" y="554.84" font-size="6.6" textLength="29.73" lengthAdjust="spacingAndGlyphs" fill="#262626" stroke="#262626" stroke-width="0.18">ATP6V0E2</text>
<rect x="538.90" y="558.32" width="34.60" height="11.68" fill="#c8d8de"/>
<path d="M554.15,560.66L554.15,563.06M553.11,561.26L555.19,562.46M555.19,561.26L553.11,562.46M557.65,560.66L557.65,563.06M556.61,561.26L558.69,562.46M558.69,561.26L556.61,562.46" stroke="#333333" stroke-width="0.65" stroke-linecap="round"/>
<rect x="572.90" y="558.32" width="34.10" height="11.68" fill="#e7ecee"/>
<line x1="607.50" y1="563.82" x2="609.60" y2="563.82" stroke="#333" stroke-width="0.8"/>
<text x="612.20" y="565.92" font-size="6.6" font-weight="bold" textLength="17.28" lengthAdjust="spacingAndGlyphs" fill="#111" stroke="#111" stroke-width="0.18">DNM2</text>
<rect x="538.90" y="569.40" width="34.60" height="11.68" fill="#d6e1e5"/>
<path d="M555.90,571.74L555.90,574.14M554.86,572.34L556.94,573.54M556.94,572.34L554.86,573.54" stroke="#333333" stroke-width="0.65" stroke-linecap="round"/>
<rect x="572.90" y="569.40" width="34.10" height="11.68" fill="#e8edef"/>
<line x1="607.50" y1="574.90" x2="609.60" y2="574.90" stroke="#333" stroke-width="0.8"/>
<text x="612.20" y="577.00" font-size="6.6" textLength="29.73" lengthAdjust="spacingAndGlyphs" fill="#262626" stroke="#262626" stroke-width="0.18">ATP6V0A4</text>
<rect x="538.90" y="580.48" width="34.60" height="11.68" fill="#b1c9d1"/>
<path d="M554.15,582.82L554.15,585.22M553.11,583.42L555.19,584.62M555.19,583.42L553.11,584.62M557.65,582.82L557.65,585.22M556.61,583.42L558.69,584.62M558.69,583.42L556.61,584.62" stroke="#333333" stroke-width="0.65" stroke-linecap="round"/>
<rect x="572.90" y="580.48" width="34.10" height="11.68" fill="#f1e4e5"/>
<line x1="607.50" y1="585.98" x2="609.60" y2="585.98" stroke="#333" stroke-width="0.8"/>
<text x="612.20" y="588.08" font-size="6.6" textLength="15.14" lengthAdjust="spacingAndGlyphs" fill="#262626" stroke="#262626" stroke-width="0.18">CLTB</text>
<rect x="538.90" y="591.56" width="34.60" height="11.68" fill="#b1c9d1"/>
<path d="M555.90,593.90L555.90,596.30M554.86,594.50L556.94,595.70M556.94,594.50L554.86,595.70" stroke="#333333" stroke-width="0.65" stroke-linecap="round"/>
<rect x="572.90" y="591.56" width="34.10" height="11.68" fill="#f2efef"/>
<line x1="607.50" y1="597.06" x2="609.60" y2="597.06" stroke="#333" stroke-width="0.8"/>
<text x="612.20" y="599.16" font-size="6.6" textLength="29.73" lengthAdjust="spacingAndGlyphs" fill="#262626" stroke="#262626" stroke-width="0.18">ATP6V1E2</text>
<rect x="538.90" y="602.64" width="34.60" height="11.68" fill="#b4cbd2"/>
<path d="M554.15,604.98L554.15,607.38M553.11,605.58L555.19,606.78M555.19,605.58L553.11,606.78M557.65,604.98L557.65,607.38M556.61,605.58L558.69,606.78M558.69,605.58L556.61,606.78" stroke="#333333" stroke-width="0.65" stroke-linecap="round"/>
<rect x="572.90" y="602.64" width="34.10" height="11.68" fill="#f2efef"/>
<line x1="607.50" y1="608.14" x2="609.60" y2="608.14" stroke="#333" stroke-width="0.8"/>
<text x="612.20" y="610.24" font-size="6.6" textLength="18.99" lengthAdjust="spacingAndGlyphs" fill="#262626" stroke="#262626" stroke-width="0.18">AP2S1</text>
<rect x="538.90" y="613.72" width="34.60" height="11.68" fill="#b4cbd2"/>
<path d="M554.15,616.06L554.15,618.46M553.11,616.66L555.19,617.86M555.19,616.66L553.11,617.86M557.65,616.06L557.65,618.46M556.61,616.66L558.69,617.86M558.69,616.66L556.61,617.86" stroke="#333333" stroke-width="0.65" stroke-linecap="round"/>
<rect x="572.90" y="613.72" width="34.10" height="11.68" fill="#e7ecee"/>
<line x1="607.50" y1="619.22" x2="609.60" y2="619.22" stroke="#333" stroke-width="0.8"/>
<text x="612.20" y="621.32" font-size="6.6" textLength="20.00" lengthAdjust="spacingAndGlyphs" fill="#262626" stroke="#262626" stroke-width="0.18">RAB3A</text>
<rect x="538.90" y="624.80" width="34.60" height="11.68" fill="#b1c9d1"/>
<path d="M552.40,627.14L552.40,629.54M551.36,627.74L553.44,628.94M553.44,627.74L551.36,628.94M555.90,627.14L555.90,629.54M554.86,627.74L556.94,628.94M556.94,627.74L554.86,628.94M559.40,627.14L559.40,629.54M558.36,627.74L560.44,628.94M560.44,627.74L558.36,628.94" stroke="#333333" stroke-width="0.65" stroke-linecap="round"/>
<rect x="572.90" y="624.80" width="34.10" height="11.68" fill="#eaeef0"/>
<line x1="607.50" y1="630.30" x2="609.60" y2="630.30" stroke="#333" stroke-width="0.8"/>
<text x="612.20" y="632.40" font-size="6.6" textLength="22.37" lengthAdjust="spacingAndGlyphs" fill="#2a2a2a">TCIRG1</text>
<rect x="538.90" y="635.88" width="34.60" height="11.68" fill="#b1c9d1"/>
<path d="M555.90,638.22L555.90,640.62M554.86,638.82L556.94,640.02M556.94,638.82L554.86,640.02" stroke="#333333" stroke-width="0.65" stroke-linecap="round"/>
<rect x="572.90" y="635.88" width="34.10" height="11.68" fill="#f2efef"/>
<line x1="607.50" y1="641.38" x2="609.60" y2="641.38" stroke="#333" stroke-width="0.8"/>
<text x="613.20" y="643.48" font-size="6.8" textLength="27.42" lengthAdjust="spacingAndGlyphs" fill="#000" stroke="#000" stroke-width="0.2">SLC18A3</text>
<rect x="538.90" y="646.96" width="34.60" height="11.68" fill="#e6959b"/>
<path d="M552.40,649.30L552.40,651.70M551.36,649.90L553.44,651.10M553.44,649.90L551.36,651.10M555.90,649.30L555.90,651.70M554.86,649.90L556.94,651.10M556.94,649.90L554.86,651.10M559.40,649.30L559.40,651.70M558.36,649.90L560.44,651.10M560.44,649.90L558.36,651.10" stroke="#333333" stroke-width="0.65" stroke-linecap="round"/>
<rect x="572.90" y="646.96" width="34.10" height="11.68" fill="#e7ecee"/>
<line x1="607.50" y1="652.46" x2="609.60" y2="652.46" stroke="#333" stroke-width="0.8"/>
<text x="613.20" y="654.56" font-size="6.8" textLength="19.94" lengthAdjust="spacingAndGlyphs" fill="#000" stroke="#000" stroke-width="0.2">AP2B1</text>
<rect x="538.90" y="658.04" width="34.60" height="11.68" fill="#e8a1a6"/>
<path d="M552.40,660.38L552.40,662.78M551.36,660.98L553.44,662.18M553.44,660.98L551.36,662.18M555.90,660.38L555.90,662.78M554.86,660.98L556.94,662.18M556.94,660.98L554.86,662.18M559.40,660.38L559.40,662.78M558.36,660.98L560.44,662.18M560.44,660.98L558.36,662.18" stroke="#333333" stroke-width="0.65" stroke-linecap="round"/>
<rect x="572.90" y="658.04" width="34.10" height="11.68" fill="#f2efef"/>
<line x1="607.50" y1="663.54" x2="609.60" y2="663.54" stroke="#333" stroke-width="0.8"/>
<text x="613.20" y="665.64" font-size="6.8" textLength="31.21" lengthAdjust="spacingAndGlyphs" fill="#000" stroke="#000" stroke-width="0.2">ATP6V0A2</text>
<rect x="538.90" y="669.12" width="34.60" height="11.68" fill="#e8a1a6"/>
<path d="M554.15,671.46L554.15,673.86M553.11,672.06L555.19,673.26M555.19,672.06L553.11,673.26M557.65,671.46L557.65,673.86M556.61,672.06L558.69,673.26M558.69,672.06L556.61,673.26" stroke="#333333" stroke-width="0.65" stroke-linecap="round"/>
<rect x="572.90" y="669.12" width="34.10" height="11.68" fill="#f1e7e7"/>
<line x1="607.50" y1="674.62" x2="609.60" y2="674.62" stroke="#333" stroke-width="0.8"/>
<text x="613.20" y="676.72" font-size="6.8" textLength="23.86" lengthAdjust="spacingAndGlyphs" fill="#000" stroke="#000" stroke-width="0.2">SLC6A5</text>
<rect x="538.90" y="680.20" width="34.60" height="11.68" fill="#ecbfc2"/>
<path d="M552.40,682.54L552.40,684.94M551.36,683.14L553.44,684.34M553.44,683.14L551.36,684.34M555.90,682.54L555.90,684.94M554.86,683.14L556.94,684.34M556.94,683.14L554.86,684.34M559.40,682.54L559.40,684.94M558.36,683.14L560.44,684.34M560.44,683.14L558.36,684.34" stroke="#333333" stroke-width="0.65" stroke-linecap="round"/>
<rect x="572.90" y="680.20" width="34.10" height="11.68" fill="#e7ecee"/>
<line x1="607.50" y1="685.70" x2="609.60" y2="685.70" stroke="#333" stroke-width="0.8"/>
<text x="613.20" y="687.80" font-size="6.8" textLength="16.02" lengthAdjust="spacingAndGlyphs" fill="#000" stroke="#000" stroke-width="0.2">SYT1</text>
<rect x="538.90" y="691.28" width="34.60" height="11.68" fill="#ecbfc2"/>
<path d="M555.90,693.62L555.90,696.02M554.86,694.22L556.94,695.42M556.94,694.22L554.86,695.42" stroke="#333333" stroke-width="0.65" stroke-linecap="round"/>
<rect x="572.90" y="691.28" width="34.10" height="11.68" fill="#e7ecee"/>
<line x1="607.50" y1="696.78" x2="609.60" y2="696.78" stroke="#333" stroke-width="0.8"/>
<text x="613.20" y="698.88" font-size="6.8" textLength="25.63" lengthAdjust="spacingAndGlyphs" fill="#000" stroke="#000" stroke-width="0.2">UNC13C</text>
<rect x="538.90" y="702.36" width="34.60" height="11.68" fill="#eecdcf"/>
<path d="M555.90,704.70L555.90,707.10M554.86,705.30L556.94,706.50M556.94,705.30L554.86,706.50" stroke="#333333" stroke-width="0.65" stroke-linecap="round"/>
<rect x="572.90" y="702.36" width="34.10" height="11.68" fill="#e3e9ec"/>
<line x1="607.50" y1="707.86" x2="609.60" y2="707.86" stroke="#333" stroke-width="0.8"/>
<text x="613.20" y="709.96" font-size="6.8" textLength="30.26" lengthAdjust="spacingAndGlyphs" fill="#000" stroke="#000" stroke-width="0.2">CACNA1B</text>
<rect x="538.90" y="713.44" width="34.60" height="11.68" fill="#edc7ca"/>
<path d="M554.15,715.78L554.15,718.18M553.11,716.38L555.19,717.58M555.19,716.38L553.11,717.58M557.65,715.78L557.65,718.18M556.61,716.38L558.69,717.58M558.69,716.38L556.61,717.58" stroke="#333333" stroke-width="0.65" stroke-linecap="round"/>
<rect x="572.90" y="713.44" width="34.10" height="11.68" fill="#e3e9ec"/>
<line x1="607.50" y1="718.94" x2="609.60" y2="718.94" stroke="#333" stroke-width="0.8"/>
<text x="613.20" y="721.04" font-size="6.8" textLength="19.57" lengthAdjust="spacingAndGlyphs" fill="#000" stroke="#000" stroke-width="0.2">RIMS1</text>
<rect x="538.90" y="724.52" width="34.60" height="11.68" fill="#ebbcbf"/>
<path d="M554.15,726.86L554.15,729.26M553.11,727.46L555.19,728.66M555.19,727.46L553.11,728.66M557.65,726.86L557.65,729.26M556.61,727.46L558.69,728.66M558.69,727.46L556.61,728.66" stroke="#333333" stroke-width="0.65" stroke-linecap="round"/>
<rect x="572.90" y="724.52" width="34.10" height="11.68" fill="#e3e9ec"/>
<line x1="607.50" y1="730.02" x2="609.60" y2="730.02" stroke="#333" stroke-width="0.8"/>
<text x="613.20" y="732.12" font-size="6.8" textLength="23.86" lengthAdjust="spacingAndGlyphs" fill="#000" stroke="#000" stroke-width="0.2">SLC1A3</text>
<rect x="538.90" y="735.60" width="34.60" height="11.68" fill="#e8a4a9"/>
<path d="M552.40,737.94L552.40,740.34M551.36,738.54L553.44,739.74M553.44,738.54L551.36,739.74M555.90,737.94L555.90,740.34M554.86,738.54L556.94,739.74M556.94,738.54L554.86,739.74M559.40,737.94L559.40,740.34M558.36,738.54L560.44,739.74M560.44,738.54L558.36,739.74" stroke="#333333" stroke-width="0.65" stroke-linecap="round"/>
<rect x="572.90" y="735.60" width="34.10" height="11.68" fill="#cddbe0"/>
<path d="M589.95,737.94L589.95,740.34M588.91,738.54L590.99,739.74M590.99,738.54L588.91,739.74" stroke="#333333" stroke-width="0.65" stroke-linecap="round"/>
<line x1="607.50" y1="741.10" x2="609.60" y2="741.10" stroke="#333" stroke-width="0.8"/>
<text x="613.20" y="743.20" font-size="6.8" font-weight="bold" textLength="24.92" lengthAdjust="spacingAndGlyphs" fill="#000" stroke="#000" stroke-width="0.12">STXBP1</text>
<rect x="538.90" y="746.68" width="34.60" height="11.68" fill="#e8a4a9"/>
<path d="M552.40,749.02L552.40,751.42M551.36,749.62L553.44,750.82M553.44,749.62L551.36,750.82M555.90,749.02L555.90,751.42M554.86,749.62L556.94,750.82M556.94,749.62L554.86,750.82M559.40,749.02L559.40,751.42M558.36,749.62L560.44,750.82M560.44,749.62L558.36,750.82" stroke="#333333" stroke-width="0.65" stroke-linecap="round"/>
<rect x="572.90" y="746.68" width="34.10" height="11.68" fill="#e3e9ec"/>
<line x1="607.50" y1="752.18" x2="609.60" y2="752.18" stroke="#333" stroke-width="0.8"/>
<text x="613.20" y="754.28" font-size="6.8" textLength="23.86" lengthAdjust="spacingAndGlyphs" fill="#000" stroke="#000" stroke-width="0.2">SLC1A1</text>
<rect x="538.90" y="757.76" width="34.60" height="11.68" fill="#e8a2a7"/>
<path d="M555.90,760.10L555.90,762.50M554.86,760.70L556.94,761.90M556.94,760.70L554.86,761.90" stroke="#333333" stroke-width="0.65" stroke-linecap="round"/>
<rect x="572.90" y="757.76" width="34.10" height="11.68" fill="#dce5e8"/>
<line x1="607.50" y1="763.26" x2="609.60" y2="763.26" stroke="#333" stroke-width="0.8"/>
<text x="613.20" y="765.36" font-size="6.8" textLength="27.42" lengthAdjust="spacingAndGlyphs" fill="#000" stroke="#000" stroke-width="0.2">SLC17A7</text>
<rect x="538.90" y="768.84" width="34.60" height="11.68" fill="#f0e1e2"/>
<path d="M555.90,771.18L555.90,773.58M554.86,771.78L556.94,772.98M556.94,771.78L554.86,772.98" stroke="#333333" stroke-width="0.65" stroke-linecap="round"/>
<rect x="572.90" y="768.84" width="34.10" height="11.68" fill="#ebeff0"/>
<line x1="607.50" y1="774.34" x2="609.60" y2="774.34" stroke="#333" stroke-width="0.8"/>
<text x="613.20" y="776.44" font-size="6.8" textLength="30.26" lengthAdjust="spacingAndGlyphs" fill="#000" stroke="#000" stroke-width="0.2">CACNA1A</text>
<rect x="538.90" y="779.92" width="34.60" height="11.68" fill="#efd6d7"/>
<path d="M555.90,782.26L555.90,784.66M554.86,782.86L556.94,784.06M556.94,782.86L554.86,784.06" stroke="#333333" stroke-width="0.65" stroke-linecap="round"/>
<rect x="572.90" y="779.92" width="34.10" height="11.68" fill="#f0ddde"/>
<path d="M589.95,782.26L589.95,784.66M588.91,782.86L590.99,784.06M590.99,782.86L588.91,784.06" stroke="#333333" stroke-width="0.65" stroke-linecap="round"/>
<line x1="607.50" y1="785.42" x2="609.60" y2="785.42" stroke="#333" stroke-width="0.8"/>
<text x="613.20" y="787.52" font-size="6.8" font-weight="bold" textLength="18.15" lengthAdjust="spacingAndGlyphs" fill="#000" stroke="#000" stroke-width="0.12">DNM3</text>
<rect x="538.90" y="791.00" width="34.60" height="11.68" fill="#efd6d7"/>
<path d="M555.90,793.34L555.90,795.74M554.86,793.94L556.94,795.14M556.94,793.94L554.86,795.14" stroke="#333333" stroke-width="0.65" stroke-linecap="round"/>
<rect x="572.90" y="791.00" width="34.10" height="11.68" fill="#f1e7e7"/>
<line x1="607.50" y1="796.50" x2="609.60" y2="796.50" stroke="#333" stroke-width="0.8"/>
<text x="613.20" y="798.60" font-size="6.8" textLength="16.02" lengthAdjust="spacingAndGlyphs" fill="#000" stroke="#000" stroke-width="0.2">STX3</text>
<rect x="538.90" y="802.08" width="34.60" height="11.68" fill="#efd6d7"/>
<path d="M555.90,804.42L555.90,806.82M554.86,805.02L556.94,806.22M556.94,805.02L554.86,806.22" stroke="#333333" stroke-width="0.65" stroke-linecap="round"/>
<rect x="572.90" y="802.08" width="34.10" height="11.68" fill="#f1e7e7"/>
<line x1="607.50" y1="807.58" x2="609.60" y2="807.58" stroke="#333" stroke-width="0.8"/>
<text x="613.20" y="809.68" font-size="6.8" textLength="27.65" lengthAdjust="spacingAndGlyphs" fill="#000" stroke="#000" stroke-width="0.2">ATP6V1A</text>
<rect x="538.90" y="813.16" width="34.60" height="11.68" fill="#efd6d7"/>
<path d="M554.15,815.50L554.15,817.90M553.11,816.10L555.19,817.30M555.19,816.10L553.11,817.30M557.65,815.50L557.65,817.90M556.61,816.10L558.69,817.30M558.69,816.10L556.61,817.30" stroke="#333333" stroke-width="0.65" stroke-linecap="round"/>
<rect x="572.90" y="813.16" width="34.10" height="11.68" fill="#f1e7e7"/>
<line x1="607.50" y1="818.66" x2="609.60" y2="818.66" stroke="#333" stroke-width="0.8"/>
<text x="613.20" y="820.76" font-size="6.8" textLength="16.25" lengthAdjust="spacingAndGlyphs" fill="#000" stroke="#000" stroke-width="0.2">CLTC</text>
<rect x="538.90" y="824.24" width="34.60" height="11.68" fill="#f0e3e3"/>
<rect x="572.90" y="824.24" width="34.10" height="11.68" fill="#a5c1ca"/>
<path d="M586.45,826.58L586.45,828.98M585.41,827.18L587.49,828.38M587.49,827.18L585.41,828.38M589.95,826.58L589.95,828.98M588.91,827.18L590.99,828.38M590.99,827.18L588.91,828.38M593.45,826.58L593.45,828.98M592.41,827.18L594.49,828.38M594.49,827.18L592.41,828.38" stroke="#333333" stroke-width="0.65" stroke-linecap="round"/>
<line x1="607.50" y1="829.74" x2="609.60" y2="829.74" stroke="#333" stroke-width="0.8"/>
<text x="613.20" y="831.84" font-size="6.8" font-weight="bold" textLength="28.12" lengthAdjust="spacingAndGlyphs" fill="#000" stroke="#000" stroke-width="0.12">SLC6A13</text>
<rect x="538.90" y="835.32" width="34.60" height="11.68" fill="#e6959b"/>
<path d="M552.40,837.66L552.40,840.06M551.36,838.26L553.44,839.46M553.44,838.26L551.36,839.46M555.90,837.66L555.90,840.06M554.86,838.26L556.94,839.46M556.94,838.26L554.86,839.46M559.40,837.66L559.40,840.06M558.36,838.26L560.44,839.46M560.44,838.26L558.36,839.46" stroke="#333333" stroke-width="0.65" stroke-linecap="round"/>
<rect x="572.90" y="835.32" width="34.10" height="11.68" fill="#b7cdd4"/>
<path d="M589.95,837.66L589.95,840.06M588.91,838.26L590.99,839.46M590.99,838.26L588.91,839.46" stroke="#333333" stroke-width="0.65" stroke-linecap="round"/>
<line x1="607.50" y1="840.82" x2="609.60" y2="840.82" stroke="#333" stroke-width="0.8"/>
<text x="613.20" y="842.92" font-size="6.8" font-weight="bold" textLength="20.64" lengthAdjust="spacingAndGlyphs" fill="#000" stroke="#000" stroke-width="0.12">CPLX2</text>
<rect x="538.90" y="846.40" width="34.60" height="11.08" fill="#e37f87"/>
<path d="M552.40,848.74L552.40,851.14M551.36,849.34L553.44,850.54M553.44,849.34L551.36,850.54M555.90,848.74L555.90,851.14M554.86,849.34L556.94,850.54M556.94,849.34L554.86,850.54M559.40,848.74L559.40,851.14M558.36,849.34L560.44,850.54M560.44,849.34L558.36,850.54" stroke="#ffffff" stroke-width="0.65" stroke-linecap="round"/>
<rect x="572.90" y="846.40" width="34.10" height="11.08" fill="#91b4bf"/>
<path d="M588.20,848.74L588.20,851.14M587.16,849.34L589.24,850.54M589.24,849.34L587.16,850.54M591.70,848.74L591.70,851.14M590.66,849.34L592.74,850.54M592.74,849.34L590.66,850.54" stroke="#333333" stroke-width="0.65" stroke-linecap="round"/>
<line x1="607.50" y1="851.90" x2="609.60" y2="851.90" stroke="#333" stroke-width="0.8"/>
<text x="613.20" y="854.00" font-size="6.8" font-weight="bold" textLength="24.56" lengthAdjust="spacingAndGlyphs" fill="#000" stroke="#000" stroke-width="0.12">SLC1A2</text>
</svg>
</body></html>
